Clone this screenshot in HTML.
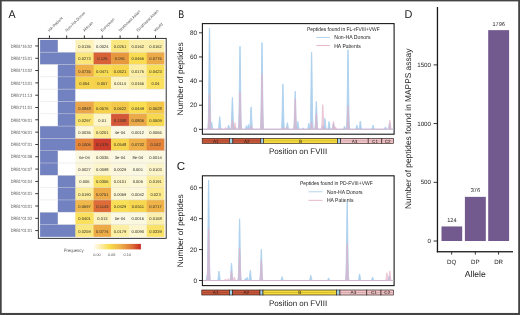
<!DOCTYPE html>
<html><head><meta charset="utf-8"><style>
html,body{margin:0;padding:0;background:#fff;}
body{width:520px;height:315px;overflow:hidden;}
svg{display:block;font-family:"Liberation Sans",sans-serif;will-change:transform;text-rendering:geometricPrecision;}
</style></head><body>
<svg width="520" height="315" viewBox="0 0 520 315">
<rect width="520" height="315" fill="#fff"/>
<rect x="0" y="0" width="520" height="1.4" fill="#444"/>
<rect x="0" y="0" width="1.7" height="315" fill="#444"/>
<rect x="518.2" y="0" width="1.8" height="315" fill="#444"/>
<rect x="0" y="312.95" width="520" height="2.05" fill="#444"/>
<text x="8.50" y="17.60" font-size="11.2" fill="#1a1a1a" text-anchor="start" textLength="7.1" lengthAdjust="spacingAndGlyphs" >A</text>
<text x="178.30" y="17.90" font-size="11.2" fill="#1a1a1a" text-anchor="start" textLength="5.9" lengthAdjust="spacingAndGlyphs" >B</text>
<text x="176.80" y="169.90" font-size="11.6" fill="#1a1a1a" text-anchor="start" >C</text>
<text x="404.50" y="18.10" font-size="11.4" fill="#1a1a1a" text-anchor="start" textLength="7.9" lengthAdjust="spacingAndGlyphs" >D</text>
<rect x="38.35" y="38.4" width="127.85" height="199.95" fill="#fff" stroke="#262626" stroke-width="0.95"/>
<rect x="40.10" y="39.90" width="18.10" height="12.61" fill="#7282c0"/>
<rect x="57.80" y="39.90" width="18.00" height="12.61" fill="#ffffff"/>
<rect x="75.40" y="39.90" width="18.60" height="12.61" fill="#fdf2b9"/>
<rect x="93.60" y="39.90" width="17.90" height="12.61" fill="#fbf8dd"/>
<rect x="111.10" y="39.90" width="18.20" height="12.61" fill="#fbe780"/>
<rect x="128.90" y="39.90" width="18.20" height="12.61" fill="#fcefac"/>
<rect x="146.70" y="39.90" width="17.70" height="12.61" fill="#fcefac"/>
<text transform="translate(84.50,47.95) scale(0.25)" font-size="16.4" fill="#2e2e26" text-anchor="middle">0.0136</text>
<text transform="translate(102.35,47.95) scale(0.25)" font-size="16.4" fill="#2e2e26" text-anchor="middle">0.0024</text>
<text transform="translate(120.00,47.95) scale(0.25)" font-size="16.4" fill="#2e2e26" text-anchor="middle">0.0261</text>
<text transform="translate(137.80,47.95) scale(0.25)" font-size="16.4" fill="#2e2e26" text-anchor="middle">0.0162</text>
<text transform="translate(155.55,47.95) scale(0.25)" font-size="16.4" fill="#2e2e26" text-anchor="middle">0.0162</text>
<rect x="40.10" y="52.21" width="18.10" height="12.61" fill="#7282c0"/>
<rect x="57.80" y="52.21" width="18.00" height="12.61" fill="#7282c0"/>
<rect x="75.40" y="52.21" width="18.60" height="12.61" fill="#fbe67b"/>
<rect x="93.60" y="52.21" width="17.90" height="12.61" fill="#d86238"/>
<rect x="111.10" y="52.21" width="18.20" height="12.61" fill="#e7983f"/>
<rect x="128.90" y="52.21" width="18.20" height="12.61" fill="#f9dc51"/>
<rect x="146.70" y="52.21" width="17.70" height="12.61" fill="#edaa48"/>
<text transform="translate(84.50,60.27) scale(0.25)" font-size="16.4" fill="#2e2e26" text-anchor="middle">0.0273</text>
<text transform="translate(102.35,60.27) scale(0.25)" font-size="16.4" fill="#2e2e26" text-anchor="middle">0.126</text>
<text transform="translate(120.00,60.27) scale(0.25)" font-size="16.4" fill="#2e2e26" text-anchor="middle">0.091</text>
<text transform="translate(137.80,60.27) scale(0.25)" font-size="16.4" fill="#2e2e26" text-anchor="middle">0.0466</text>
<text transform="translate(155.55,60.27) scale(0.25)" font-size="16.4" fill="#2e2e26" text-anchor="middle">0.0776</text>
<rect x="40.10" y="64.52" width="18.10" height="12.61" fill="#ffffff"/>
<rect x="57.80" y="64.52" width="18.00" height="12.61" fill="#7282c0"/>
<rect x="75.40" y="64.52" width="18.60" height="12.61" fill="#efaf49"/>
<rect x="93.60" y="64.52" width="17.90" height="12.61" fill="#f8dc51"/>
<rect x="111.10" y="64.52" width="18.20" height="12.61" fill="#f7d64e"/>
<rect x="128.90" y="64.52" width="18.20" height="12.61" fill="#fceea4"/>
<rect x="146.70" y="64.52" width="17.70" height="12.61" fill="#f9df57"/>
<text transform="translate(84.50,72.58) scale(0.25)" font-size="16.4" fill="#2e2e26" text-anchor="middle">0.0735</text>
<text transform="translate(102.35,72.58) scale(0.25)" font-size="16.4" fill="#2e2e26" text-anchor="middle">0.0471</text>
<text transform="translate(120.00,72.58) scale(0.25)" font-size="16.4" fill="#2e2e26" text-anchor="middle">0.0521</text>
<text transform="translate(137.80,72.58) scale(0.25)" font-size="16.4" fill="#2e2e26" text-anchor="middle">0.0176</text>
<text transform="translate(155.55,72.58) scale(0.25)" font-size="16.4" fill="#2e2e26" text-anchor="middle">0.0423</text>
<rect x="40.10" y="76.83" width="18.10" height="12.61" fill="#ffffff"/>
<rect x="57.80" y="76.83" width="18.00" height="12.61" fill="#7282c0"/>
<rect x="75.40" y="76.83" width="18.60" height="12.61" fill="#f7d44d"/>
<rect x="93.60" y="76.83" width="17.90" height="12.61" fill="#f6d14c"/>
<rect x="111.10" y="76.83" width="18.20" height="12.61" fill="#fdf4c5"/>
<rect x="128.90" y="76.83" width="18.20" height="12.61" fill="#fcefaa"/>
<rect x="146.70" y="76.83" width="17.70" height="12.61" fill="#fae05c"/>
<text transform="translate(84.50,84.89) scale(0.25)" font-size="16.4" fill="#2e2e26" text-anchor="middle">0.054</text>
<text transform="translate(102.35,84.89) scale(0.25)" font-size="16.4" fill="#2e2e26" text-anchor="middle">0.057</text>
<text transform="translate(120.00,84.89) scale(0.25)" font-size="16.4" fill="#2e2e26" text-anchor="middle">0.0114</text>
<text transform="translate(137.80,84.89) scale(0.25)" font-size="16.4" fill="#2e2e26" text-anchor="middle">0.0166</text>
<text transform="translate(155.55,84.89) scale(0.25)" font-size="16.4" fill="#2e2e26" text-anchor="middle">0.04</text>
<rect x="40.10" y="89.14" width="18.10" height="12.61" fill="#ffffff"/>
<rect x="57.80" y="89.14" width="18.00" height="12.61" fill="#7282c0"/>
<rect x="75.40" y="89.14" width="18.60" height="12.61" fill="#ffffff"/>
<rect x="93.60" y="89.14" width="17.90" height="12.61" fill="#ffffff"/>
<rect x="111.10" y="89.14" width="18.20" height="12.61" fill="#ffffff"/>
<rect x="128.90" y="89.14" width="18.20" height="12.61" fill="#ffffff"/>
<rect x="146.70" y="89.14" width="17.70" height="12.61" fill="#ffffff"/>
<rect x="40.10" y="101.45" width="18.10" height="12.61" fill="#ffffff"/>
<rect x="57.80" y="101.45" width="18.00" height="12.61" fill="#7282c0"/>
<rect x="75.40" y="101.45" width="18.60" height="12.61" fill="#eaa648"/>
<rect x="93.60" y="101.45" width="17.90" height="12.61" fill="#f6d14b"/>
<rect x="111.10" y="101.45" width="18.20" height="12.61" fill="#f4c94a"/>
<rect x="128.90" y="101.45" width="18.20" height="12.61" fill="#f9de52"/>
<rect x="146.70" y="101.45" width="17.70" height="12.61" fill="#f4c74a"/>
<text transform="translate(84.50,109.51) scale(0.25)" font-size="16.4" fill="#2e2e26" text-anchor="middle">0.0848</text>
<text transform="translate(102.35,109.51) scale(0.25)" font-size="16.4" fill="#2e2e26" text-anchor="middle">0.0576</text>
<text transform="translate(120.00,109.51) scale(0.25)" font-size="16.4" fill="#2e2e26" text-anchor="middle">0.0622</text>
<text transform="translate(137.80,109.51) scale(0.25)" font-size="16.4" fill="#2e2e26" text-anchor="middle">0.0449</text>
<text transform="translate(155.55,109.51) scale(0.25)" font-size="16.4" fill="#2e2e26" text-anchor="middle">0.0628</text>
<rect x="40.10" y="113.76" width="18.10" height="12.61" fill="#ffffff"/>
<rect x="57.80" y="113.76" width="18.00" height="12.61" fill="#7282c0"/>
<rect x="75.40" y="113.76" width="18.60" height="12.61" fill="#fbe471"/>
<rect x="93.60" y="113.76" width="17.90" height="12.61" fill="#fdf5cc"/>
<rect x="111.10" y="113.76" width="18.20" height="12.61" fill="#d45838"/>
<rect x="128.90" y="113.76" width="18.20" height="12.61" fill="#eca948"/>
<rect x="146.70" y="113.76" width="17.70" height="12.61" fill="#f7d84f"/>
<text transform="translate(84.50,121.81) scale(0.25)" font-size="16.4" fill="#2e2e26" text-anchor="middle">0.0297</text>
<text transform="translate(102.35,121.81) scale(0.25)" font-size="16.4" fill="#2e2e26" text-anchor="middle">0.01</text>
<text transform="translate(120.00,121.81) scale(0.25)" font-size="16.4" fill="#2e2e26" text-anchor="middle">0.1308</text>
<text transform="translate(137.80,121.81) scale(0.25)" font-size="16.4" fill="#2e2e26" text-anchor="middle">0.0806</text>
<text transform="translate(155.55,121.81) scale(0.25)" font-size="16.4" fill="#2e2e26" text-anchor="middle">0.0509</text>
<rect x="40.10" y="126.07" width="18.10" height="12.61" fill="#7282c0"/>
<rect x="57.80" y="126.07" width="18.00" height="12.61" fill="#7282c0"/>
<rect x="75.40" y="126.07" width="18.60" height="12.61" fill="#fcf7da"/>
<rect x="93.60" y="126.07" width="17.90" height="12.61" fill="#fcec98"/>
<rect x="111.10" y="126.07" width="18.20" height="12.61" fill="#fbf8e3"/>
<rect x="128.90" y="126.07" width="18.20" height="12.61" fill="#fbf8e1"/>
<rect x="146.70" y="126.07" width="17.70" height="12.61" fill="#fcf6d3"/>
<text transform="translate(84.50,134.12) scale(0.25)" font-size="16.4" fill="#2e2e26" text-anchor="middle">0.0036</text>
<text transform="translate(102.35,134.12) scale(0.25)" font-size="16.4" fill="#2e2e26" text-anchor="middle">0.0201</text>
<text transform="translate(120.00,134.12) scale(0.25)" font-size="16.4" fill="#2e2e26" text-anchor="middle">4e-04</text>
<text transform="translate(137.80,134.12) scale(0.25)" font-size="16.4" fill="#2e2e26" text-anchor="middle">0.0012</text>
<text transform="translate(155.55,134.12) scale(0.25)" font-size="16.4" fill="#2e2e26" text-anchor="middle">0.0066</text>
<rect x="40.10" y="138.38" width="18.10" height="12.61" fill="#7282c0"/>
<rect x="57.80" y="138.38" width="18.00" height="12.61" fill="#7282c0"/>
<rect x="75.40" y="138.38" width="18.60" height="12.61" fill="#e4853a"/>
<rect x="93.60" y="138.38" width="17.90" height="12.61" fill="#cc3e2b"/>
<rect x="111.10" y="138.38" width="18.20" height="12.61" fill="#f6d44d"/>
<rect x="128.90" y="138.38" width="18.20" height="12.61" fill="#efb049"/>
<rect x="146.70" y="138.38" width="17.70" height="12.61" fill="#e3833a"/>
<text transform="translate(84.50,146.44) scale(0.25)" font-size="16.4" fill="#2e2e26" text-anchor="middle">0.1006</text>
<text transform="translate(102.35,146.44) scale(0.25)" font-size="16.4" fill="#2e2e26" text-anchor="middle">0.1376</text>
<text transform="translate(120.00,146.44) scale(0.25)" font-size="16.4" fill="#2e2e26" text-anchor="middle">0.0548</text>
<text transform="translate(137.80,146.44) scale(0.25)" font-size="16.4" fill="#2e2e26" text-anchor="middle">0.0732</text>
<text transform="translate(155.55,146.44) scale(0.25)" font-size="16.4" fill="#2e2e26" text-anchor="middle">0.102</text>
<rect x="40.10" y="150.69" width="18.10" height="12.61" fill="#7282c0"/>
<rect x="57.80" y="150.69" width="18.00" height="12.61" fill="#ffffff"/>
<rect x="75.40" y="150.69" width="18.60" height="12.61" fill="#fbf8e2"/>
<rect x="93.60" y="150.69" width="17.90" height="12.61" fill="#fcf7da"/>
<rect x="111.10" y="150.69" width="18.20" height="12.61" fill="#fbf8e3"/>
<rect x="128.90" y="150.69" width="18.20" height="12.61" fill="#fbf8e2"/>
<rect x="146.70" y="150.69" width="17.70" height="12.61" fill="#fbf8e0"/>
<text transform="translate(84.50,158.75) scale(0.25)" font-size="16.4" fill="#2e2e26" text-anchor="middle">6e-04</text>
<text transform="translate(102.35,158.75) scale(0.25)" font-size="16.4" fill="#2e2e26" text-anchor="middle">0.0036</text>
<text transform="translate(120.00,158.75) scale(0.25)" font-size="16.4" fill="#2e2e26" text-anchor="middle">3e-04</text>
<text transform="translate(137.80,158.75) scale(0.25)" font-size="16.4" fill="#2e2e26" text-anchor="middle">8e-04</text>
<text transform="translate(155.55,158.75) scale(0.25)" font-size="16.4" fill="#2e2e26" text-anchor="middle">0.0014</text>
<rect x="40.10" y="163.00" width="18.10" height="12.61" fill="#7282c0"/>
<rect x="57.80" y="163.00" width="18.00" height="12.61" fill="#ffffff"/>
<rect x="75.40" y="163.00" width="18.60" height="12.61" fill="#fcf7dc"/>
<rect x="93.60" y="163.00" width="17.90" height="12.61" fill="#fdf5cc"/>
<rect x="111.10" y="163.00" width="18.20" height="12.61" fill="#fcf7dc"/>
<rect x="128.90" y="163.00" width="18.20" height="12.61" fill="#fbf8e1"/>
<rect x="146.70" y="163.00" width="17.70" height="12.61" fill="#fdf5ca"/>
<text transform="translate(84.50,171.06) scale(0.25)" font-size="16.4" fill="#2e2e26" text-anchor="middle">0.0027</text>
<text transform="translate(102.35,171.06) scale(0.25)" font-size="16.4" fill="#2e2e26" text-anchor="middle">0.0098</text>
<text transform="translate(120.00,171.06) scale(0.25)" font-size="16.4" fill="#2e2e26" text-anchor="middle">0.0029</text>
<text transform="translate(137.80,171.06) scale(0.25)" font-size="16.4" fill="#2e2e26" text-anchor="middle">0.001</text>
<text transform="translate(155.55,171.06) scale(0.25)" font-size="16.4" fill="#2e2e26" text-anchor="middle">0.0103</text>
<rect x="40.10" y="175.31" width="18.10" height="12.61" fill="#ffffff"/>
<rect x="57.80" y="175.31" width="18.00" height="12.61" fill="#7282c0"/>
<rect x="75.40" y="175.31" width="18.60" height="12.61" fill="#fcf7d4"/>
<rect x="93.60" y="175.31" width="17.90" height="12.61" fill="#fae265"/>
<rect x="111.10" y="175.31" width="18.20" height="12.61" fill="#fdf5cb"/>
<rect x="128.90" y="175.31" width="18.20" height="12.61" fill="#fcf7d4"/>
<rect x="146.70" y="175.31" width="17.70" height="12.61" fill="#fced9d"/>
<text transform="translate(84.50,183.37) scale(0.25)" font-size="16.4" fill="#2e2e26" text-anchor="middle">0.006</text>
<text transform="translate(102.35,183.37) scale(0.25)" font-size="16.4" fill="#2e2e26" text-anchor="middle">0.0356</text>
<text transform="translate(120.00,183.37) scale(0.25)" font-size="16.4" fill="#2e2e26" text-anchor="middle">0.0101</text>
<text transform="translate(137.80,183.37) scale(0.25)" font-size="16.4" fill="#2e2e26" text-anchor="middle">0.006</text>
<text transform="translate(155.55,183.37) scale(0.25)" font-size="16.4" fill="#2e2e26" text-anchor="middle">0.0191</text>
<rect x="40.10" y="187.62" width="18.10" height="12.61" fill="#ffffff"/>
<rect x="57.80" y="187.62" width="18.00" height="12.61" fill="#7282c0"/>
<rect x="75.40" y="187.62" width="18.60" height="12.61" fill="#fced9d"/>
<rect x="93.60" y="187.62" width="17.90" height="12.61" fill="#eeac48"/>
<rect x="111.10" y="187.62" width="18.20" height="12.61" fill="#fcf6d2"/>
<rect x="128.90" y="187.62" width="18.20" height="12.61" fill="#fcf7d8"/>
<rect x="146.70" y="187.62" width="17.70" height="12.61" fill="#fcea8c"/>
<text transform="translate(84.50,195.68) scale(0.25)" font-size="16.4" fill="#2e2e26" text-anchor="middle">0.0190</text>
<text transform="translate(102.35,195.68) scale(0.25)" font-size="16.4" fill="#2e2e26" text-anchor="middle">0.0751</text>
<text transform="translate(120.00,195.68) scale(0.25)" font-size="16.4" fill="#2e2e26" text-anchor="middle">0.0069</text>
<text transform="translate(137.80,195.68) scale(0.25)" font-size="16.4" fill="#2e2e26" text-anchor="middle">0.0042</text>
<text transform="translate(155.55,195.68) scale(0.25)" font-size="16.4" fill="#2e2e26" text-anchor="middle">0.023</text>
<rect x="40.10" y="199.93" width="18.10" height="12.61" fill="#ffffff"/>
<rect x="57.80" y="199.93" width="18.00" height="12.61" fill="#7282c0"/>
<rect x="75.40" y="199.93" width="18.60" height="12.61" fill="#f0b74a"/>
<rect x="93.60" y="199.93" width="17.90" height="12.61" fill="#dd6d38"/>
<rect x="111.10" y="199.93" width="18.20" height="12.61" fill="#f9df56"/>
<rect x="128.90" y="199.93" width="18.20" height="12.61" fill="#f7d74f"/>
<rect x="146.70" y="199.93" width="17.70" height="12.61" fill="#efb349"/>
<text transform="translate(84.50,207.99) scale(0.25)" font-size="16.4" fill="#2e2e26" text-anchor="middle">0.0697</text>
<text transform="translate(102.35,207.99) scale(0.25)" font-size="16.4" fill="#2e2e26" text-anchor="middle">0.1143</text>
<text transform="translate(120.00,207.99) scale(0.25)" font-size="16.4" fill="#2e2e26" text-anchor="middle">0.0429</text>
<text transform="translate(137.80,207.99) scale(0.25)" font-size="16.4" fill="#2e2e26" text-anchor="middle">0.0511</text>
<text transform="translate(155.55,207.99) scale(0.25)" font-size="16.4" fill="#2e2e26" text-anchor="middle">0.0717</text>
<rect x="40.10" y="212.24" width="18.10" height="12.61" fill="#7282c0"/>
<rect x="57.80" y="212.24" width="18.00" height="12.61" fill="#ffffff"/>
<rect x="75.40" y="212.24" width="18.60" height="12.61" fill="#fae05c"/>
<rect x="93.60" y="212.24" width="17.90" height="12.61" fill="#fdf2bc"/>
<rect x="111.10" y="212.24" width="18.20" height="12.61" fill="#fbf8e3"/>
<rect x="128.90" y="212.24" width="18.20" height="12.61" fill="#fbf8e0"/>
<rect x="146.70" y="212.24" width="17.70" height="12.61" fill="#fcf0ae"/>
<text transform="translate(84.50,220.30) scale(0.25)" font-size="16.4" fill="#2e2e26" text-anchor="middle">0.0401</text>
<text transform="translate(102.35,220.30) scale(0.25)" font-size="16.4" fill="#2e2e26" text-anchor="middle">0.013</text>
<text transform="translate(120.00,220.30) scale(0.25)" font-size="16.4" fill="#2e2e26" text-anchor="middle">5e-04</text>
<text transform="translate(137.80,220.30) scale(0.25)" font-size="16.4" fill="#2e2e26" text-anchor="middle">0.0016</text>
<text transform="translate(155.55,220.30) scale(0.25)" font-size="16.4" fill="#2e2e26" text-anchor="middle">0.0158</text>
<rect x="40.10" y="224.55" width="18.10" height="12.31" fill="#7282c0"/>
<rect x="57.80" y="224.55" width="18.00" height="12.31" fill="#7282c0"/>
<rect x="75.40" y="224.55" width="18.60" height="12.31" fill="#fbe780"/>
<rect x="93.60" y="224.55" width="17.90" height="12.31" fill="#edab48"/>
<rect x="111.10" y="224.55" width="18.20" height="12.31" fill="#fceea3"/>
<rect x="128.90" y="224.55" width="18.20" height="12.31" fill="#fdf5ce"/>
<rect x="146.70" y="224.55" width="17.70" height="12.31" fill="#fae268"/>
<text transform="translate(84.50,232.61) scale(0.25)" font-size="16.4" fill="#2e2e26" text-anchor="middle">0.0259</text>
<text transform="translate(102.35,232.61) scale(0.25)" font-size="16.4" fill="#2e2e26" text-anchor="middle">0.0774</text>
<text transform="translate(120.00,232.61) scale(0.25)" font-size="16.4" fill="#2e2e26" text-anchor="middle">0.0179</text>
<text transform="translate(137.80,232.61) scale(0.25)" font-size="16.4" fill="#2e2e26" text-anchor="middle">0.0090</text>
<text transform="translate(155.55,232.61) scale(0.25)" font-size="16.4" fill="#2e2e26" text-anchor="middle">0.0339</text>
<rect x="40.10" y="51.91" width="124.30" height="0.6" fill="#dcdce2" opacity="0.75"/>
<rect x="40.10" y="64.22" width="124.30" height="0.6" fill="#dcdce2" opacity="0.75"/>
<rect x="40.10" y="76.53" width="124.30" height="0.6" fill="#dcdce2" opacity="0.75"/>
<rect x="40.10" y="88.84" width="124.30" height="0.6" fill="#dcdce2" opacity="0.75"/>
<rect x="40.10" y="101.15" width="124.30" height="0.6" fill="#dcdce2" opacity="0.75"/>
<rect x="40.10" y="113.46" width="124.30" height="0.6" fill="#dcdce2" opacity="0.75"/>
<rect x="40.10" y="125.77" width="124.30" height="0.6" fill="#dcdce2" opacity="0.75"/>
<rect x="40.10" y="138.08" width="124.30" height="0.6" fill="#dcdce2" opacity="0.75"/>
<rect x="40.10" y="150.39" width="124.30" height="0.6" fill="#dcdce2" opacity="0.75"/>
<rect x="40.10" y="162.70" width="124.30" height="0.6" fill="#dcdce2" opacity="0.75"/>
<rect x="40.10" y="175.01" width="124.30" height="0.6" fill="#dcdce2" opacity="0.75"/>
<rect x="40.10" y="187.32" width="124.30" height="0.6" fill="#dcdce2" opacity="0.75"/>
<rect x="40.10" y="199.63" width="124.30" height="0.6" fill="#dcdce2" opacity="0.75"/>
<rect x="40.10" y="211.94" width="124.30" height="0.6" fill="#dcdce2" opacity="0.75"/>
<rect x="40.10" y="224.25" width="124.30" height="0.6" fill="#dcdce2" opacity="0.75"/>
<text x="32.10" y="47.66" font-size="4.6" fill="#606060" text-anchor="end" textLength="21.4" lengthAdjust="spacingAndGlyphs" >DRB1*16:02</text>
<rect x="35.3" y="45.50" width="2.7" height="0.9" fill="#222"/>
<text x="32.10" y="59.97" font-size="4.6" fill="#606060" text-anchor="end" textLength="21.4" lengthAdjust="spacingAndGlyphs" >DRB1*15:01</text>
<rect x="35.3" y="57.81" width="2.7" height="0.9" fill="#222"/>
<text x="32.10" y="72.28" font-size="4.6" fill="#606060" text-anchor="end" textLength="21.4" lengthAdjust="spacingAndGlyphs" >DRB1*13:02</text>
<rect x="35.3" y="70.12" width="2.7" height="0.9" fill="#222"/>
<text x="32.10" y="84.59" font-size="4.6" fill="#606060" text-anchor="end" textLength="21.4" lengthAdjust="spacingAndGlyphs" >DRB1*13:01</text>
<rect x="35.3" y="82.44" width="2.7" height="0.9" fill="#222"/>
<text x="32.10" y="96.90" font-size="4.6" fill="#606060" text-anchor="end" textLength="21.4" lengthAdjust="spacingAndGlyphs" >DRB1*11:13</text>
<rect x="35.3" y="94.75" width="2.7" height="0.9" fill="#222"/>
<text x="32.10" y="109.21" font-size="4.6" fill="#606060" text-anchor="end" textLength="21.4" lengthAdjust="spacingAndGlyphs" >DRB1*11:01</text>
<rect x="35.3" y="107.06" width="2.7" height="0.9" fill="#222"/>
<text x="32.10" y="121.52" font-size="4.6" fill="#606060" text-anchor="end" textLength="21.4" lengthAdjust="spacingAndGlyphs" >DRB1*09:01</text>
<rect x="35.3" y="119.36" width="2.7" height="0.9" fill="#222"/>
<text x="32.10" y="133.82" font-size="4.6" fill="#606060" text-anchor="end" textLength="21.4" lengthAdjust="spacingAndGlyphs" >DRB1*08:01</text>
<rect x="35.3" y="131.68" width="2.7" height="0.9" fill="#222"/>
<text x="32.10" y="146.13" font-size="4.6" fill="#606060" text-anchor="end" textLength="21.4" lengthAdjust="spacingAndGlyphs" >DRB1*07:01</text>
<rect x="35.3" y="143.99" width="2.7" height="0.9" fill="#222"/>
<text x="32.10" y="158.44" font-size="4.6" fill="#606060" text-anchor="end" textLength="21.4" lengthAdjust="spacingAndGlyphs" >DRB1*04:08</text>
<rect x="35.3" y="156.30" width="2.7" height="0.9" fill="#222"/>
<text x="32.10" y="170.75" font-size="4.6" fill="#606060" text-anchor="end" textLength="21.4" lengthAdjust="spacingAndGlyphs" >DRB1*04:07</text>
<rect x="35.3" y="168.61" width="2.7" height="0.9" fill="#222"/>
<text x="32.10" y="183.06" font-size="4.6" fill="#606060" text-anchor="end" textLength="21.4" lengthAdjust="spacingAndGlyphs" >DRB1*04:04</text>
<rect x="35.3" y="180.92" width="2.7" height="0.9" fill="#222"/>
<text x="32.10" y="195.38" font-size="4.6" fill="#606060" text-anchor="end" textLength="21.4" lengthAdjust="spacingAndGlyphs" >DRB1*04:01</text>
<rect x="35.3" y="193.23" width="2.7" height="0.9" fill="#222"/>
<text x="32.10" y="207.69" font-size="4.6" fill="#606060" text-anchor="end" textLength="21.4" lengthAdjust="spacingAndGlyphs" >DRB1*03:01</text>
<rect x="35.3" y="205.54" width="2.7" height="0.9" fill="#222"/>
<text x="32.10" y="220.00" font-size="4.6" fill="#606060" text-anchor="end" textLength="21.4" lengthAdjust="spacingAndGlyphs" >DRB1*01:02</text>
<rect x="35.3" y="217.85" width="2.7" height="0.9" fill="#222"/>
<text x="32.10" y="232.31" font-size="4.6" fill="#606060" text-anchor="end" textLength="21.4" lengthAdjust="spacingAndGlyphs" >DRB1*01:01</text>
<rect x="35.3" y="230.16" width="2.7" height="0.9" fill="#222"/>
<rect x="48.95" y="35.4" width="0.9" height="2.8" fill="#222"/>
<text transform="translate(49.50,32.1) rotate(-45)" font-size="4.1" fill="#555">HA Patient</text>
<rect x="66.25" y="35.4" width="0.9" height="2.8" fill="#222"/>
<text transform="translate(66.80,32.1) rotate(-45)" font-size="4.1" fill="#555">Non-HA Donor</text>
<rect x="83.85" y="35.4" width="0.9" height="2.8" fill="#222"/>
<text transform="translate(84.40,32.1) rotate(-45)" font-size="4.1" fill="#555">African</text>
<rect x="101.75" y="35.4" width="0.9" height="2.8" fill="#222"/>
<text transform="translate(102.30,32.1) rotate(-45)" font-size="4.1" fill="#555">European</text>
<rect x="119.65" y="35.4" width="0.9" height="2.8" fill="#222"/>
<text transform="translate(120.20,32.1) rotate(-45)" font-size="4.1" fill="#555">Northeast Asian</text>
<rect x="137.35" y="35.4" width="0.9" height="2.8" fill="#222"/>
<text transform="translate(137.90,32.1) rotate(-45)" font-size="4.1" fill="#555">Southeast Asian</text>
<rect x="155.05" y="35.4" width="0.9" height="2.8" fill="#222"/>
<text transform="translate(155.60,32.1) rotate(-45)" font-size="4.1" fill="#555">World</text>
<defs><linearGradient id="cb" x1="0" x2="1" y1="0" y2="0"><stop offset="0" stop-color="#fffcec"/><stop offset="0.12" stop-color="#fcf0b8"/><stop offset="0.33" stop-color="#f8dc4a"/><stop offset="0.55" stop-color="#efb44a"/><stop offset="0.78" stop-color="#e07a3a"/><stop offset="1" stop-color="#c82a22"/></linearGradient></defs>
<rect x="94.2" y="243.9" width="46.7" height="5.5" fill="url(#cb)"/>
<text x="64.00" y="252.30" font-size="4.6" fill="#555" text-anchor="start" textLength="19.5" lengthAdjust="spacingAndGlyphs" >Frequency</text>
<text x="97.00" y="256.20" font-size="3.9" fill="#555" text-anchor="middle" >0.00</text>
<text x="111.60" y="256.20" font-size="3.9" fill="#555" text-anchor="middle" >0.05</text>
<text x="127.30" y="256.20" font-size="3.9" fill="#555" text-anchor="middle" >0.10</text>
<rect x="202.4" y="23.6" width="191.70000000000002" height="110.6" fill="none" stroke="#1a1a1a" stroke-width="1.1"/>
<rect x="199.00" y="128.85" width="3.4" height="0.9" fill="#222"/>
<text x="197.00" y="131.50" font-size="6.4" fill="#222" text-anchor="end" >0</text>
<rect x="199.00" y="104.73" width="3.4" height="0.9" fill="#222"/>
<text x="197.00" y="107.38" font-size="6.4" fill="#222" text-anchor="end" >20</text>
<rect x="199.00" y="80.61" width="3.4" height="0.9" fill="#222"/>
<text x="197.00" y="83.26" font-size="6.4" fill="#222" text-anchor="end" >40</text>
<rect x="199.00" y="56.49" width="3.4" height="0.9" fill="#222"/>
<text x="197.00" y="59.14" font-size="6.4" fill="#222" text-anchor="end" >60</text>
<rect x="199.00" y="32.37" width="3.4" height="0.9" fill="#222"/>
<text x="197.00" y="35.02" font-size="6.4" fill="#222" text-anchor="end" >80</text>
<text transform="translate(183.4,78.90) rotate(-90)" font-size="8.2" fill="#222" text-anchor="middle" textLength="73" lengthAdjust="spacingAndGlyphs">Number of peptides</text>
<path d="M203.20,129.30 L203.30,129.30 L203.40,129.30 L203.50,129.30 L203.60,129.30 L203.70,129.30 L203.80,129.30 L203.90,129.30 L204.00,129.30 L204.10,129.30 L204.20,129.30 L204.30,129.30 L204.40,129.30 L204.50,129.30 L204.60,129.30 L204.70,129.30 L204.80,129.30 L204.90,129.30 L205.00,129.30 L205.10,129.30 L205.20,129.30 L205.30,129.30 L205.40,129.30 L205.50,129.30 L205.60,129.30 L205.70,129.30 L205.80,129.30 L205.90,129.30 L206.00,129.30 L206.10,129.30 L206.20,129.30 L206.30,129.30 L206.40,129.30 L206.50,129.30 L206.60,129.30 L206.70,129.30 L206.80,129.30 L206.90,129.30 L207.00,129.30 L207.10,129.29 L207.20,129.28 L207.30,129.27 L207.40,129.23 L207.50,129.16 L207.60,129.04 L207.70,128.82 L207.80,128.45 L207.90,127.83 L208.00,126.84 L208.10,125.33 L208.20,123.10 L208.30,119.93 L208.40,115.59 L208.50,109.90 L208.60,102.74 L208.70,94.13 L208.80,84.23 L208.90,73.43 L209.00,62.29 L209.10,51.54 L209.20,42.00 L209.30,34.48 L209.40,29.66 L209.50,28.00 L209.60,29.66 L209.70,34.48 L209.80,42.00 L209.90,51.54 L210.00,62.29 L210.10,73.43 L210.20,84.23 L210.30,94.13 L210.40,102.74 L210.50,109.90 L210.60,115.59 L210.70,119.93 L210.80,123.10 L210.90,125.33 L211.00,125.31 L211.10,124.51 L211.20,123.75 L211.30,123.06 L211.40,122.53 L211.50,122.18 L211.60,122.06 L211.70,122.18 L211.80,122.53 L211.90,123.06 L212.00,123.75 L212.10,124.51 L212.20,125.31 L212.30,126.08 L212.40,126.79 L212.50,127.40 L212.60,127.91 L212.70,128.32 L212.80,128.63 L212.90,128.86 L213.00,129.02 L213.10,129.12 L213.20,129.19 L213.30,129.24 L213.40,129.27 L213.50,129.28 L213.60,129.29 L213.70,129.30 L213.80,129.30 L213.90,129.30 L214.00,129.30 L214.10,129.30 L214.20,129.30 L214.30,129.30 L214.40,129.30 L214.50,129.30 L214.60,129.30 L214.70,129.30 L214.80,129.30 L214.90,129.30 L215.00,129.30 L215.10,129.30 L215.20,129.30 L215.30,129.30 L215.40,129.30 L215.50,129.30 L215.60,129.30 L215.70,129.30 L215.80,129.30 L215.90,129.30 L216.00,129.30 L216.10,129.30 L216.20,129.30 L216.30,129.30 L216.40,129.30 L216.50,129.30 L216.60,129.30 L216.70,129.30 L216.80,129.30 L216.90,129.30 L217.00,129.30 L217.10,129.30 L217.20,129.30 L217.30,129.30 L217.40,129.30 L217.50,129.30 L217.60,129.29 L217.70,129.28 L217.80,129.27 L217.90,129.24 L218.00,129.19 L218.10,129.12 L218.20,128.99 L218.30,128.80 L218.40,128.52 L218.50,128.13 L218.60,127.59 L218.70,126.88 L218.80,125.98 L218.90,124.90 L219.00,123.67 L219.10,122.32 L219.20,120.92 L219.30,119.58 L219.40,118.39 L219.50,117.45 L219.60,116.84 L219.70,116.64 L219.80,116.84 L219.90,117.45 L220.00,118.39 L220.10,119.58 L220.20,120.92 L220.30,122.32 L220.40,123.67 L220.50,124.90 L220.60,125.98 L220.70,126.88 L220.80,127.59 L220.90,128.13 L221.00,128.52 L221.10,128.80 L221.20,128.99 L221.30,129.12 L221.40,129.19 L221.50,129.24 L221.60,129.27 L221.70,129.28 L221.80,129.29 L221.90,129.30 L222.00,129.30 L222.10,129.30 L222.20,129.30 L222.30,129.30 L222.40,129.30 L222.50,129.30 L222.60,129.30 L222.70,129.30 L222.80,129.30 L222.90,129.30 L223.00,129.30 L223.10,129.30 L223.20,129.30 L223.30,129.30 L223.40,129.30 L223.50,129.30 L223.60,129.30 L223.70,129.30 L223.80,129.30 L223.90,129.30 L224.00,129.30 L224.10,129.30 L224.20,129.30 L224.30,129.30 L224.40,129.30 L224.50,129.30 L224.60,129.30 L224.70,129.30 L224.80,129.30 L224.90,129.30 L225.00,129.30 L225.10,129.30 L225.20,129.30 L225.30,129.30 L225.40,129.30 L225.50,129.30 L225.60,129.30 L225.70,129.30 L225.80,129.30 L225.90,129.30 L226.00,129.30 L226.10,129.30 L226.20,129.30 L226.30,129.30 L226.40,129.30 L226.50,129.30 L226.60,129.29 L226.70,129.29 L226.80,129.28 L226.90,129.26 L227.00,129.24 L227.10,129.20 L227.20,129.13 L227.30,129.04 L227.40,128.91 L227.50,128.73 L227.60,128.49 L227.70,128.19 L227.80,127.83 L227.90,127.42 L228.00,126.97 L228.10,126.51 L228.20,126.06 L228.30,125.66 L228.40,125.35 L228.50,125.15 L228.60,125.08 L228.70,125.15 L228.80,125.35 L228.90,125.66 L229.00,126.06 L229.10,126.51 L229.20,126.97 L229.30,127.42 L229.40,127.83 L229.50,128.19 L229.60,128.49 L229.70,128.73 L229.80,128.91 L229.90,129.04 L230.00,129.13 L230.10,129.20 L230.20,129.24 L230.30,129.26 L230.40,129.26 L230.50,129.22 L230.60,129.15 L230.70,129.03 L230.80,128.84 L230.90,128.52 L231.00,128.05 L231.10,127.34 L231.20,126.34 L231.30,124.97 L231.40,123.18 L231.50,120.92 L231.60,118.20 L231.70,115.08 L231.80,111.67 L231.90,108.16 L232.00,104.77 L232.10,101.76 L232.20,99.39 L232.30,97.86 L232.40,97.34 L232.50,97.86 L232.60,99.39 L232.70,101.76 L232.80,104.77 L232.90,108.16 L233.00,111.67 L233.10,115.08 L233.20,118.20 L233.30,120.92 L233.40,123.18 L233.50,124.97 L233.60,126.34 L233.70,127.34 L233.80,128.05 L233.90,128.52 L234.00,128.84 L234.10,128.67 L234.20,128.46 L234.30,128.23 L234.40,127.97 L234.50,127.70 L234.60,127.45 L234.70,127.22 L234.80,127.04 L234.90,126.93 L235.00,126.89 L235.10,126.93 L235.20,127.04 L235.30,127.22 L235.40,127.45 L235.50,127.70 L235.60,127.97 L235.70,128.23 L235.80,128.46 L235.90,128.67 L236.00,128.84 L236.10,128.97 L236.20,129.08 L236.30,129.15 L236.40,129.21 L236.50,129.24 L236.60,129.26 L236.70,129.28 L236.80,129.29 L236.90,129.29 L237.00,129.30 L237.10,129.30 L237.20,129.30 L237.30,129.30 L237.40,129.30 L237.50,129.30 L237.60,129.29 L237.70,129.29 L237.80,129.27 L237.90,129.24 L238.00,129.19 L238.10,129.09 L238.20,128.91 L238.30,128.60 L238.40,128.09 L238.50,127.28 L238.60,126.04 L238.70,124.21 L238.80,121.60 L238.90,118.04 L239.00,113.36 L239.10,107.49 L239.20,100.41 L239.30,92.28 L239.40,83.40 L239.50,74.25 L239.60,65.42 L239.70,57.59 L239.80,51.41 L239.90,47.45 L240.00,46.09 L240.10,47.45 L240.20,51.41 L240.30,57.59 L240.40,65.42 L240.50,74.25 L240.60,83.40 L240.70,92.28 L240.80,100.41 L240.90,107.49 L241.00,113.36 L241.10,118.04 L241.20,121.60 L241.30,124.21 L241.40,126.04 L241.50,127.28 L241.60,128.09 L241.70,128.60 L241.80,128.91 L241.90,129.09 L242.00,129.19 L242.10,129.24 L242.20,129.27 L242.30,129.29 L242.40,129.29 L242.50,129.30 L242.60,129.30 L242.70,129.30 L242.80,129.30 L242.90,129.30 L243.00,129.30 L243.10,129.30 L243.20,129.30 L243.30,129.30 L243.40,129.30 L243.50,129.30 L243.60,129.30 L243.70,129.30 L243.80,129.30 L243.90,129.30 L244.00,129.30 L244.10,129.30 L244.20,129.30 L244.30,129.30 L244.40,129.30 L244.50,129.29 L244.60,129.28 L244.70,129.27 L244.80,129.25 L244.90,129.21 L245.00,129.16 L245.10,129.08 L245.20,128.97 L245.30,128.81 L245.40,128.61 L245.50,128.35 L245.60,128.04 L245.70,127.69 L245.80,127.30 L245.90,126.91 L246.00,126.52 L246.10,126.18 L246.20,125.91 L246.30,125.74 L246.40,125.68 L246.50,125.74 L246.60,125.91 L246.70,126.18 L246.80,126.52 L246.90,126.91 L247.00,127.30 L247.10,127.69 L247.20,128.04 L247.30,128.35 L247.40,128.61 L247.50,128.38 L247.60,128.04 L247.70,127.63 L247.80,127.15 L247.90,126.64 L248.00,126.11 L248.10,125.60 L248.20,125.14 L248.30,124.78 L248.40,124.56 L248.50,124.48 L248.60,124.56 L248.70,124.78 L248.80,125.14 L248.90,125.60 L249.00,126.11 L249.10,126.64 L249.20,127.15 L249.30,127.63 L249.40,128.04 L249.50,128.38 L249.60,128.65 L249.70,128.42 L249.80,127.93 L249.90,127.22 L250.00,126.26 L250.10,125.00 L250.20,123.42 L250.30,121.51 L250.40,119.32 L250.50,116.93 L250.60,114.46 L250.70,112.08 L250.80,109.97 L250.90,108.30 L251.00,107.24 L251.10,106.87 L251.20,107.24 L251.30,108.30 L251.40,109.97 L251.50,112.08 L251.60,114.46 L251.70,116.93 L251.80,119.32 L251.90,121.51 L252.00,123.42 L252.10,125.00 L252.20,126.26 L252.30,127.22 L252.40,127.93 L252.50,128.42 L252.60,128.76 L252.70,128.97 L252.80,129.11 L252.90,129.19 L253.00,129.24 L253.10,129.27 L253.20,129.28 L253.30,129.29 L253.40,129.30 L253.50,129.30 L253.60,129.30 L253.70,129.30 L253.80,129.30 L253.90,129.30 L254.00,129.30 L254.10,129.30 L254.20,129.30 L254.30,129.30 L254.40,129.30 L254.50,129.30 L254.60,129.30 L254.70,129.30 L254.80,129.30 L254.90,129.30 L255.00,129.30 L255.10,129.30 L255.20,129.30 L255.30,129.30 L255.40,129.30 L255.50,129.30 L255.60,129.30 L255.70,129.30 L255.80,129.30 L255.90,129.30 L256.00,129.30 L256.10,129.30 L256.20,129.30 L256.30,129.30 L256.40,129.30 L256.50,129.30 L256.60,129.30 L256.70,129.30 L256.80,129.30 L256.90,129.30 L257.00,129.30 L257.10,129.30 L257.20,129.30 L257.30,129.30 L257.40,129.30 L257.50,129.30 L257.60,129.30 L257.70,129.30 L257.80,129.30 L257.90,129.30 L258.00,129.30 L258.10,129.30 L258.20,129.30 L258.30,129.30 L258.40,129.30 L258.50,129.30 L258.60,129.30 L258.70,129.30 L258.80,129.30 L258.90,129.30 L259.00,129.30 L259.10,129.30 L259.20,129.30 L259.30,129.30 L259.40,129.30 L259.50,129.30 L259.60,129.29 L259.70,129.29 L259.80,129.27 L259.90,129.24 L260.00,129.18 L260.10,129.08 L260.20,128.89 L260.30,128.57 L260.40,128.04 L260.50,127.19 L260.60,125.90 L260.70,123.98 L260.80,121.26 L260.90,117.55 L261.00,112.67 L261.10,106.54 L261.20,99.15 L261.30,90.67 L261.40,81.41 L261.50,71.86 L261.60,62.65 L261.70,54.47 L261.80,48.02 L261.90,43.89 L262.00,42.47 L262.10,43.89 L262.20,48.02 L262.30,54.47 L262.40,62.65 L262.50,71.86 L262.60,81.41 L262.70,90.67 L262.80,99.15 L262.90,106.54 L263.00,112.67 L263.10,117.55 L263.20,121.26 L263.30,123.98 L263.40,125.90 L263.50,127.19 L263.60,128.04 L263.70,128.57 L263.80,128.89 L263.90,129.08 L264.00,129.18 L264.10,129.24 L264.20,129.27 L264.30,129.29 L264.40,129.29 L264.50,129.30 L264.60,129.30 L264.70,129.30 L264.80,129.30 L264.90,129.30 L265.00,129.30 L265.10,129.30 L265.20,129.30 L265.30,129.30 L265.40,129.30 L265.50,129.30 L265.60,129.30 L265.70,129.30 L265.80,129.30 L265.90,129.30 L266.00,129.30 L266.10,129.30 L266.20,129.30 L266.30,129.30 L266.40,129.30 L266.50,129.30 L266.60,129.30 L266.70,129.30 L266.80,129.30 L266.90,129.30 L267.00,129.30 L267.10,129.30 L267.20,129.30 L267.30,129.30 L267.40,129.30 L267.50,129.30 L267.60,129.30 L267.70,129.30 L267.80,129.30 L267.90,129.30 L268.00,129.30 L268.10,129.30 L268.20,129.30 L268.30,129.30 L268.40,129.30 L268.50,129.30 L268.60,129.30 L268.70,129.30 L268.80,129.30 L268.90,129.30 L269.00,129.30 L269.10,129.30 L269.20,129.30 L269.30,129.30 L269.40,129.30 L269.50,129.30 L269.60,129.30 L269.70,129.30 L269.80,129.30 L269.90,129.30 L270.00,129.30 L270.10,129.30 L270.20,129.30 L270.30,129.30 L270.40,129.30 L270.50,129.30 L270.60,129.30 L270.70,129.30 L270.80,129.30 L270.90,129.30 L271.00,129.30 L271.10,129.30 L271.20,129.30 L271.30,129.30 L271.40,129.30 L271.50,129.30 L271.60,129.30 L271.70,129.30 L271.80,129.30 L271.90,129.30 L272.00,129.30 L272.10,129.30 L272.20,129.30 L272.30,129.30 L272.40,129.30 L272.50,129.30 L272.60,129.30 L272.70,129.30 L272.80,129.30 L272.90,129.30 L273.00,129.30 L273.10,129.30 L273.20,129.30 L273.30,129.30 L273.40,129.30 L273.50,129.30 L273.60,129.30 L273.70,129.30 L273.80,129.30 L273.90,129.30 L274.00,129.30 L274.10,129.30 L274.20,129.30 L274.30,129.30 L274.40,129.30 L274.50,129.30 L274.60,129.30 L274.70,129.30 L274.80,129.30 L274.90,129.30 L275.00,129.30 L275.10,129.30 L275.20,129.30 L275.30,129.30 L275.40,129.30 L275.50,129.30 L275.60,129.30 L275.70,129.30 L275.80,129.30 L275.90,129.30 L276.00,129.30 L276.10,129.30 L276.20,129.30 L276.30,129.30 L276.40,129.30 L276.50,129.30 L276.60,129.30 L276.70,129.30 L276.80,129.30 L276.90,129.30 L277.00,129.30 L277.10,129.30 L277.20,129.30 L277.30,129.30 L277.40,129.30 L277.50,129.30 L277.60,129.30 L277.70,129.30 L277.80,129.30 L277.90,129.30 L278.00,129.30 L278.10,129.30 L278.20,129.30 L278.30,129.30 L278.40,129.30 L278.50,129.30 L278.60,129.30 L278.70,129.30 L278.80,129.30 L278.90,129.30 L279.00,129.30 L279.10,129.30 L279.20,129.30 L279.30,129.30 L279.40,129.30 L279.50,129.30 L279.60,129.30 L279.70,129.30 L279.80,129.30 L279.90,129.30 L280.00,129.30 L280.10,129.30 L280.20,129.30 L280.30,129.30 L280.40,129.30 L280.50,129.30 L280.60,129.29 L280.70,129.28 L280.80,129.27 L280.90,129.24 L281.00,129.18 L281.10,129.09 L281.20,128.92 L281.30,128.64 L281.40,128.20 L281.50,127.53 L281.60,126.53 L281.70,125.12 L281.80,123.18 L281.90,120.64 L282.00,117.44 L282.10,113.60 L282.20,109.18 L282.30,104.36 L282.40,99.38 L282.50,94.58 L282.60,90.33 L282.70,86.97 L282.80,84.82 L282.90,84.08 L283.00,84.82 L283.10,86.97 L283.20,90.33 L283.30,94.58 L283.40,99.38 L283.50,104.36 L283.60,109.18 L283.70,113.60 L283.80,117.44 L283.90,120.64 L284.00,123.18 L284.10,125.12 L284.20,126.53 L284.30,127.53 L284.40,128.20 L284.50,128.64 L284.60,128.92 L284.70,129.09 L284.80,129.18 L284.90,129.24 L285.00,129.27 L285.10,129.28 L285.20,129.29 L285.30,129.30 L285.40,129.29 L285.50,129.28 L285.60,129.27 L285.70,129.24 L285.80,129.20 L285.90,129.14 L286.00,129.04 L286.10,128.89 L286.20,128.69 L286.30,128.40 L286.40,128.03 L286.50,127.56 L286.60,127.00 L286.70,126.35 L286.80,125.64 L286.90,124.91 L287.00,124.21 L287.10,123.58 L287.20,123.09 L287.30,122.78 L287.40,122.67 L287.50,122.78 L287.60,123.09 L287.70,123.58 L287.80,124.21 L287.90,124.91 L288.00,125.64 L288.10,126.35 L288.20,127.00 L288.30,127.56 L288.40,128.03 L288.50,128.40 L288.60,128.69 L288.70,128.89 L288.80,129.04 L288.90,129.14 L289.00,129.20 L289.10,129.24 L289.20,129.27 L289.30,129.28 L289.40,129.29 L289.50,129.30 L289.60,129.30 L289.70,129.30 L289.80,129.30 L289.90,129.30 L290.00,129.30 L290.10,129.30 L290.20,129.30 L290.30,129.30 L290.40,129.30 L290.50,129.30 L290.60,129.30 L290.70,129.30 L290.80,129.30 L290.90,129.30 L291.00,129.30 L291.10,129.30 L291.20,129.30 L291.30,129.30 L291.40,129.30 L291.50,129.30 L291.60,129.30 L291.70,129.30 L291.80,129.30 L291.90,129.30 L292.00,129.30 L292.10,129.30 L292.20,129.30 L292.30,129.30 L292.40,129.30 L292.50,129.30 L292.60,129.30 L292.70,129.30 L292.80,129.30 L292.90,129.29 L293.00,129.29 L293.10,129.27 L293.20,129.25 L293.30,129.20 L293.40,129.12 L293.50,128.98 L293.60,128.75 L293.70,128.38 L293.80,127.81 L293.90,126.97 L294.00,125.78 L294.10,124.16 L294.20,122.03 L294.30,119.34 L294.40,116.11 L294.50,112.40 L294.60,108.35 L294.70,104.17 L294.80,100.14 L294.90,96.56 L295.00,93.74 L295.10,91.93 L295.20,91.31 L295.30,91.93 L295.40,93.74 L295.50,96.56 L295.60,100.14 L295.70,104.17 L295.80,108.35 L295.90,112.40 L296.00,116.11 L296.10,119.34 L296.20,122.03 L296.30,124.16 L296.40,125.78 L296.50,126.97 L296.60,127.81 L296.70,128.24 L296.80,127.80 L296.90,127.25 L297.00,126.58 L297.10,125.81 L297.20,124.98 L297.30,124.11 L297.40,123.28 L297.50,122.54 L297.60,121.96 L297.70,121.59 L297.80,121.46 L297.90,121.59 L298.00,121.96 L298.10,122.54 L298.20,123.28 L298.30,124.11 L298.40,124.98 L298.50,125.81 L298.60,126.58 L298.70,127.25 L298.80,127.80 L298.90,128.24 L299.00,128.57 L299.10,128.82 L299.20,128.99 L299.30,129.11 L299.40,129.19 L299.50,129.23 L299.60,129.26 L299.70,129.28 L299.80,129.29 L299.90,129.29 L300.00,129.30 L300.10,129.30 L300.20,129.30 L300.30,129.30 L300.40,129.30 L300.50,129.30 L300.60,129.30 L300.70,129.30 L300.80,129.30 L300.90,129.30 L301.00,129.30 L301.10,129.30 L301.20,129.29 L301.30,129.29 L301.40,129.28 L301.50,129.26 L301.60,129.24 L301.70,129.21 L301.80,129.17 L301.90,129.10 L302.00,129.02 L302.10,128.92 L302.20,128.80 L302.30,128.66 L302.40,128.50 L302.50,128.34 L302.60,128.19 L302.70,128.05 L302.80,127.95 L302.90,127.88 L303.00,127.85 L303.10,127.88 L303.20,127.95 L303.30,128.05 L303.40,128.19 L303.50,128.34 L303.60,128.50 L303.70,128.66 L303.80,128.80 L303.90,128.92 L304.00,129.02 L304.10,129.10 L304.20,129.17 L304.30,129.21 L304.40,129.24 L304.50,129.26 L304.60,129.28 L304.70,129.29 L304.80,129.29 L304.90,129.30 L305.00,129.30 L305.10,129.30 L305.20,129.30 L305.30,129.30 L305.40,129.30 L305.50,129.30 L305.60,129.30 L305.70,129.30 L305.80,129.30 L305.90,129.30 L306.00,129.30 L306.10,129.30 L306.20,129.30 L306.30,129.30 L306.40,129.30 L306.50,129.30 L306.60,129.30 L306.70,129.30 L306.80,129.29 L306.90,129.28 L307.00,129.27 L307.10,129.25 L307.20,129.21 L307.30,129.15 L307.40,129.06 L307.50,128.93 L307.60,128.74 L307.70,128.48 L307.80,128.15 L307.90,127.72 L308.00,127.21 L308.10,126.62 L308.20,125.97 L308.30,125.31 L308.40,124.67 L308.50,124.10 L308.60,123.66 L308.70,123.37 L308.80,123.27 L308.90,123.37 L309.00,123.66 L309.10,124.10 L309.20,124.67 L309.30,125.31 L309.40,125.97 L309.50,126.62 L309.60,127.21 L309.70,127.72 L309.80,128.15 L309.90,128.48 L310.00,128.18 L310.10,127.43 L310.20,126.28 L310.30,124.58 L310.40,122.16 L310.50,118.85 L310.60,114.52 L310.70,109.07 L310.80,102.50 L310.90,94.96 L311.00,86.73 L311.10,78.24 L311.20,70.05 L311.30,62.78 L311.40,57.05 L311.50,53.38 L311.60,52.12 L311.70,53.38 L311.80,57.05 L311.90,62.78 L312.00,70.05 L312.10,78.24 L312.20,86.73 L312.30,94.96 L312.40,102.50 L312.50,109.07 L312.60,114.52 L312.70,118.85 L312.80,122.16 L312.90,124.58 L313.00,126.28 L313.10,127.43 L313.20,128.18 L313.30,128.65 L313.40,128.94 L313.50,129.10 L313.60,129.20 L313.70,129.25 L313.80,129.27 L313.90,129.29 L314.00,129.29 L314.10,129.29 L314.20,129.28 L314.30,129.26 L314.40,129.23 L314.50,129.17 L314.60,129.07 L314.70,128.90 L314.80,128.63 L314.90,128.21 L315.00,127.60 L315.10,126.73 L315.20,125.55 L315.30,123.99 L315.40,122.03 L315.50,119.67 L315.60,116.96 L315.70,114.00 L315.80,110.95 L315.90,108.01 L316.00,105.40 L316.10,103.34 L316.20,102.02 L316.30,101.56 L316.40,102.02 L316.50,103.34 L316.60,105.40 L316.70,108.01 L316.80,110.95 L316.90,114.00 L317.00,116.96 L317.10,119.67 L317.20,122.03 L317.30,123.99 L317.40,125.55 L317.50,126.73 L317.60,127.60 L317.70,128.21 L317.80,128.63 L317.90,128.90 L318.00,129.07 L318.10,129.17 L318.20,129.23 L318.30,129.26 L318.40,129.28 L318.50,129.29 L318.60,129.30 L318.70,129.30 L318.80,129.30 L318.90,129.30 L319.00,129.30 L319.10,129.30 L319.20,129.30 L319.30,129.30 L319.40,129.30 L319.50,129.30 L319.60,129.30 L319.70,129.30 L319.80,129.30 L319.90,129.30 L320.00,129.30 L320.10,129.30 L320.20,129.30 L320.30,129.30 L320.40,129.30 L320.50,129.30 L320.60,129.30 L320.70,129.30 L320.80,129.30 L320.90,129.29 L321.00,129.28 L321.10,129.27 L321.20,129.25 L321.30,129.21 L321.40,129.16 L321.50,129.08 L321.60,128.97 L321.70,128.81 L321.80,128.61 L321.90,128.35 L322.00,128.04 L322.10,127.69 L322.20,127.30 L322.30,126.91 L322.40,126.52 L322.50,126.18 L322.60,125.91 L322.70,125.74 L322.80,125.68 L322.90,125.74 L323.00,125.91 L323.10,126.18 L323.20,126.52 L323.30,126.91 L323.40,127.30 L323.50,127.69 L323.60,128.04 L323.70,128.30 L323.80,127.83 L323.90,127.22 L324.00,126.45 L324.10,125.53 L324.20,124.47 L324.30,123.31 L324.40,122.12 L324.50,120.97 L324.60,119.95 L324.70,119.14 L324.80,118.62 L324.90,118.45 L325.00,118.62 L325.10,119.14 L325.20,119.95 L325.30,120.97 L325.40,122.12 L325.50,123.31 L325.60,124.47 L325.70,125.53 L325.80,126.45 L325.90,127.22 L326.00,127.83 L326.10,128.30 L326.20,128.64 L326.30,128.87 L326.40,129.04 L326.50,129.14 L326.60,129.21 L326.70,129.25 L326.80,129.27 L326.90,129.29 L327.00,129.29 L327.10,129.29 L327.20,129.28 L327.30,129.26 L327.40,129.23 L327.50,129.19 L327.60,129.11 L327.70,128.99 L327.80,128.82 L327.90,128.57 L328.00,128.24 L328.10,127.80 L328.20,127.25 L328.30,126.58 L328.40,125.81 L328.50,124.98 L328.60,124.11 L328.70,123.28 L328.80,122.54 L328.90,121.96 L329.00,121.59 L329.10,121.46 L329.20,121.59 L329.30,121.96 L329.40,122.54 L329.50,123.28 L329.60,124.11 L329.70,124.98 L329.80,125.81 L329.90,126.58 L330.00,127.25 L330.10,127.80 L330.20,128.24 L330.30,128.57 L330.40,128.82 L330.50,128.99 L330.60,129.11 L330.70,129.19 L330.80,129.23 L330.90,129.26 L331.00,129.28 L331.10,129.29 L331.20,129.29 L331.30,129.30 L331.40,129.30 L331.50,129.29 L331.60,129.28 L331.70,129.27 L331.80,129.25 L331.90,129.21 L332.00,129.15 L332.10,129.06 L332.20,128.93 L332.30,128.74 L332.40,128.48 L332.50,128.15 L332.60,127.72 L332.70,127.21 L332.80,126.62 L332.90,125.97 L333.00,125.31 L333.10,124.67 L333.20,124.10 L333.30,123.66 L333.40,123.37 L333.50,123.27 L333.60,123.37 L333.70,123.66 L333.80,124.10 L333.90,124.67 L334.00,125.31 L334.10,125.97 L334.20,126.62 L334.30,127.21 L334.40,127.72 L334.50,128.15 L334.60,128.48 L334.70,128.74 L334.80,128.93 L334.90,129.06 L335.00,129.15 L335.10,129.21 L335.20,129.25 L335.30,129.27 L335.40,129.28 L335.50,129.29 L335.60,129.30 L335.70,129.30 L335.80,129.30 L335.90,129.30 L336.00,129.30 L336.10,129.30 L336.20,129.30 L336.30,129.30 L336.40,129.30 L336.50,129.30 L336.60,129.30 L336.70,129.30 L336.80,129.30 L336.90,129.30 L337.00,129.30 L337.10,129.30 L337.20,129.30 L337.30,129.30 L337.40,129.30 L337.50,129.30 L337.60,129.30 L337.70,129.30 L337.80,129.30 L337.90,129.30 L338.00,129.30 L338.10,129.30 L338.20,129.30 L338.30,129.30 L338.40,129.30 L338.50,129.30 L338.60,129.30 L338.70,129.30 L338.80,129.30 L338.90,129.30 L339.00,129.30 L339.10,129.30 L339.20,129.30 L339.30,129.30 L339.40,129.30 L339.50,129.30 L339.60,129.30 L339.70,129.30 L339.80,129.30 L339.90,129.30 L340.00,129.30 L340.10,129.30 L340.20,129.30 L340.30,129.30 L340.40,129.30 L340.50,129.30 L340.60,129.30 L340.70,129.30 L340.80,129.30 L340.90,129.30 L341.00,129.30 L341.10,129.30 L341.20,129.30 L341.30,129.30 L341.40,129.30 L341.50,129.30 L341.60,129.30 L341.70,129.30 L341.80,129.30 L341.90,129.30 L342.00,129.30 L342.10,129.30 L342.20,129.30 L342.30,129.30 L342.40,129.30 L342.50,129.30 L342.60,129.29 L342.70,129.29 L342.80,129.27 L342.90,129.26 L343.00,129.23 L343.10,129.18 L343.20,129.12 L343.30,129.02 L343.40,128.89 L343.50,128.72 L343.60,128.51 L343.70,128.25 L343.80,127.96 L343.90,127.64 L344.00,127.31 L344.10,126.99 L344.20,126.70 L344.30,126.48 L344.40,126.33 L344.50,126.29 L344.60,126.33 L344.70,126.48 L344.80,126.70 L344.90,126.99 L345.00,127.31 L345.10,127.64 L345.20,127.96 L345.30,128.25 L345.40,128.51 L345.50,128.72 L345.60,128.89 L345.70,129.02 L345.80,129.12 L345.90,129.18 L346.00,129.19 L346.10,129.10 L346.20,128.92 L346.30,128.63 L346.40,128.14 L346.50,127.37 L346.60,126.18 L346.70,124.43 L346.80,121.93 L346.90,118.53 L347.00,114.06 L347.10,108.43 L347.20,101.66 L347.30,93.89 L347.40,85.40 L347.50,76.65 L347.60,68.20 L347.70,60.71 L347.80,54.80 L347.90,51.01 L348.00,49.70 L348.10,51.01 L348.20,54.80 L348.30,60.71 L348.40,68.20 L348.50,76.65 L348.60,85.40 L348.70,93.89 L348.80,101.66 L348.90,108.43 L349.00,114.06 L349.10,118.53 L349.20,121.93 L349.30,124.43 L349.40,126.18 L349.50,127.37 L349.60,128.14 L349.70,128.63 L349.80,128.92 L349.90,129.10 L350.00,129.19 L350.10,129.25 L350.20,129.27 L350.30,129.29 L350.40,129.29 L350.50,129.30 L350.60,129.30 L350.70,129.30 L350.80,129.30 L350.90,129.30 L351.00,129.30 L351.10,129.30 L351.20,129.30 L351.30,129.30 L351.40,129.30 L351.50,129.30 L351.60,129.30 L351.70,129.30 L351.80,129.30 L351.90,129.30 L352.00,129.30 L352.10,129.30 L352.20,129.30 L352.30,129.30 L352.40,129.30 L352.50,129.30 L352.60,129.30 L352.70,129.30 L352.80,129.30 L352.90,129.30 L353.00,129.30 L353.10,129.30 L353.20,129.30 L353.30,129.30 L353.40,129.30 L353.50,129.30 L353.60,129.30 L353.70,129.30 L353.80,129.30 L353.90,129.30 L354.00,129.30 L354.10,129.30 L354.20,129.30 L354.30,129.30 L354.40,129.30 L354.50,129.30 L354.60,129.30 L354.70,129.30 L354.80,129.30 L354.90,129.29 L355.00,129.29 L355.10,129.28 L355.20,129.26 L355.30,129.24 L355.40,129.19 L355.50,129.13 L355.60,129.03 L355.70,128.90 L355.80,128.71 L355.90,128.47 L356.00,128.16 L356.10,127.79 L356.20,127.37 L356.30,126.91 L356.40,126.43 L356.50,125.97 L356.60,125.56 L356.70,125.24 L356.80,125.03 L356.90,124.96 L357.00,125.03 L357.10,125.24 L357.20,125.56 L357.30,125.97 L357.40,126.43 L357.50,126.91 L357.60,127.37 L357.70,127.79 L357.80,128.16 L357.90,128.47 L358.00,128.71 L358.10,128.90 L358.20,129.03 L358.30,129.13 L358.40,129.19 L358.50,129.24 L358.60,129.23 L358.70,129.18 L358.80,129.10 L358.90,128.98 L359.00,128.80 L359.10,128.54 L359.20,128.19 L359.30,127.73 L359.40,127.15 L359.50,126.45 L359.60,125.65 L359.70,124.78 L359.80,123.88 L359.90,123.00 L360.00,122.23 L360.10,121.62 L360.20,121.23 L360.30,121.10 L360.40,121.23 L360.50,121.62 L360.60,122.23 L360.70,123.00 L360.80,123.88 L360.90,124.78 L361.00,125.65 L361.10,126.45 L361.20,127.15 L361.30,127.73 L361.40,128.19 L361.50,128.54 L361.60,128.80 L361.70,128.98 L361.80,129.10 L361.90,129.18 L362.00,129.23 L362.10,129.26 L362.20,129.28 L362.30,129.29 L362.40,129.29 L362.50,129.30 L362.60,129.30 L362.70,129.30 L362.80,129.30 L362.90,129.30 L363.00,129.30 L363.10,129.30 L363.20,129.30 L363.30,129.30 L363.40,129.30 L363.50,129.30 L363.60,129.30 L363.70,129.30 L363.80,129.30 L363.90,129.30 L364.00,129.30 L364.10,129.30 L364.20,129.30 L364.30,129.30 L364.40,129.30 L364.50,129.30 L364.60,129.30 L364.70,129.30 L364.80,129.30 L364.90,129.30 L365.00,129.30 L365.10,129.30 L365.20,129.30 L365.30,129.30 L365.40,129.30 L365.50,129.30 L365.60,129.30 L365.70,129.30 L365.80,129.30 L365.90,129.30 L366.00,129.30 L366.10,129.30 L366.20,129.30 L366.30,129.30 L366.40,129.30 L366.50,129.30 L366.60,129.30 L366.70,129.30 L366.80,129.30 L366.90,129.30 L367.00,129.30 L367.10,129.30 L367.20,129.30 L367.30,129.30 L367.40,129.30 L367.50,129.30 L367.60,129.30 L367.70,129.30 L367.80,129.30 L367.90,129.30 L368.00,129.30 L368.10,129.30 L368.20,129.30 L368.30,129.30 L368.40,129.30 L368.50,129.30 L368.60,129.30 L368.70,129.30 L368.80,129.30 L368.90,129.30 L369.00,129.30 L369.10,129.30 L369.20,129.30 L369.30,129.30 L369.40,129.30 L369.50,129.30 L369.60,129.30 L369.70,129.30 L369.80,129.30 L369.90,129.30 L370.00,129.30 L370.10,129.30 L370.20,129.30 L370.30,129.30 L370.40,129.30 L370.50,129.30 L370.60,129.30 L370.70,129.30 L370.80,129.30 L370.90,129.30 L371.00,129.29 L371.10,129.29 L371.20,129.28 L371.30,129.26 L371.40,129.24 L371.50,129.20 L371.60,129.13 L371.70,129.04 L371.80,128.91 L371.90,128.73 L372.00,128.49 L372.10,128.19 L372.20,127.83 L372.30,127.42 L372.40,126.97 L372.50,126.51 L372.60,126.06 L372.70,125.66 L372.80,125.35 L372.90,125.15 L373.00,125.08 L373.10,125.15 L373.20,125.35 L373.30,125.66 L373.40,126.06 L373.50,126.51 L373.60,126.97 L373.70,127.42 L373.80,127.83 L373.90,128.19 L374.00,128.49 L374.10,128.73 L374.20,128.91 L374.30,129.04 L374.40,129.13 L374.50,129.20 L374.60,129.24 L374.70,129.26 L374.80,129.28 L374.90,129.29 L375.00,129.29 L375.10,129.30 L375.20,129.30 L375.30,129.30 L375.40,129.30 L375.50,129.30 L375.60,129.30 L375.70,129.30 L375.80,129.30 L375.90,129.30 L376.00,129.30 L376.10,129.30 L376.20,129.30 L376.30,129.30 L376.40,129.30 L376.50,129.30 L376.60,129.30 L376.70,129.30 L376.80,129.30 L376.90,129.30 L377.00,129.30 L377.10,129.30 L377.20,129.30 L377.30,129.30 L377.40,129.30 L377.50,129.30 L377.60,129.30 L377.70,129.30 L377.80,129.30 L377.90,129.30 L378.00,129.30 L378.10,129.30 L378.20,129.30 L378.30,129.30 L378.40,129.30 L378.50,129.30 L378.60,129.30 L378.70,129.30 L378.80,129.30 L378.90,129.30 L379.00,129.30 L379.10,129.30 L379.20,129.30 L379.30,129.30 L379.40,129.30 L379.50,129.30 L379.60,129.30 L379.70,129.30 L379.80,129.30 L379.90,129.30 L380.00,129.30 L380.10,129.30 L380.20,129.30 L380.30,129.30 L380.40,129.30 L380.50,129.30 L380.60,129.30 L380.70,129.30 L380.80,129.30 L380.90,129.30 L381.00,129.30 L381.10,129.30 L381.20,129.30 L381.30,129.30 L381.40,129.30 L381.50,129.30 L381.60,129.30 L381.70,129.30 L381.80,129.30 L381.90,129.30 L382.00,129.30 L382.10,129.30 L382.20,129.30 L382.30,129.30 L382.40,129.30 L382.50,129.30 L382.60,129.30 L382.70,129.30 L382.80,129.30 L382.90,129.30 L383.00,129.30 L383.10,129.30 L383.20,129.30 L383.30,129.30 L383.40,129.30 L383.50,129.30 L383.60,129.29 L383.70,129.29 L383.80,129.28 L383.90,129.26 L384.00,129.24 L384.10,129.21 L384.20,129.15 L384.30,129.08 L384.40,128.97 L384.50,128.84 L384.60,128.67 L384.70,128.46 L384.80,128.23 L384.90,127.97 L385.00,127.70 L385.10,127.45 L385.20,127.22 L385.30,127.04 L385.40,126.93 L385.50,126.89 L385.60,126.93 L385.70,127.04 L385.80,127.22 L385.90,127.45 L386.00,127.70 L386.10,127.97 L386.20,128.23 L386.30,128.46 L386.40,128.67 L386.50,128.84 L386.60,128.97 L386.70,129.08 L386.80,129.15 L386.90,129.21 L387.00,129.24 L387.10,129.26 L387.20,129.28 L387.30,129.29 L387.40,129.29 L387.50,129.30 L387.60,129.29 L387.70,129.28 L387.80,129.27 L387.90,129.25 L388.00,129.21 L388.10,129.15 L388.20,129.06 L388.30,128.93 L388.40,128.74 L388.50,128.48 L388.60,128.15 L388.70,127.72 L388.80,127.21 L388.90,126.62 L389.00,125.97 L389.10,125.31 L389.20,124.67 L389.30,124.10 L389.40,123.66 L389.50,123.37 L389.60,123.27 L389.70,123.37 L389.80,123.66 L389.90,124.10 L390.00,124.67 L390.10,125.31 L390.20,125.97 L390.30,126.62 L390.40,127.21 L390.50,127.72 L390.60,128.15 L390.70,128.48 L390.80,128.74 L390.90,128.93 L391.00,129.06 L391.10,129.15 L391.20,129.21 L391.30,129.25 L391.40,129.27 L391.50,129.28 L391.60,129.29 L391.70,129.30 L391.80,129.30 L391.90,129.30 L392.00,129.30 L392.10,129.30 L392.20,129.30 L392.30,129.30 L392.40,129.30 L392.50,129.30 L392.60,129.30 L392.70,129.30 L392.80,129.30 L392.90,129.30 L393.00,129.30 L393.10,129.30 L393.20,129.30 L393.30,129.30 L393.30,129.30 L203.20,129.30 Z" fill="#acd0ee" stroke="#acd0ee" stroke-width="0.9" stroke-linejoin="round"/>
<path d="M203.20,129.30 L203.30,129.30 L203.40,129.30 L203.50,129.30 L203.60,129.30 L203.70,129.30 L203.80,129.30 L203.90,129.30 L204.00,129.30 L204.10,129.30 L204.20,129.30 L204.30,129.30 L204.40,129.30 L204.50,129.30 L204.60,129.30 L204.70,129.30 L204.80,129.30 L204.90,129.30 L205.00,129.30 L205.10,129.30 L205.20,129.30 L205.30,129.30 L205.40,129.30 L205.50,129.30 L205.60,129.30 L205.70,129.30 L205.80,129.30 L205.90,129.30 L206.00,129.30 L206.10,129.30 L206.20,129.30 L206.30,129.30 L206.40,129.30 L206.50,129.30 L206.60,129.30 L206.70,129.30 L206.80,129.30 L206.90,129.30 L207.00,129.30 L207.10,129.30 L207.20,129.29 L207.30,129.29 L207.40,129.28 L207.50,129.25 L207.60,129.21 L207.70,129.13 L207.80,129.00 L207.90,128.78 L208.00,128.44 L208.10,127.91 L208.20,127.12 L208.30,126.01 L208.40,124.49 L208.50,122.49 L208.60,119.97 L208.70,116.95 L208.80,113.47 L208.90,109.68 L209.00,105.77 L209.10,101.99 L209.20,98.64 L209.30,96.00 L209.40,94.31 L209.50,93.72 L209.60,94.31 L209.70,96.00 L209.80,98.64 L209.90,101.99 L210.00,105.77 L210.10,109.68 L210.20,113.47 L210.30,116.95 L210.40,119.97 L210.50,122.49 L210.60,124.49 L210.70,126.01 L210.80,127.12 L210.90,127.91 L211.00,128.44 L211.10,128.78 L211.20,129.00 L211.30,129.13 L211.40,129.21 L211.50,129.25 L211.60,129.28 L211.70,129.29 L211.80,129.29 L211.90,129.30 L212.00,129.30 L212.10,129.30 L212.20,129.30 L212.30,129.30 L212.40,129.30 L212.50,129.30 L212.60,129.30 L212.70,129.30 L212.80,129.30 L212.90,129.30 L213.00,129.30 L213.10,129.30 L213.20,129.30 L213.30,129.30 L213.40,129.30 L213.50,129.30 L213.60,129.30 L213.70,129.30 L213.80,129.30 L213.90,129.30 L214.00,129.30 L214.10,129.30 L214.20,129.30 L214.30,129.30 L214.40,129.30 L214.50,129.30 L214.60,129.30 L214.70,129.30 L214.80,129.30 L214.90,129.30 L215.00,129.30 L215.10,129.30 L215.20,129.30 L215.30,129.30 L215.40,129.30 L215.50,129.30 L215.60,129.30 L215.70,129.30 L215.80,129.30 L215.90,129.30 L216.00,129.30 L216.10,129.30 L216.20,129.30 L216.30,129.30 L216.40,129.30 L216.50,129.30 L216.60,129.30 L216.70,129.30 L216.80,129.30 L216.90,129.30 L217.00,129.30 L217.10,129.30 L217.20,129.30 L217.30,129.30 L217.40,129.30 L217.50,129.30 L217.60,129.30 L217.70,129.30 L217.80,129.30 L217.90,129.29 L218.00,129.29 L218.10,129.28 L218.20,129.27 L218.30,129.25 L218.40,129.23 L218.50,129.19 L218.60,129.14 L218.70,129.07 L218.80,128.98 L218.90,128.88 L219.00,128.76 L219.10,128.63 L219.20,128.50 L219.30,128.37 L219.40,128.26 L219.50,128.17 L219.60,128.11 L219.70,128.09 L219.80,128.11 L219.90,128.17 L220.00,128.26 L220.10,128.37 L220.20,128.50 L220.30,128.63 L220.40,128.76 L220.50,128.88 L220.60,128.98 L220.70,129.07 L220.80,129.14 L220.90,129.19 L221.00,129.23 L221.10,129.25 L221.20,129.27 L221.30,129.28 L221.40,129.29 L221.50,129.29 L221.60,129.30 L221.70,129.30 L221.80,129.30 L221.90,129.30 L222.00,129.30 L222.10,129.30 L222.20,129.30 L222.30,129.30 L222.40,129.30 L222.50,129.30 L222.60,129.30 L222.70,129.30 L222.80,129.30 L222.90,129.30 L223.00,129.30 L223.10,129.30 L223.20,129.30 L223.30,129.30 L223.40,129.30 L223.50,129.30 L223.60,129.30 L223.70,129.30 L223.80,129.30 L223.90,129.30 L224.00,129.29 L224.10,129.28 L224.20,129.27 L224.30,129.26 L224.40,129.23 L224.50,129.19 L224.60,129.13 L224.70,129.06 L224.80,128.95 L224.90,128.83 L225.00,128.67 L225.10,128.50 L225.20,128.30 L225.30,128.10 L225.40,127.91 L225.50,127.74 L225.60,127.61 L225.70,127.52 L225.80,127.49 L225.90,127.52 L226.00,127.61 L226.10,127.74 L226.20,127.91 L226.30,128.10 L226.40,128.30 L226.50,128.50 L226.60,128.67 L226.70,128.83 L226.80,128.95 L226.90,129.06 L227.00,129.13 L227.10,129.19 L227.20,129.23 L227.30,129.26 L227.40,129.27 L227.50,129.28 L227.60,129.29 L227.70,129.30 L227.80,129.30 L227.90,129.30 L228.00,129.30 L228.10,129.30 L228.20,129.30 L228.30,129.30 L228.40,129.30 L228.50,129.30 L228.60,129.30 L228.70,129.30 L228.80,129.30 L228.90,129.30 L229.00,129.30 L229.10,129.30 L229.20,129.30 L229.30,129.30 L229.40,129.30 L229.50,129.30 L229.60,129.30 L229.70,129.30 L229.80,129.30 L229.90,129.30 L230.00,129.30 L230.10,129.30 L230.20,129.30 L230.30,129.29 L230.40,129.29 L230.50,129.28 L230.60,129.25 L230.70,129.22 L230.80,129.16 L230.90,129.07 L231.00,128.92 L231.10,128.71 L231.20,128.41 L231.30,127.99 L231.40,127.45 L231.50,126.77 L231.60,125.95 L231.70,125.01 L231.80,123.98 L231.90,122.92 L232.00,121.89 L232.10,120.99 L232.20,120.27 L232.30,119.81 L232.40,119.65 L232.50,119.81 L232.60,120.27 L232.70,120.99 L232.80,121.89 L232.90,122.92 L233.00,123.98 L233.10,125.01 L233.20,125.95 L233.30,126.77 L233.40,127.45 L233.50,127.99 L233.60,128.41 L233.70,128.71 L233.80,128.69 L233.90,128.40 L234.00,128.03 L234.10,127.56 L234.20,127.00 L234.30,126.35 L234.40,125.64 L234.50,124.91 L234.60,124.21 L234.70,123.58 L234.80,123.09 L234.90,122.78 L235.00,122.67 L235.10,122.78 L235.20,123.09 L235.30,123.58 L235.40,124.21 L235.50,124.91 L235.60,125.64 L235.70,126.35 L235.80,127.00 L235.90,127.56 L236.00,128.03 L236.10,128.40 L236.20,128.69 L236.30,128.89 L236.40,129.04 L236.50,129.14 L236.60,129.20 L236.70,129.24 L236.80,129.27 L236.90,129.28 L237.00,129.29 L237.10,129.30 L237.20,129.30 L237.30,129.30 L237.40,129.30 L237.50,129.30 L237.60,129.30 L237.70,129.29 L237.80,129.29 L237.90,129.27 L238.00,129.25 L238.10,129.20 L238.20,129.12 L238.30,128.99 L238.40,128.76 L238.50,128.39 L238.60,127.84 L238.70,127.01 L238.80,125.84 L238.90,124.24 L239.00,122.14 L239.10,119.50 L239.20,116.32 L239.30,112.67 L239.40,108.68 L239.50,104.57 L239.60,100.60 L239.70,97.08 L239.80,94.31 L239.90,92.53 L240.00,91.91 L240.10,92.53 L240.20,94.31 L240.30,97.08 L240.40,100.60 L240.50,104.57 L240.60,108.68 L240.70,112.67 L240.80,116.32 L240.90,119.50 L241.00,122.14 L241.10,124.24 L241.20,125.84 L241.30,127.01 L241.40,127.84 L241.50,128.39 L241.60,128.76 L241.70,128.99 L241.80,129.12 L241.90,129.20 L242.00,129.25 L242.10,129.27 L242.20,129.29 L242.30,129.29 L242.40,129.30 L242.50,129.30 L242.60,129.30 L242.70,129.30 L242.80,129.30 L242.90,129.30 L243.00,129.30 L243.10,129.30 L243.20,129.30 L243.30,129.30 L243.40,129.30 L243.50,129.30 L243.60,129.30 L243.70,129.30 L243.80,129.30 L243.90,129.30 L244.00,129.30 L244.10,129.30 L244.20,129.30 L244.30,129.30 L244.40,129.30 L244.50,129.30 L244.60,129.30 L244.70,129.30 L244.80,129.30 L244.90,129.30 L245.00,129.30 L245.10,129.30 L245.20,129.30 L245.30,129.30 L245.40,129.30 L245.50,129.30 L245.60,129.30 L245.70,129.30 L245.80,129.30 L245.90,129.30 L246.00,129.30 L246.10,129.30 L246.20,129.30 L246.30,129.30 L246.40,129.30 L246.50,129.30 L246.60,129.30 L246.70,129.30 L246.80,129.30 L246.90,129.30 L247.00,129.30 L247.10,129.30 L247.20,129.30 L247.30,129.30 L247.40,129.30 L247.50,129.30 L247.60,129.30 L247.70,129.30 L247.80,129.30 L247.90,129.30 L248.00,129.30 L248.10,129.30 L248.20,129.30 L248.30,129.30 L248.40,129.30 L248.50,129.30 L248.60,129.30 L248.70,129.30 L248.80,129.30 L248.90,129.30 L249.00,129.30 L249.10,129.30 L249.20,129.29 L249.30,129.28 L249.40,129.27 L249.50,129.25 L249.60,129.21 L249.70,129.16 L249.80,129.08 L249.90,128.97 L250.00,128.81 L250.10,128.61 L250.20,128.35 L250.30,128.04 L250.40,127.69 L250.50,127.30 L250.60,126.91 L250.70,126.52 L250.80,126.18 L250.90,125.91 L251.00,125.74 L251.10,125.68 L251.20,125.74 L251.30,125.91 L251.40,126.18 L251.50,126.52 L251.60,126.91 L251.70,127.30 L251.80,127.69 L251.90,128.04 L252.00,128.35 L252.10,128.61 L252.20,128.81 L252.30,128.97 L252.40,129.08 L252.50,129.16 L252.60,129.21 L252.70,129.25 L252.80,129.27 L252.90,129.28 L253.00,129.29 L253.10,129.30 L253.20,129.30 L253.30,129.30 L253.40,129.30 L253.50,129.30 L253.60,129.30 L253.70,129.30 L253.80,129.30 L253.90,129.30 L254.00,129.30 L254.10,129.30 L254.20,129.30 L254.30,129.30 L254.40,129.30 L254.50,129.30 L254.60,129.30 L254.70,129.30 L254.80,129.30 L254.90,129.30 L255.00,129.30 L255.10,129.30 L255.20,129.30 L255.30,129.30 L255.40,129.30 L255.50,129.30 L255.60,129.30 L255.70,129.30 L255.80,129.30 L255.90,129.30 L256.00,129.30 L256.10,129.30 L256.20,129.30 L256.30,129.30 L256.40,129.30 L256.50,129.30 L256.60,129.30 L256.70,129.30 L256.80,129.30 L256.90,129.30 L257.00,129.30 L257.10,129.30 L257.20,129.30 L257.30,129.30 L257.40,129.30 L257.50,129.30 L257.60,129.30 L257.70,129.30 L257.80,129.30 L257.90,129.30 L258.00,129.30 L258.10,129.30 L258.20,129.30 L258.30,129.30 L258.40,129.30 L258.50,129.30 L258.60,129.30 L258.70,129.30 L258.80,129.30 L258.90,129.30 L259.00,129.30 L259.10,129.30 L259.20,129.30 L259.30,129.30 L259.40,129.30 L259.50,129.30 L259.60,129.30 L259.70,129.29 L259.80,129.28 L259.90,129.26 L260.00,129.23 L260.10,129.16 L260.20,129.04 L260.30,128.83 L260.40,128.49 L260.50,127.95 L260.60,127.13 L260.70,125.90 L260.80,124.17 L260.90,121.79 L261.00,118.68 L261.10,114.76 L261.20,110.04 L261.30,104.62 L261.40,98.70 L261.50,92.60 L261.60,86.72 L261.70,81.49 L261.80,77.37 L261.90,74.73 L262.00,73.82 L262.10,74.73 L262.20,77.37 L262.30,81.49 L262.40,86.72 L262.50,92.60 L262.60,98.70 L262.70,104.62 L262.80,110.04 L262.90,114.76 L263.00,118.68 L263.10,121.79 L263.20,124.17 L263.30,125.90 L263.40,127.13 L263.50,127.95 L263.60,128.49 L263.70,128.83 L263.80,129.04 L263.90,129.16 L264.00,129.23 L264.10,129.26 L264.20,129.28 L264.30,129.29 L264.40,129.30 L264.50,129.30 L264.60,129.30 L264.70,129.30 L264.80,129.30 L264.90,129.30 L265.00,129.30 L265.10,129.30 L265.20,129.30 L265.30,129.30 L265.40,129.30 L265.50,129.30 L265.60,129.30 L265.70,129.30 L265.80,129.30 L265.90,129.30 L266.00,129.30 L266.10,129.30 L266.20,129.30 L266.30,129.30 L266.40,129.30 L266.50,129.30 L266.60,129.30 L266.70,129.30 L266.80,129.30 L266.90,129.30 L267.00,129.30 L267.10,129.30 L267.20,129.30 L267.30,129.30 L267.40,129.30 L267.50,129.30 L267.60,129.30 L267.70,129.30 L267.80,129.30 L267.90,129.30 L268.00,129.30 L268.10,129.30 L268.20,129.30 L268.30,129.30 L268.40,129.30 L268.50,129.30 L268.60,129.30 L268.70,129.30 L268.80,129.30 L268.90,129.30 L269.00,129.30 L269.10,129.30 L269.20,129.30 L269.30,129.30 L269.40,129.30 L269.50,129.30 L269.60,129.30 L269.70,129.30 L269.80,129.30 L269.90,129.30 L270.00,129.30 L270.10,129.30 L270.20,129.30 L270.30,129.30 L270.40,129.30 L270.50,129.30 L270.60,129.30 L270.70,129.30 L270.80,129.30 L270.90,129.30 L271.00,129.30 L271.10,129.30 L271.20,129.30 L271.30,129.30 L271.40,129.30 L271.50,129.30 L271.60,129.30 L271.70,129.30 L271.80,129.30 L271.90,129.30 L272.00,129.30 L272.10,129.30 L272.20,129.30 L272.30,129.30 L272.40,129.30 L272.50,129.30 L272.60,129.30 L272.70,129.30 L272.80,129.30 L272.90,129.30 L273.00,129.30 L273.10,129.30 L273.20,129.30 L273.30,129.30 L273.40,129.30 L273.50,129.30 L273.60,129.30 L273.70,129.30 L273.80,129.30 L273.90,129.30 L274.00,129.30 L274.10,129.30 L274.20,129.30 L274.30,129.30 L274.40,129.30 L274.50,129.30 L274.60,129.30 L274.70,129.30 L274.80,129.30 L274.90,129.30 L275.00,129.30 L275.10,129.30 L275.20,129.30 L275.30,129.30 L275.40,129.30 L275.50,129.30 L275.60,129.30 L275.70,129.30 L275.80,129.30 L275.90,129.30 L276.00,129.30 L276.10,129.30 L276.20,129.30 L276.30,129.30 L276.40,129.30 L276.50,129.30 L276.60,129.30 L276.70,129.30 L276.80,129.30 L276.90,129.30 L277.00,129.30 L277.10,129.30 L277.20,129.30 L277.30,129.30 L277.40,129.30 L277.50,129.30 L277.60,129.30 L277.70,129.30 L277.80,129.30 L277.90,129.30 L278.00,129.30 L278.10,129.30 L278.20,129.30 L278.30,129.30 L278.40,129.30 L278.50,129.30 L278.60,129.30 L278.70,129.30 L278.80,129.30 L278.90,129.30 L279.00,129.30 L279.10,129.30 L279.20,129.30 L279.30,129.30 L279.40,129.30 L279.50,129.30 L279.60,129.30 L279.70,129.30 L279.80,129.30 L279.90,129.30 L280.00,129.30 L280.10,129.30 L280.20,129.30 L280.30,129.30 L280.40,129.30 L280.50,129.30 L280.60,129.30 L280.70,129.30 L280.80,129.30 L280.90,129.30 L281.00,129.30 L281.10,129.29 L281.20,129.28 L281.30,129.27 L281.40,129.26 L281.50,129.23 L281.60,129.19 L281.70,129.13 L281.80,129.06 L281.90,128.95 L282.00,128.83 L282.10,128.67 L282.20,128.50 L282.30,128.30 L282.40,128.10 L282.50,127.91 L282.60,127.74 L282.70,127.61 L282.80,127.52 L282.90,127.49 L283.00,127.52 L283.10,127.61 L283.20,127.74 L283.30,127.91 L283.40,128.10 L283.50,128.30 L283.60,128.50 L283.70,128.67 L283.80,128.83 L283.90,128.95 L284.00,129.06 L284.10,129.13 L284.20,129.19 L284.30,129.23 L284.40,129.26 L284.50,129.27 L284.60,129.28 L284.70,129.29 L284.80,129.28 L284.90,129.26 L285.00,129.24 L285.10,129.21 L285.20,129.15 L285.30,129.08 L285.40,128.97 L285.50,128.84 L285.60,128.67 L285.70,128.46 L285.80,128.23 L285.90,127.97 L286.00,127.70 L286.10,127.45 L286.20,127.22 L286.30,127.04 L286.40,126.93 L286.50,126.89 L286.60,126.93 L286.70,127.04 L286.80,127.22 L286.90,127.45 L287.00,127.70 L287.10,127.97 L287.20,128.23 L287.30,128.46 L287.40,128.67 L287.50,128.84 L287.60,128.97 L287.70,129.08 L287.80,129.15 L287.90,129.21 L288.00,129.24 L288.10,129.26 L288.20,129.28 L288.30,129.29 L288.40,129.29 L288.50,129.30 L288.60,129.30 L288.70,129.30 L288.80,129.30 L288.90,129.30 L289.00,129.30 L289.10,129.30 L289.20,129.30 L289.30,129.30 L289.40,129.30 L289.50,129.30 L289.60,129.30 L289.70,129.30 L289.80,129.30 L289.90,129.30 L290.00,129.30 L290.10,129.30 L290.20,129.30 L290.30,129.30 L290.40,129.30 L290.50,129.30 L290.60,129.30 L290.70,129.30 L290.80,129.30 L290.90,129.30 L291.00,129.30 L291.10,129.30 L291.20,129.30 L291.30,129.30 L291.40,129.30 L291.50,129.30 L291.60,129.30 L291.70,129.30 L291.80,129.30 L291.90,129.30 L292.00,129.30 L292.10,129.30 L292.20,129.30 L292.30,129.30 L292.40,129.30 L292.50,129.30 L292.60,129.30 L292.70,129.30 L292.80,129.30 L292.90,129.30 L293.00,129.29 L293.10,129.28 L293.20,129.26 L293.30,129.22 L293.40,129.16 L293.50,129.05 L293.60,128.86 L293.70,128.57 L293.80,128.12 L293.90,127.45 L294.00,126.51 L294.10,125.22 L294.20,123.53 L294.30,121.40 L294.40,118.83 L294.50,115.89 L294.60,112.67 L294.70,109.36 L294.80,106.16 L294.90,103.32 L295.00,101.08 L295.10,99.64 L295.20,99.15 L295.30,99.64 L295.40,101.08 L295.50,103.32 L295.60,106.16 L295.70,109.36 L295.80,112.67 L295.90,115.89 L296.00,118.83 L296.10,121.40 L296.20,123.53 L296.30,125.22 L296.40,126.51 L296.50,127.45 L296.60,128.12 L296.70,128.57 L296.80,128.86 L296.90,129.05 L297.00,129.16 L297.10,129.22 L297.20,129.26 L297.30,129.28 L297.40,129.29 L297.50,129.30 L297.60,129.30 L297.70,129.30 L297.80,129.30 L297.90,129.30 L298.00,129.30 L298.10,129.30 L298.20,129.30 L298.30,129.30 L298.40,129.30 L298.50,129.30 L298.60,129.30 L298.70,129.30 L298.80,129.30 L298.90,129.30 L299.00,129.30 L299.10,129.30 L299.20,129.30 L299.30,129.30 L299.40,129.30 L299.50,129.30 L299.60,129.30 L299.70,129.30 L299.80,129.30 L299.90,129.30 L300.00,129.30 L300.10,129.30 L300.20,129.30 L300.30,129.30 L300.40,129.30 L300.50,129.30 L300.60,129.30 L300.70,129.30 L300.80,129.30 L300.90,129.30 L301.00,129.30 L301.10,129.30 L301.20,129.30 L301.30,129.30 L301.40,129.30 L301.50,129.30 L301.60,129.30 L301.70,129.30 L301.80,129.30 L301.90,129.30 L302.00,129.30 L302.10,129.30 L302.20,129.30 L302.30,129.30 L302.40,129.30 L302.50,129.30 L302.60,129.30 L302.70,129.30 L302.80,129.30 L302.90,129.30 L303.00,129.30 L303.10,129.30 L303.20,129.30 L303.30,129.30 L303.40,129.30 L303.50,129.30 L303.60,129.30 L303.70,129.30 L303.80,129.30 L303.90,129.30 L304.00,129.30 L304.10,129.30 L304.20,129.30 L304.30,129.30 L304.40,129.30 L304.50,129.30 L304.60,129.30 L304.70,129.30 L304.80,129.30 L304.90,129.30 L305.00,129.30 L305.10,129.30 L305.20,129.30 L305.30,129.30 L305.40,129.30 L305.50,129.30 L305.60,129.30 L305.70,129.30 L305.80,129.30 L305.90,129.30 L306.00,129.30 L306.10,129.30 L306.20,129.30 L306.30,129.30 L306.40,129.30 L306.50,129.30 L306.60,129.30 L306.70,129.30 L306.80,129.30 L306.90,129.30 L307.00,129.30 L307.10,129.30 L307.20,129.30 L307.30,129.30 L307.40,129.30 L307.50,129.30 L307.60,129.30 L307.70,129.30 L307.80,129.30 L307.90,129.30 L308.00,129.30 L308.10,129.30 L308.20,129.30 L308.30,129.30 L308.40,129.30 L308.50,129.30 L308.60,129.30 L308.70,129.30 L308.80,129.30 L308.90,129.30 L309.00,129.30 L309.10,129.30 L309.20,129.30 L309.30,129.30 L309.40,129.30 L309.50,129.30 L309.60,129.29 L309.70,129.28 L309.80,129.27 L309.90,129.24 L310.00,129.19 L310.10,129.12 L310.20,129.02 L310.30,128.86 L310.40,128.63 L310.50,128.32 L310.60,127.91 L310.70,127.40 L310.80,126.79 L310.90,126.08 L311.00,125.31 L311.10,124.51 L311.20,123.75 L311.30,123.06 L311.40,122.53 L311.50,122.18 L311.60,122.06 L311.70,122.18 L311.80,122.53 L311.90,123.06 L312.00,123.75 L312.10,124.51 L312.20,125.31 L312.30,126.08 L312.40,126.79 L312.50,127.40 L312.60,127.91 L312.70,128.32 L312.80,128.63 L312.90,128.86 L313.00,129.02 L313.10,129.12 L313.20,129.19 L313.30,129.24 L313.40,129.27 L313.50,129.28 L313.60,129.29 L313.70,129.30 L313.80,129.30 L313.90,129.30 L314.00,129.30 L314.10,129.29 L314.20,129.29 L314.30,129.28 L314.40,129.26 L314.50,129.23 L314.60,129.17 L314.70,129.07 L314.80,128.92 L314.90,128.69 L315.00,128.34 L315.10,127.85 L315.20,127.18 L315.30,126.30 L315.40,125.19 L315.50,123.86 L315.60,122.32 L315.70,120.65 L315.80,118.93 L315.90,117.27 L316.00,115.79 L316.10,114.63 L316.20,113.88 L316.30,113.62 L316.40,113.88 L316.50,114.63 L316.60,115.79 L316.70,117.27 L316.80,118.93 L316.90,120.65 L317.00,122.32 L317.10,123.86 L317.20,125.19 L317.30,126.30 L317.40,127.18 L317.50,127.85 L317.60,128.34 L317.70,128.69 L317.80,128.92 L317.90,129.07 L318.00,129.17 L318.10,129.23 L318.20,129.26 L318.30,129.28 L318.40,129.29 L318.50,129.29 L318.60,129.30 L318.70,129.30 L318.80,129.30 L318.90,129.30 L319.00,129.30 L319.10,129.30 L319.20,129.30 L319.30,129.30 L319.40,129.30 L319.50,129.30 L319.60,129.30 L319.70,129.30 L319.80,129.30 L319.90,129.30 L320.00,129.30 L320.10,129.30 L320.20,129.30 L320.30,129.30 L320.40,129.30 L320.50,129.30 L320.60,129.29 L320.70,129.28 L320.80,129.27 L320.90,129.24 L321.00,129.18 L321.10,129.09 L321.20,128.94 L321.30,128.70 L321.40,128.33 L321.50,127.79 L321.60,127.01 L321.70,125.95 L321.80,124.57 L321.90,122.82 L322.00,120.72 L322.10,118.30 L322.20,115.66 L322.30,112.95 L322.40,110.32 L322.50,107.99 L322.60,106.16 L322.70,104.98 L322.80,104.58 L322.90,104.98 L323.00,106.16 L323.10,107.99 L323.20,110.32 L323.30,112.95 L323.40,115.66 L323.50,118.30 L323.60,120.72 L323.70,122.82 L323.80,124.57 L323.90,125.95 L324.00,127.01 L324.10,127.79 L324.20,128.33 L324.30,128.70 L324.40,128.94 L324.50,129.09 L324.60,129.18 L324.70,129.24 L324.80,129.27 L324.90,129.28 L325.00,129.29 L325.10,129.30 L325.20,129.30 L325.30,129.30 L325.40,129.30 L325.50,129.30 L325.60,129.30 L325.70,129.30 L325.80,129.30 L325.90,129.30 L326.00,129.30 L326.10,129.30 L326.20,129.30 L326.30,129.30 L326.40,129.30 L326.50,129.30 L326.60,129.30 L326.70,129.30 L326.80,129.30 L326.90,129.30 L327.00,129.30 L327.10,129.30 L327.20,129.30 L327.30,129.30 L327.40,129.30 L327.50,129.30 L327.60,129.30 L327.70,129.30 L327.80,129.30 L327.90,129.30 L328.00,129.30 L328.10,129.30 L328.20,129.30 L328.30,129.30 L328.40,129.30 L328.50,129.30 L328.60,129.30 L328.70,129.30 L328.80,129.30 L328.90,129.30 L329.00,129.30 L329.10,129.30 L329.20,129.30 L329.30,129.30 L329.40,129.30 L329.50,129.30 L329.60,129.30 L329.70,129.30 L329.80,129.30 L329.90,129.30 L330.00,129.30 L330.10,129.30 L330.20,129.30 L330.30,129.30 L330.40,129.30 L330.50,129.30 L330.60,129.30 L330.70,129.30 L330.80,129.30 L330.90,129.30 L331.00,129.30 L331.10,129.30 L331.20,129.30 L331.30,129.30 L331.40,129.29 L331.50,129.29 L331.60,129.28 L331.70,129.26 L331.80,129.23 L331.90,129.19 L332.00,129.11 L332.10,128.99 L332.20,128.82 L332.30,128.57 L332.40,128.24 L332.50,127.80 L332.60,127.25 L332.70,126.58 L332.80,125.81 L332.90,124.98 L333.00,124.11 L333.10,123.28 L333.20,122.54 L333.30,121.96 L333.40,121.59 L333.50,121.46 L333.60,121.59 L333.70,121.96 L333.80,122.54 L333.90,123.28 L334.00,124.11 L334.10,124.98 L334.20,125.81 L334.30,126.58 L334.40,127.25 L334.50,127.80 L334.60,128.23 L334.70,127.97 L334.80,127.70 L334.90,127.45 L335.00,127.22 L335.10,127.04 L335.20,126.93 L335.30,126.89 L335.40,126.93 L335.50,127.04 L335.60,127.22 L335.70,127.45 L335.80,127.70 L335.90,127.97 L336.00,128.23 L336.10,128.46 L336.20,128.67 L336.30,128.84 L336.40,128.97 L336.50,129.08 L336.60,129.15 L336.70,129.21 L336.80,129.24 L336.90,129.26 L337.00,129.28 L337.10,129.29 L337.20,129.29 L337.30,129.30 L337.40,129.30 L337.50,129.30 L337.60,129.30 L337.70,129.30 L337.80,129.30 L337.90,129.30 L338.00,129.30 L338.10,129.30 L338.20,129.30 L338.30,129.30 L338.40,129.30 L338.50,129.30 L338.60,129.30 L338.70,129.30 L338.80,129.30 L338.90,129.30 L339.00,129.30 L339.10,129.30 L339.20,129.30 L339.30,129.30 L339.40,129.30 L339.50,129.30 L339.60,129.30 L339.70,129.30 L339.80,129.30 L339.90,129.30 L340.00,129.30 L340.10,129.30 L340.20,129.30 L340.30,129.30 L340.40,129.30 L340.50,129.30 L340.60,129.30 L340.70,129.30 L340.80,129.30 L340.90,129.30 L341.00,129.30 L341.10,129.30 L341.20,129.30 L341.30,129.30 L341.40,129.30 L341.50,129.30 L341.60,129.30 L341.70,129.30 L341.80,129.30 L341.90,129.30 L342.00,129.30 L342.10,129.30 L342.20,129.30 L342.30,129.30 L342.40,129.30 L342.50,129.30 L342.60,129.30 L342.70,129.30 L342.80,129.30 L342.90,129.30 L343.00,129.30 L343.10,129.30 L343.20,129.30 L343.30,129.30 L343.40,129.30 L343.50,129.30 L343.60,129.30 L343.70,129.30 L343.80,129.30 L343.90,129.30 L344.00,129.30 L344.10,129.30 L344.20,129.30 L344.30,129.30 L344.40,129.30 L344.50,129.30 L344.60,129.30 L344.70,129.30 L344.80,129.30 L344.90,129.30 L345.00,129.30 L345.10,129.30 L345.20,129.30 L345.30,129.30 L345.40,129.30 L345.50,129.30 L345.60,129.30 L345.70,129.30 L345.80,129.29 L345.90,129.28 L346.00,129.27 L346.10,129.24 L346.20,129.19 L346.30,129.10 L346.40,128.95 L346.50,128.72 L346.60,128.37 L346.70,127.85 L346.80,127.10 L346.90,126.08 L347.00,124.75 L347.10,123.07 L347.20,121.05 L347.30,118.73 L347.40,116.20 L347.50,113.58 L347.60,111.06 L347.70,108.83 L347.80,107.06 L347.90,105.93 L348.00,105.54 L348.10,105.93 L348.20,107.06 L348.30,108.83 L348.40,111.06 L348.50,113.58 L348.60,116.20 L348.70,118.73 L348.80,121.05 L348.90,123.07 L349.00,124.75 L349.10,126.08 L349.20,127.10 L349.30,127.85 L349.40,128.37 L349.50,128.72 L349.60,128.95 L349.70,129.10 L349.80,129.19 L349.90,129.24 L350.00,129.27 L350.10,129.28 L350.20,129.29 L350.30,129.30 L350.40,129.30 L350.50,129.30 L350.60,129.30 L350.70,129.30 L350.80,129.30 L350.90,129.30 L351.00,129.30 L351.10,129.30 L351.20,129.30 L351.30,129.30 L351.40,129.30 L351.50,129.30 L351.60,129.30 L351.70,129.30 L351.80,129.30 L351.90,129.30 L352.00,129.30 L352.10,129.30 L352.20,129.30 L352.30,129.30 L352.40,129.30 L352.50,129.30 L352.60,129.30 L352.70,129.30 L352.80,129.30 L352.90,129.30 L353.00,129.30 L353.10,129.30 L353.20,129.30 L353.30,129.30 L353.40,129.30 L353.50,129.30 L353.60,129.30 L353.70,129.30 L353.80,129.30 L353.90,129.30 L354.00,129.30 L354.10,129.30 L354.20,129.30 L354.30,129.30 L354.40,129.30 L354.50,129.30 L354.60,129.30 L354.70,129.30 L354.80,129.30 L354.90,129.30 L355.00,129.30 L355.10,129.30 L355.20,129.30 L355.30,129.30 L355.40,129.30 L355.50,129.30 L355.60,129.30 L355.70,129.30 L355.80,129.30 L355.90,129.30 L356.00,129.30 L356.10,129.30 L356.20,129.30 L356.30,129.30 L356.40,129.30 L356.50,129.30 L356.60,129.30 L356.70,129.30 L356.80,129.30 L356.90,129.30 L357.00,129.30 L357.10,129.30 L357.20,129.30 L357.30,129.30 L357.40,129.30 L357.50,129.30 L357.60,129.30 L357.70,129.30 L357.80,129.30 L357.90,129.30 L358.00,129.30 L358.10,129.30 L358.20,129.30 L358.30,129.30 L358.40,129.30 L358.50,129.30 L358.60,129.30 L358.70,129.30 L358.80,129.30 L358.90,129.30 L359.00,129.30 L359.10,129.30 L359.20,129.30 L359.30,129.30 L359.40,129.30 L359.50,129.30 L359.60,129.30 L359.70,129.30 L359.80,129.30 L359.90,129.30 L360.00,129.30 L360.10,129.30 L360.20,129.30 L360.30,129.30 L360.40,129.30 L360.50,129.30 L360.60,129.30 L360.70,129.30 L360.80,129.30 L360.90,129.30 L361.00,129.30 L361.10,129.30 L361.20,129.30 L361.30,129.30 L361.40,129.30 L361.50,129.30 L361.60,129.30 L361.70,129.30 L361.80,129.30 L361.90,129.30 L362.00,129.30 L362.10,129.30 L362.20,129.30 L362.30,129.30 L362.40,129.30 L362.50,129.30 L362.60,129.30 L362.70,129.30 L362.80,129.30 L362.90,129.30 L363.00,129.30 L363.10,129.30 L363.20,129.30 L363.30,129.30 L363.40,129.30 L363.50,129.30 L363.60,129.30 L363.70,129.30 L363.80,129.30 L363.90,129.30 L364.00,129.30 L364.10,129.30 L364.20,129.30 L364.30,129.30 L364.40,129.30 L364.50,129.30 L364.60,129.30 L364.70,129.30 L364.80,129.30 L364.90,129.30 L365.00,129.30 L365.10,129.30 L365.20,129.30 L365.30,129.30 L365.40,129.30 L365.50,129.30 L365.60,129.30 L365.70,129.30 L365.80,129.30 L365.90,129.30 L366.00,129.30 L366.10,129.30 L366.20,129.30 L366.30,129.30 L366.40,129.30 L366.50,129.30 L366.60,129.30 L366.70,129.30 L366.80,129.30 L366.90,129.30 L367.00,129.30 L367.10,129.30 L367.20,129.30 L367.30,129.30 L367.40,129.30 L367.50,129.30 L367.60,129.30 L367.70,129.30 L367.80,129.30 L367.90,129.30 L368.00,129.30 L368.10,129.30 L368.20,129.30 L368.30,129.30 L368.40,129.30 L368.50,129.30 L368.60,129.30 L368.70,129.30 L368.80,129.30 L368.90,129.30 L369.00,129.30 L369.10,129.30 L369.20,129.30 L369.30,129.30 L369.40,129.30 L369.50,129.30 L369.60,129.30 L369.70,129.30 L369.80,129.30 L369.90,129.30 L370.00,129.30 L370.10,129.30 L370.20,129.30 L370.30,129.30 L370.40,129.30 L370.50,129.30 L370.60,129.30 L370.70,129.30 L370.80,129.30 L370.90,129.30 L371.00,129.30 L371.10,129.30 L371.20,129.30 L371.30,129.30 L371.40,129.30 L371.50,129.30 L371.60,129.30 L371.70,129.30 L371.80,129.30 L371.90,129.30 L372.00,129.30 L372.10,129.30 L372.20,129.30 L372.30,129.30 L372.40,129.30 L372.50,129.30 L372.60,129.30 L372.70,129.30 L372.80,129.30 L372.90,129.30 L373.00,129.30 L373.10,129.30 L373.20,129.30 L373.30,129.30 L373.40,129.30 L373.50,129.30 L373.60,129.30 L373.70,129.30 L373.80,129.30 L373.90,129.30 L374.00,129.30 L374.10,129.30 L374.20,129.30 L374.30,129.30 L374.40,129.30 L374.50,129.30 L374.60,129.30 L374.70,129.30 L374.80,129.30 L374.90,129.30 L375.00,129.30 L375.10,129.30 L375.20,129.30 L375.30,129.30 L375.40,129.30 L375.50,129.30 L375.60,129.30 L375.70,129.30 L375.80,129.30 L375.90,129.30 L376.00,129.30 L376.10,129.30 L376.20,129.30 L376.30,129.30 L376.40,129.30 L376.50,129.30 L376.60,129.30 L376.70,129.30 L376.80,129.30 L376.90,129.30 L377.00,129.30 L377.10,129.30 L377.20,129.30 L377.30,129.30 L377.40,129.30 L377.50,129.30 L377.60,129.30 L377.70,129.30 L377.80,129.30 L377.90,129.30 L378.00,129.30 L378.10,129.30 L378.20,129.30 L378.30,129.30 L378.40,129.30 L378.50,129.30 L378.60,129.30 L378.70,129.30 L378.80,129.30 L378.90,129.30 L379.00,129.30 L379.10,129.30 L379.20,129.30 L379.30,129.30 L379.40,129.30 L379.50,129.30 L379.60,129.30 L379.70,129.30 L379.80,129.30 L379.90,129.30 L380.00,129.30 L380.10,129.30 L380.20,129.30 L380.30,129.30 L380.40,129.30 L380.50,129.30 L380.60,129.30 L380.70,129.30 L380.80,129.30 L380.90,129.30 L381.00,129.30 L381.10,129.30 L381.20,129.30 L381.30,129.30 L381.40,129.30 L381.50,129.30 L381.60,129.30 L381.70,129.30 L381.80,129.30 L381.90,129.30 L382.00,129.30 L382.10,129.30 L382.20,129.30 L382.30,129.30 L382.40,129.30 L382.50,129.30 L382.60,129.30 L382.70,129.30 L382.80,129.30 L382.90,129.30 L383.00,129.30 L383.10,129.30 L383.20,129.30 L383.30,129.30 L383.40,129.30 L383.50,129.30 L383.60,129.30 L383.70,129.30 L383.80,129.30 L383.90,129.30 L384.00,129.30 L384.10,129.30 L384.20,129.30 L384.30,129.30 L384.40,129.30 L384.50,129.30 L384.60,129.30 L384.70,129.30 L384.80,129.30 L384.90,129.30 L385.00,129.30 L385.10,129.30 L385.20,129.30 L385.30,129.30 L385.40,129.30 L385.50,129.30 L385.60,129.30 L385.70,129.30 L385.80,129.30 L385.90,129.30 L386.00,129.30 L386.10,129.30 L386.20,129.30 L386.30,129.30 L386.40,129.30 L386.50,129.30 L386.60,129.30 L386.70,129.30 L386.80,129.30 L386.90,129.30 L387.00,129.30 L387.10,129.30 L387.20,129.30 L387.30,129.30 L387.40,129.30 L387.50,129.30 L387.60,129.30 L387.70,129.30 L387.80,129.29 L387.90,129.29 L388.00,129.28 L388.10,129.26 L388.20,129.22 L388.30,129.17 L388.40,129.08 L388.50,128.94 L388.60,128.74 L388.70,128.45 L388.80,128.06 L388.90,127.54 L389.00,126.90 L389.10,126.12 L389.20,125.22 L389.30,124.24 L389.40,123.24 L389.50,122.26 L389.60,121.40 L389.70,120.72 L389.80,120.28 L389.90,120.13 L390.00,120.28 L390.10,120.72 L390.20,121.40 L390.30,122.26 L390.40,123.24 L390.50,124.24 L390.60,125.22 L390.70,126.12 L390.80,126.90 L390.90,127.54 L391.00,128.06 L391.10,128.45 L391.20,128.74 L391.30,128.94 L391.40,129.08 L391.50,129.17 L391.60,129.22 L391.70,129.26 L391.80,129.28 L391.90,129.29 L392.00,129.29 L392.10,129.30 L392.20,129.30 L392.30,129.30 L392.40,129.30 L392.50,129.30 L392.60,129.30 L392.70,129.30 L392.80,129.30 L392.90,129.30 L393.00,129.30 L393.10,129.30 L393.20,129.30 L393.30,129.30 L393.30,129.30 L203.20,129.30 Z" fill="#e2b0c6" fill-opacity="0.55" stroke="#e2b0c6" stroke-opacity="0.75" stroke-width="0.8" stroke-linejoin="round"/>
<text x="307.00" y="31.40" font-size="5.5" fill="#222" text-anchor="start" textLength="72.8" lengthAdjust="spacingAndGlyphs" >Peptides found in FL-rFVIII+VWF</text>
<rect x="316.3" y="37.05" width="13.5" height="0.9" fill="#acd0ee"/>
<rect x="316.3" y="45.15" width="13.5" height="0.9" fill="#e2b0c6"/>
<text x="334.20" y="39.20" font-size="5.7" fill="#222" text-anchor="start" textLength="36.4" lengthAdjust="spacingAndGlyphs" >Non-HA Donors</text>
<text x="334.20" y="47.70" font-size="5.7" fill="#222" text-anchor="start" textLength="26.6" lengthAdjust="spacingAndGlyphs" >HA Patients</text>
<rect x="202.20" y="138.40" width="27.30" height="5.00" fill="#c9573a" stroke="#2a1e1a" stroke-width="0.65"/>
<rect x="203.20" y="140.60" width="25.30" height="0.6" fill="#000" opacity="0.22"/>
<text x="215.85" y="142.50" font-size="4.6" fill="#2a1a18" text-anchor="middle" >A1</text>
<rect x="229.50" y="138.40" width="3.40" height="5.00" fill="#a8d4ea" stroke="#2a1e1a" stroke-width="0.65"/>
<rect x="232.90" y="138.40" width="27.90" height="5.00" fill="#c9573a" stroke="#2a1e1a" stroke-width="0.65"/>
<rect x="233.90" y="140.60" width="25.90" height="0.6" fill="#000" opacity="0.22"/>
<text x="246.85" y="142.50" font-size="4.6" fill="#2a1a18" text-anchor="middle" >A2</text>
<rect x="260.80" y="138.40" width="2.60" height="5.00" fill="#a8d4ea" stroke="#2a1e1a" stroke-width="0.65"/>
<rect x="263.40" y="138.40" width="74.10" height="5.00" fill="#f5dc3c" stroke="#2a1e1a" stroke-width="0.65"/>
<rect x="264.40" y="140.60" width="72.10" height="0.6" fill="#000" opacity="0.22"/>
<text x="300.45" y="142.50" font-size="4.6" fill="#2a1a18" text-anchor="middle" >B</text>
<rect x="337.50" y="138.40" width="3.20" height="5.00" fill="#a8d4ea" stroke="#2a1e1a" stroke-width="0.65"/>
<rect x="340.70" y="138.40" width="27.50" height="5.00" fill="#f2c4c8" stroke="#2a1e1a" stroke-width="0.65"/>
<rect x="341.70" y="140.60" width="25.50" height="0.6" fill="#000" opacity="0.22"/>
<text x="354.45" y="142.50" font-size="4.6" fill="#2a1a18" text-anchor="middle" >A3</text>
<rect x="368.20" y="138.40" width="13.60" height="5.00" fill="#f2c4c8" stroke="#2a1e1a" stroke-width="0.65"/>
<rect x="369.20" y="140.60" width="11.60" height="0.6" fill="#000" opacity="0.22"/>
<text x="375.00" y="142.50" font-size="4.6" fill="#2a1a18" text-anchor="middle" >C1</text>
<rect x="381.80" y="138.40" width="11.80" height="5.00" fill="#f2c4c8" stroke="#2a1e1a" stroke-width="0.65"/>
<rect x="382.80" y="140.60" width="9.80" height="0.6" fill="#000" opacity="0.22"/>
<text x="387.70" y="142.50" font-size="4.6" fill="#2a1a18" text-anchor="middle" >C2</text>
<text x="298.00" y="153.90" font-size="8.0" fill="#222" text-anchor="middle" textLength="58.2" lengthAdjust="spacingAndGlyphs" >Position on FVIII</text>
<rect x="202.4" y="175.8" width="191.70000000000002" height="109.80000000000001" fill="none" stroke="#1a1a1a" stroke-width="1.1"/>
<rect x="199.00" y="280.05" width="3.4" height="0.9" fill="#222"/>
<text x="197.00" y="282.70" font-size="6.4" fill="#222" text-anchor="end" >0</text>
<rect x="199.00" y="249.15" width="3.4" height="0.9" fill="#222"/>
<text x="197.00" y="251.80" font-size="6.4" fill="#222" text-anchor="end" >20</text>
<rect x="199.00" y="218.25" width="3.4" height="0.9" fill="#222"/>
<text x="197.00" y="220.90" font-size="6.4" fill="#222" text-anchor="end" >40</text>
<rect x="199.00" y="187.35" width="3.4" height="0.9" fill="#222"/>
<text x="197.00" y="190.00" font-size="6.4" fill="#222" text-anchor="end" >60</text>
<text transform="translate(183.4,230.70) rotate(-90)" font-size="8.2" fill="#222" text-anchor="middle" textLength="73" lengthAdjust="spacingAndGlyphs">Number of peptides</text>
<path d="M203.20,280.50 L203.30,280.50 L203.40,280.50 L203.50,280.50 L203.60,280.50 L203.70,280.50 L203.80,280.50 L203.90,280.50 L204.00,280.50 L204.10,280.50 L204.20,280.50 L204.30,280.50 L204.40,280.50 L204.50,280.50 L204.60,280.50 L204.70,280.50 L204.80,280.50 L204.90,280.50 L205.00,280.50 L205.10,280.50 L205.20,280.49 L205.30,280.49 L205.40,280.47 L205.50,280.45 L205.60,280.42 L205.70,280.36 L205.80,280.28 L205.90,280.15 L206.00,279.97 L206.10,279.73 L206.20,279.41 L206.30,279.00 L206.40,278.52 L206.50,277.96 L206.60,277.35 L206.70,276.72 L206.80,276.11 L206.90,275.57 L207.00,275.15 L207.10,274.88 L207.20,274.78 L207.30,274.35 L207.40,271.21 L207.50,266.91 L207.60,261.27 L207.70,254.17 L207.80,245.63 L207.90,235.82 L208.00,225.11 L208.10,214.07 L208.20,203.41 L208.30,193.96 L208.40,186.50 L208.50,181.72 L208.60,180.07 L208.70,181.72 L208.80,186.50 L208.90,193.96 L209.00,203.41 L209.10,214.07 L209.20,225.11 L209.30,235.82 L209.40,245.63 L209.50,254.17 L209.60,261.27 L209.70,266.91 L209.80,271.21 L209.90,274.35 L210.00,276.57 L210.10,278.06 L210.20,279.04 L210.30,279.65 L210.40,280.03 L210.50,280.24 L210.60,280.36 L210.70,280.43 L210.80,280.47 L210.90,280.48 L211.00,280.49 L211.10,280.50 L211.20,280.50 L211.30,280.50 L211.40,280.50 L211.50,280.50 L211.60,280.50 L211.70,280.50 L211.80,280.50 L211.90,280.50 L212.00,280.50 L212.10,280.50 L212.20,280.50 L212.30,280.50 L212.40,280.50 L212.50,280.50 L212.60,280.50 L212.70,280.50 L212.80,280.50 L212.90,280.50 L213.00,280.50 L213.10,280.50 L213.20,280.50 L213.30,280.50 L213.40,280.50 L213.50,280.50 L213.60,280.50 L213.70,280.50 L213.80,280.50 L213.90,280.50 L214.00,280.50 L214.10,280.50 L214.20,280.50 L214.30,280.50 L214.40,280.50 L214.50,280.50 L214.60,280.50 L214.70,280.50 L214.80,280.50 L214.90,280.50 L215.00,280.50 L215.10,280.50 L215.20,280.50 L215.30,280.50 L215.40,280.50 L215.50,280.50 L215.60,280.50 L215.70,280.50 L215.80,280.50 L215.90,280.50 L216.00,280.50 L216.10,280.50 L216.20,280.50 L216.30,280.50 L216.40,280.50 L216.50,280.50 L216.60,280.50 L216.70,280.50 L216.80,280.50 L216.90,280.49 L217.00,280.49 L217.10,280.48 L217.20,280.46 L217.30,280.42 L217.40,280.36 L217.50,280.27 L217.60,280.13 L217.70,279.92 L217.80,279.63 L217.90,279.22 L218.00,278.70 L218.10,278.03 L218.20,277.23 L218.30,276.31 L218.40,275.30 L218.50,274.27 L218.60,273.27 L218.70,272.38 L218.80,271.68 L218.90,271.23 L219.00,271.08 L219.10,271.23 L219.20,271.68 L219.30,272.38 L219.40,273.27 L219.50,274.27 L219.60,275.30 L219.70,276.31 L219.80,277.23 L219.90,278.03 L220.00,278.70 L220.10,279.22 L220.20,279.63 L220.30,279.92 L220.40,280.13 L220.50,280.27 L220.60,280.36 L220.70,280.42 L220.80,280.46 L220.90,280.48 L221.00,280.49 L221.10,280.49 L221.20,280.50 L221.30,280.50 L221.40,280.50 L221.50,280.50 L221.60,280.50 L221.70,280.50 L221.80,280.50 L221.90,280.50 L222.00,280.50 L222.10,280.50 L222.20,280.50 L222.30,280.50 L222.40,280.50 L222.50,280.50 L222.60,280.50 L222.70,280.50 L222.80,280.50 L222.90,280.50 L223.00,280.50 L223.10,280.50 L223.20,280.50 L223.30,280.50 L223.40,280.50 L223.50,280.50 L223.60,280.50 L223.70,280.50 L223.80,280.50 L223.90,280.50 L224.00,280.50 L224.10,280.50 L224.20,280.50 L224.30,280.50 L224.40,280.50 L224.50,280.50 L224.60,280.50 L224.70,280.50 L224.80,280.50 L224.90,280.50 L225.00,280.50 L225.10,280.50 L225.20,280.50 L225.30,280.50 L225.40,280.50 L225.50,280.50 L225.60,280.50 L225.70,280.50 L225.80,280.50 L225.90,280.50 L226.00,280.50 L226.10,280.50 L226.20,280.50 L226.30,280.50 L226.40,280.50 L226.50,280.50 L226.60,280.50 L226.70,280.50 L226.80,280.50 L226.90,280.50 L227.00,280.50 L227.10,280.50 L227.20,280.50 L227.30,280.50 L227.40,280.50 L227.50,280.50 L227.60,280.50 L227.70,280.50 L227.80,280.50 L227.90,280.50 L228.00,280.50 L228.10,280.50 L228.20,280.50 L228.30,280.50 L228.40,280.50 L228.50,280.50 L228.60,280.50 L228.70,280.50 L228.80,280.50 L228.90,280.50 L229.00,280.50 L229.10,280.50 L229.20,280.50 L229.30,280.49 L229.40,280.49 L229.50,280.48 L229.60,280.46 L229.70,280.42 L229.80,280.35 L229.90,280.25 L230.00,280.08 L230.10,279.82 L230.20,279.43 L230.30,278.88 L230.40,278.14 L230.50,277.16 L230.60,275.92 L230.70,274.44 L230.80,272.73 L230.90,270.87 L231.00,268.95 L231.10,267.10 L231.20,265.45 L231.30,264.16 L231.40,263.33 L231.50,263.04 L231.60,263.33 L231.70,264.16 L231.80,265.45 L231.90,267.10 L232.00,268.95 L232.10,270.87 L232.20,272.73 L232.30,274.44 L232.40,275.92 L232.50,277.16 L232.60,278.14 L232.70,278.88 L232.80,279.43 L232.90,279.82 L233.00,280.08 L233.10,280.25 L233.20,280.35 L233.30,280.42 L233.40,280.46 L233.50,280.48 L233.60,280.49 L233.70,280.49 L233.80,280.50 L233.90,280.50 L234.00,280.50 L234.10,280.50 L234.20,280.50 L234.30,280.50 L234.40,280.50 L234.50,280.50 L234.60,280.50 L234.70,280.50 L234.80,280.50 L234.90,280.50 L235.00,280.50 L235.10,280.50 L235.20,280.50 L235.30,280.50 L235.40,280.50 L235.50,280.50 L235.60,280.50 L235.70,280.50 L235.80,280.50 L235.90,280.50 L236.00,280.50 L236.10,280.50 L236.20,280.50 L236.30,280.50 L236.40,280.50 L236.50,280.50 L236.60,280.50 L236.70,280.50 L236.80,280.50 L236.90,280.50 L237.00,280.50 L237.10,280.50 L237.20,280.50 L237.30,280.49 L237.40,280.48 L237.50,280.46 L237.60,280.42 L237.70,280.34 L237.80,280.21 L237.90,279.98 L238.00,279.60 L238.10,279.00 L238.20,278.08 L238.30,276.72 L238.40,274.78 L238.50,272.14 L238.60,268.67 L238.70,264.30 L238.80,259.04 L238.90,253.01 L239.00,246.41 L239.10,239.62 L239.20,233.06 L239.30,227.24 L239.40,222.65 L239.50,219.71 L239.60,218.70 L239.70,219.71 L239.80,222.65 L239.90,227.24 L240.00,233.06 L240.10,239.62 L240.20,246.41 L240.30,253.01 L240.40,259.04 L240.50,264.30 L240.60,268.67 L240.70,272.14 L240.80,274.78 L240.90,276.72 L241.00,278.08 L241.10,279.00 L241.20,279.60 L241.30,279.98 L241.40,280.21 L241.50,280.34 L241.60,280.42 L241.70,280.46 L241.80,280.48 L241.90,280.49 L242.00,280.50 L242.10,280.50 L242.20,280.50 L242.30,280.50 L242.40,280.50 L242.50,280.50 L242.60,280.50 L242.70,280.50 L242.80,280.50 L242.90,280.50 L243.00,280.50 L243.10,280.50 L243.20,280.50 L243.30,280.50 L243.40,280.50 L243.50,280.50 L243.60,280.49 L243.70,280.49 L243.80,280.48 L243.90,280.47 L244.00,280.45 L244.10,280.42 L244.20,280.38 L244.30,280.31 L244.40,280.23 L244.50,280.12 L244.60,279.97 L244.70,279.80 L244.80,279.61 L244.90,279.39 L245.00,279.17 L245.10,278.96 L245.20,278.77 L245.30,278.62 L245.40,278.52 L245.50,278.49 L245.60,278.52 L245.70,278.62 L245.80,278.77 L245.90,278.96 L246.00,279.17 L246.10,279.39 L246.20,279.61 L246.30,279.69 L246.40,279.43 L246.50,279.13 L246.60,278.80 L246.70,278.46 L246.80,278.13 L246.90,277.84 L247.00,277.61 L247.10,277.46 L247.20,277.41 L247.30,277.46 L247.40,277.61 L247.50,277.84 L247.60,278.13 L247.70,278.46 L247.80,278.80 L247.90,279.13 L248.00,279.43 L248.10,279.69 L248.20,279.91 L248.30,280.08 L248.40,280.21 L248.50,280.31 L248.60,280.38 L248.70,280.35 L248.80,280.25 L248.90,280.10 L249.00,279.88 L249.10,279.56 L249.20,279.12 L249.30,278.55 L249.40,277.83 L249.50,276.96 L249.60,275.96 L249.70,274.88 L249.80,273.75 L249.90,272.67 L250.00,271.71 L250.10,270.96 L250.20,270.47 L250.30,270.30 L250.40,270.47 L250.50,270.96 L250.60,271.71 L250.70,272.67 L250.80,273.75 L250.90,274.88 L251.00,275.96 L251.10,276.96 L251.20,277.83 L251.30,278.55 L251.40,279.12 L251.50,279.56 L251.60,279.88 L251.70,280.10 L251.80,280.25 L251.90,280.35 L252.00,280.41 L252.10,280.45 L252.20,280.47 L252.30,280.49 L252.40,280.49 L252.50,280.50 L252.60,280.50 L252.70,280.50 L252.80,280.50 L252.90,280.50 L253.00,280.50 L253.10,280.50 L253.20,280.50 L253.30,280.50 L253.40,280.50 L253.50,280.50 L253.60,280.50 L253.70,280.50 L253.80,280.50 L253.90,280.50 L254.00,280.50 L254.10,280.50 L254.20,280.50 L254.30,280.50 L254.40,280.50 L254.50,280.50 L254.60,280.50 L254.70,280.50 L254.80,280.50 L254.90,280.50 L255.00,280.50 L255.10,280.50 L255.20,280.50 L255.30,280.50 L255.40,280.50 L255.50,280.50 L255.60,280.50 L255.70,280.50 L255.80,280.50 L255.90,280.50 L256.00,280.50 L256.10,280.50 L256.20,280.50 L256.30,280.50 L256.40,280.50 L256.50,280.50 L256.60,280.50 L256.70,280.50 L256.80,280.50 L256.90,280.50 L257.00,280.50 L257.10,280.50 L257.20,280.50 L257.30,280.50 L257.40,280.50 L257.50,280.50 L257.60,280.50 L257.70,280.50 L257.80,280.50 L257.90,280.50 L258.00,280.50 L258.10,280.50 L258.20,280.50 L258.30,280.50 L258.40,280.50 L258.50,280.50 L258.60,280.50 L258.70,280.50 L258.80,280.50 L258.90,280.50 L259.00,280.49 L259.10,280.49 L259.20,280.48 L259.30,280.46 L259.40,280.42 L259.50,280.35 L259.60,280.24 L259.70,280.04 L259.80,279.74 L259.90,279.27 L260.00,278.58 L260.10,277.60 L260.20,276.26 L260.30,274.49 L260.40,272.28 L260.50,269.61 L260.60,266.55 L260.70,263.20 L260.80,259.75 L260.90,256.42 L261.00,253.47 L261.10,251.14 L261.20,249.65 L261.30,249.14 L261.40,249.65 L261.50,251.14 L261.60,253.47 L261.70,256.42 L261.80,259.75 L261.90,263.20 L262.00,266.55 L262.10,269.61 L262.20,272.28 L262.30,274.49 L262.40,276.26 L262.50,277.60 L262.60,278.58 L262.70,279.27 L262.80,279.74 L262.90,280.04 L263.00,280.24 L263.10,280.35 L263.20,280.42 L263.30,280.46 L263.40,280.48 L263.50,280.49 L263.60,280.49 L263.70,280.50 L263.80,280.50 L263.90,280.50 L264.00,280.50 L264.10,280.50 L264.20,280.50 L264.30,280.50 L264.40,280.50 L264.50,280.50 L264.60,280.50 L264.70,280.50 L264.80,280.50 L264.90,280.50 L265.00,280.50 L265.10,280.50 L265.20,280.50 L265.30,280.50 L265.40,280.50 L265.50,280.50 L265.60,280.50 L265.70,280.50 L265.80,280.50 L265.90,280.50 L266.00,280.50 L266.10,280.50 L266.20,280.50 L266.30,280.50 L266.40,280.50 L266.50,280.50 L266.60,280.50 L266.70,280.50 L266.80,280.50 L266.90,280.50 L267.00,280.50 L267.10,280.50 L267.20,280.50 L267.30,280.50 L267.40,280.50 L267.50,280.50 L267.60,280.50 L267.70,280.50 L267.80,280.50 L267.90,280.50 L268.00,280.50 L268.10,280.50 L268.20,280.50 L268.30,280.50 L268.40,280.50 L268.50,280.50 L268.60,280.50 L268.70,280.50 L268.80,280.50 L268.90,280.50 L269.00,280.50 L269.10,280.50 L269.20,280.50 L269.30,280.50 L269.40,280.50 L269.50,280.50 L269.60,280.50 L269.70,280.50 L269.80,280.50 L269.90,280.50 L270.00,280.50 L270.10,280.50 L270.20,280.50 L270.30,280.50 L270.40,280.50 L270.50,280.50 L270.60,280.50 L270.70,280.50 L270.80,280.50 L270.90,280.50 L271.00,280.50 L271.10,280.50 L271.20,280.50 L271.30,280.50 L271.40,280.50 L271.50,280.50 L271.60,280.50 L271.70,280.50 L271.80,280.50 L271.90,280.50 L272.00,280.50 L272.10,280.50 L272.20,280.50 L272.30,280.50 L272.40,280.50 L272.50,280.50 L272.60,280.50 L272.70,280.50 L272.80,280.50 L272.90,280.50 L273.00,280.50 L273.10,280.50 L273.20,280.50 L273.30,280.50 L273.40,280.50 L273.50,280.50 L273.60,280.50 L273.70,280.50 L273.80,280.50 L273.90,280.50 L274.00,280.50 L274.10,280.50 L274.20,280.50 L274.30,280.50 L274.40,280.50 L274.50,280.50 L274.60,280.50 L274.70,280.50 L274.80,280.50 L274.90,280.50 L275.00,280.50 L275.10,280.50 L275.20,280.50 L275.30,280.50 L275.40,280.50 L275.50,280.50 L275.60,280.50 L275.70,280.50 L275.80,280.50 L275.90,280.50 L276.00,280.50 L276.10,280.50 L276.20,280.50 L276.30,280.50 L276.40,280.50 L276.50,280.50 L276.60,280.50 L276.70,280.50 L276.80,280.50 L276.90,280.50 L277.00,280.50 L277.10,280.50 L277.20,280.50 L277.30,280.50 L277.40,280.50 L277.50,280.50 L277.60,280.50 L277.70,280.50 L277.80,280.50 L277.90,280.50 L278.00,280.50 L278.10,280.50 L278.20,280.50 L278.30,280.50 L278.40,280.50 L278.50,280.50 L278.60,280.50 L278.70,280.50 L278.80,280.50 L278.90,280.50 L279.00,280.50 L279.10,280.50 L279.20,280.50 L279.30,280.50 L279.40,280.50 L279.50,280.50 L279.60,280.50 L279.70,280.50 L279.80,280.50 L279.90,280.50 L280.00,280.50 L280.10,280.49 L280.20,280.49 L280.30,280.48 L280.40,280.47 L280.50,280.44 L280.60,280.41 L280.70,280.35 L280.80,280.26 L280.90,280.14 L281.00,279.98 L281.10,279.76 L281.20,279.49 L281.30,279.16 L281.40,278.78 L281.50,278.37 L281.60,277.94 L281.70,277.54 L281.80,277.17 L281.90,276.88 L282.00,276.70 L282.10,276.64 L282.20,276.70 L282.30,276.88 L282.40,277.17 L282.50,277.54 L282.60,277.94 L282.70,278.37 L282.80,278.78 L282.90,279.16 L283.00,279.49 L283.10,279.76 L283.20,279.98 L283.30,280.14 L283.40,280.26 L283.50,280.35 L283.60,280.41 L283.70,280.44 L283.80,280.47 L283.90,280.48 L284.00,280.49 L284.10,280.49 L284.20,280.50 L284.30,280.50 L284.40,280.50 L284.50,280.50 L284.60,280.50 L284.70,280.50 L284.80,280.50 L284.90,280.50 L285.00,280.50 L285.10,280.50 L285.20,280.50 L285.30,280.50 L285.40,280.50 L285.50,280.50 L285.60,280.50 L285.70,280.50 L285.80,280.50 L285.90,280.50 L286.00,280.50 L286.10,280.50 L286.20,280.50 L286.30,280.50 L286.40,280.50 L286.50,280.50 L286.60,280.50 L286.70,280.50 L286.80,280.50 L286.90,280.50 L287.00,280.50 L287.10,280.50 L287.20,280.50 L287.30,280.50 L287.40,280.50 L287.50,280.50 L287.60,280.50 L287.70,280.50 L287.80,280.50 L287.90,280.50 L288.00,280.50 L288.10,280.50 L288.20,280.50 L288.30,280.50 L288.40,280.50 L288.50,280.50 L288.60,280.50 L288.70,280.50 L288.80,280.50 L288.90,280.50 L289.00,280.50 L289.10,280.50 L289.20,280.50 L289.30,280.50 L289.40,280.50 L289.50,280.50 L289.60,280.50 L289.70,280.50 L289.80,280.50 L289.90,280.50 L290.00,280.50 L290.10,280.50 L290.20,280.50 L290.30,280.50 L290.40,280.50 L290.50,280.50 L290.60,280.50 L290.70,280.50 L290.80,280.50 L290.90,280.50 L291.00,280.50 L291.10,280.50 L291.20,280.50 L291.30,280.50 L291.40,280.50 L291.50,280.50 L291.60,280.50 L291.70,280.50 L291.80,280.50 L291.90,280.50 L292.00,280.50 L292.10,280.50 L292.20,280.50 L292.30,280.50 L292.40,280.50 L292.50,280.50 L292.60,280.50 L292.70,280.50 L292.80,280.50 L292.90,280.50 L293.00,280.50 L293.10,280.50 L293.20,280.50 L293.30,280.50 L293.40,280.50 L293.50,280.50 L293.60,280.50 L293.70,280.50 L293.80,280.50 L293.90,280.50 L294.00,280.50 L294.10,280.50 L294.20,280.50 L294.30,280.50 L294.40,280.50 L294.50,280.50 L294.60,280.50 L294.70,280.50 L294.80,280.50 L294.90,280.50 L295.00,280.50 L295.10,280.50 L295.20,280.50 L295.30,280.50 L295.40,280.50 L295.50,280.50 L295.60,280.50 L295.70,280.50 L295.80,280.50 L295.90,280.50 L296.00,280.50 L296.10,280.50 L296.20,280.50 L296.30,280.50 L296.40,280.50 L296.50,280.50 L296.60,280.50 L296.70,280.50 L296.80,280.50 L296.90,280.50 L297.00,280.50 L297.10,280.50 L297.20,280.50 L297.30,280.50 L297.40,280.50 L297.50,280.50 L297.60,280.50 L297.70,280.50 L297.80,280.50 L297.90,280.50 L298.00,280.50 L298.10,280.50 L298.20,280.50 L298.30,280.50 L298.40,280.50 L298.50,280.50 L298.60,280.50 L298.70,280.50 L298.80,280.50 L298.90,280.50 L299.00,280.50 L299.10,280.50 L299.20,280.50 L299.30,280.50 L299.40,280.50 L299.50,280.50 L299.60,280.50 L299.70,280.50 L299.80,280.50 L299.90,280.50 L300.00,280.50 L300.10,280.50 L300.20,280.50 L300.30,280.50 L300.40,280.50 L300.50,280.50 L300.60,280.50 L300.70,280.50 L300.80,280.50 L300.90,280.50 L301.00,280.50 L301.10,280.50 L301.20,280.50 L301.30,280.50 L301.40,280.50 L301.50,280.50 L301.60,280.50 L301.70,280.50 L301.80,280.50 L301.90,280.50 L302.00,280.50 L302.10,280.50 L302.20,280.50 L302.30,280.50 L302.40,280.50 L302.50,280.50 L302.60,280.50 L302.70,280.50 L302.80,280.50 L302.90,280.50 L303.00,280.50 L303.10,280.50 L303.20,280.50 L303.30,280.50 L303.40,280.50 L303.50,280.50 L303.60,280.50 L303.70,280.50 L303.80,280.50 L303.90,280.50 L304.00,280.50 L304.10,280.50 L304.20,280.50 L304.30,280.50 L304.40,280.50 L304.50,280.50 L304.60,280.50 L304.70,280.50 L304.80,280.50 L304.90,280.50 L305.00,280.50 L305.10,280.50 L305.20,280.50 L305.30,280.50 L305.40,280.50 L305.50,280.50 L305.60,280.50 L305.70,280.50 L305.80,280.50 L305.90,280.50 L306.00,280.50 L306.10,280.50 L306.20,280.50 L306.30,280.50 L306.40,280.50 L306.50,280.50 L306.60,280.50 L306.70,280.50 L306.80,280.50 L306.90,280.50 L307.00,280.50 L307.10,280.50 L307.20,280.50 L307.30,280.50 L307.40,280.50 L307.50,280.50 L307.60,280.50 L307.70,280.50 L307.80,280.50 L307.90,280.50 L308.00,280.50 L308.10,280.50 L308.20,280.50 L308.30,280.50 L308.40,280.50 L308.50,280.50 L308.60,280.50 L308.70,280.50 L308.80,280.49 L308.90,280.49 L309.00,280.48 L309.10,280.46 L309.20,280.42 L309.30,280.37 L309.40,280.29 L309.50,280.18 L309.60,280.01 L309.70,279.79 L309.80,279.49 L309.90,279.12 L310.00,278.68 L310.10,278.16 L310.20,277.60 L310.30,277.03 L310.40,276.47 L310.50,275.97 L310.60,275.58 L310.70,275.33 L310.80,275.25 L310.90,275.33 L311.00,275.58 L311.10,275.97 L311.20,276.47 L311.30,277.03 L311.40,277.60 L311.50,278.16 L311.60,278.68 L311.70,279.12 L311.80,279.49 L311.90,279.79 L312.00,280.01 L312.10,280.18 L312.20,280.29 L312.30,280.37 L312.40,280.42 L312.50,280.46 L312.60,280.48 L312.70,280.49 L312.80,280.49 L312.90,280.50 L313.00,280.50 L313.10,280.50 L313.20,280.50 L313.30,280.50 L313.40,280.50 L313.50,280.50 L313.60,280.50 L313.70,280.50 L313.80,280.50 L313.90,280.50 L314.00,280.50 L314.10,280.50 L314.20,280.50 L314.30,280.50 L314.40,280.50 L314.50,280.50 L314.60,280.50 L314.70,280.50 L314.80,280.50 L314.90,280.50 L315.00,280.50 L315.10,280.50 L315.20,280.50 L315.30,280.50 L315.40,280.50 L315.50,280.50 L315.60,280.50 L315.70,280.50 L315.80,280.50 L315.90,280.50 L316.00,280.50 L316.10,280.50 L316.20,280.50 L316.30,280.50 L316.40,280.50 L316.50,280.50 L316.60,280.50 L316.70,280.50 L316.80,280.50 L316.90,280.50 L317.00,280.50 L317.10,280.50 L317.20,280.50 L317.30,280.50 L317.40,280.50 L317.50,280.50 L317.60,280.50 L317.70,280.50 L317.80,280.50 L317.90,280.50 L318.00,280.50 L318.10,280.50 L318.20,280.50 L318.30,280.50 L318.40,280.50 L318.50,280.50 L318.60,280.50 L318.70,280.50 L318.80,280.50 L318.90,280.50 L319.00,280.50 L319.10,280.50 L319.20,280.50 L319.30,280.50 L319.40,280.50 L319.50,280.50 L319.60,280.50 L319.70,280.50 L319.80,280.50 L319.90,280.50 L320.00,280.50 L320.10,280.50 L320.20,280.50 L320.30,280.50 L320.40,280.50 L320.50,280.50 L320.60,280.50 L320.70,280.50 L320.80,280.50 L320.90,280.50 L321.00,280.50 L321.10,280.50 L321.20,280.50 L321.30,280.50 L321.40,280.50 L321.50,280.50 L321.60,280.50 L321.70,280.50 L321.80,280.50 L321.90,280.50 L322.00,280.50 L322.10,280.50 L322.20,280.50 L322.30,280.50 L322.40,280.50 L322.50,280.50 L322.60,280.50 L322.70,280.50 L322.80,280.50 L322.90,280.50 L323.00,280.50 L323.10,280.50 L323.20,280.50 L323.30,280.50 L323.40,280.50 L323.50,280.50 L323.60,280.50 L323.70,280.50 L323.80,280.50 L323.90,280.50 L324.00,280.50 L324.10,280.50 L324.20,280.50 L324.30,280.50 L324.40,280.50 L324.50,280.50 L324.60,280.50 L324.70,280.50 L324.80,280.50 L324.90,280.50 L325.00,280.50 L325.10,280.50 L325.20,280.50 L325.30,280.50 L325.40,280.50 L325.50,280.50 L325.60,280.50 L325.70,280.50 L325.80,280.50 L325.90,280.50 L326.00,280.50 L326.10,280.50 L326.20,280.50 L326.30,280.50 L326.40,280.50 L326.50,280.50 L326.60,280.50 L326.70,280.49 L326.80,280.49 L326.90,280.48 L327.00,280.46 L327.10,280.44 L327.20,280.40 L327.30,280.35 L327.40,280.27 L327.50,280.17 L327.60,280.03 L327.70,279.85 L327.80,279.64 L327.90,279.40 L328.00,279.14 L328.10,278.86 L328.20,278.60 L328.30,278.37 L328.40,278.19 L328.50,278.07 L328.60,278.03 L328.70,278.07 L328.80,278.19 L328.90,278.37 L329.00,278.60 L329.10,278.86 L329.20,279.14 L329.30,279.40 L329.40,279.64 L329.50,279.85 L329.60,280.03 L329.70,280.17 L329.80,280.27 L329.90,280.35 L330.00,280.40 L330.10,280.44 L330.20,280.46 L330.30,280.48 L330.40,280.49 L330.50,280.49 L330.60,280.50 L330.70,280.50 L330.80,280.50 L330.90,280.50 L331.00,280.50 L331.10,280.50 L331.20,280.50 L331.30,280.50 L331.40,280.50 L331.50,280.50 L331.60,280.50 L331.70,280.50 L331.80,280.50 L331.90,280.50 L332.00,280.50 L332.10,280.50 L332.20,280.50 L332.30,280.50 L332.40,280.50 L332.50,280.50 L332.60,280.50 L332.70,280.50 L332.80,280.50 L332.90,280.50 L333.00,280.50 L333.10,280.50 L333.20,280.50 L333.30,280.50 L333.40,280.50 L333.50,280.50 L333.60,280.50 L333.70,280.50 L333.80,280.50 L333.90,280.50 L334.00,280.50 L334.10,280.50 L334.20,280.50 L334.30,280.50 L334.40,280.50 L334.50,280.50 L334.60,280.50 L334.70,280.50 L334.80,280.50 L334.90,280.50 L335.00,280.50 L335.10,280.50 L335.20,280.50 L335.30,280.50 L335.40,280.50 L335.50,280.50 L335.60,280.50 L335.70,280.50 L335.80,280.50 L335.90,280.50 L336.00,280.50 L336.10,280.50 L336.20,280.50 L336.30,280.50 L336.40,280.50 L336.50,280.50 L336.60,280.50 L336.70,280.50 L336.80,280.50 L336.90,280.50 L337.00,280.50 L337.10,280.50 L337.20,280.50 L337.30,280.50 L337.40,280.50 L337.50,280.50 L337.60,280.50 L337.70,280.50 L337.80,280.50 L337.90,280.50 L338.00,280.50 L338.10,280.50 L338.20,280.50 L338.30,280.50 L338.40,280.50 L338.50,280.50 L338.60,280.50 L338.70,280.50 L338.80,280.50 L338.90,280.50 L339.00,280.50 L339.10,280.50 L339.20,280.50 L339.30,280.50 L339.40,280.50 L339.50,280.50 L339.60,280.50 L339.70,280.50 L339.80,280.50 L339.90,280.50 L340.00,280.50 L340.10,280.50 L340.20,280.50 L340.30,280.50 L340.40,280.50 L340.50,280.50 L340.60,280.50 L340.70,280.50 L340.80,280.50 L340.90,280.50 L341.00,280.50 L341.10,280.50 L341.20,280.50 L341.30,280.50 L341.40,280.50 L341.50,280.50 L341.60,280.50 L341.70,280.50 L341.80,280.50 L341.90,280.50 L342.00,280.50 L342.10,280.50 L342.20,280.50 L342.30,280.50 L342.40,280.50 L342.50,280.50 L342.60,280.50 L342.70,280.50 L342.80,280.50 L342.90,280.50 L343.00,280.50 L343.10,280.50 L343.20,280.50 L343.30,280.50 L343.40,280.50 L343.50,280.50 L343.60,280.50 L343.70,280.50 L343.80,280.50 L343.90,280.50 L344.00,280.50 L344.10,280.50 L344.20,280.50 L344.30,280.50 L344.40,280.50 L344.50,280.50 L344.60,280.50 L344.70,280.50 L344.80,280.49 L344.90,280.49 L345.00,280.47 L345.10,280.45 L345.20,280.39 L345.30,280.30 L345.40,280.13 L345.50,279.84 L345.60,279.35 L345.70,278.59 L345.80,277.41 L345.90,275.68 L346.00,273.21 L346.10,269.84 L346.20,265.41 L346.30,259.84 L346.40,253.14 L346.50,245.44 L346.60,237.04 L346.70,228.38 L346.80,220.02 L346.90,212.60 L347.00,206.75 L347.10,203.00 L347.20,201.70 L347.30,203.00 L347.40,206.75 L347.50,212.60 L347.60,220.02 L347.70,228.38 L347.80,237.04 L347.90,245.44 L348.00,253.14 L348.10,259.84 L348.20,265.41 L348.30,269.84 L348.40,273.21 L348.50,275.68 L348.60,277.41 L348.70,278.59 L348.80,279.35 L348.90,279.84 L349.00,280.13 L349.10,280.30 L349.20,280.39 L349.30,280.45 L349.40,280.47 L349.50,280.49 L349.60,280.49 L349.70,280.50 L349.80,280.50 L349.90,280.50 L350.00,280.50 L350.10,280.50 L350.20,280.50 L350.30,280.50 L350.40,280.50 L350.50,280.50 L350.60,280.50 L350.70,280.50 L350.80,280.50 L350.90,280.50 L351.00,280.50 L351.10,280.50 L351.20,280.50 L351.30,280.50 L351.40,280.50 L351.50,280.50 L351.60,280.50 L351.70,280.50 L351.80,280.50 L351.90,280.50 L352.00,280.50 L352.10,280.50 L352.20,280.50 L352.30,280.50 L352.40,280.50 L352.50,280.50 L352.60,280.50 L352.70,280.50 L352.80,280.50 L352.90,280.50 L353.00,280.50 L353.10,280.50 L353.20,280.50 L353.30,280.50 L353.40,280.50 L353.50,280.50 L353.60,280.50 L353.70,280.50 L353.80,280.50 L353.90,280.50 L354.00,280.50 L354.10,280.50 L354.20,280.50 L354.30,280.50 L354.40,280.50 L354.50,280.50 L354.60,280.50 L354.70,280.50 L354.80,280.50 L354.90,280.50 L355.00,280.50 L355.10,280.50 L355.20,280.50 L355.30,280.50 L355.40,280.50 L355.50,280.50 L355.60,280.50 L355.70,280.50 L355.80,280.50 L355.90,280.50 L356.00,280.50 L356.10,280.50 L356.20,280.50 L356.30,280.50 L356.40,280.50 L356.50,280.50 L356.60,280.50 L356.70,280.50 L356.80,280.50 L356.90,280.50 L357.00,280.50 L357.10,280.50 L357.20,280.50 L357.30,280.50 L357.40,280.50 L357.50,280.50 L357.60,280.49 L357.70,280.48 L357.80,280.47 L357.90,280.44 L358.00,280.40 L358.10,280.34 L358.20,280.24 L358.30,280.09 L358.40,279.89 L358.50,279.60 L358.60,279.23 L358.70,278.76 L358.80,278.19 L358.90,277.54 L359.00,276.84 L359.10,276.11 L359.20,275.40 L359.30,274.77 L359.40,274.28 L359.50,273.97 L359.60,273.86 L359.70,273.97 L359.80,274.28 L359.90,274.77 L360.00,275.40 L360.10,276.11 L360.20,276.84 L360.30,277.54 L360.40,278.19 L360.50,278.76 L360.60,279.23 L360.70,279.60 L360.80,279.89 L360.90,280.09 L361.00,280.24 L361.10,280.34 L361.20,280.40 L361.30,280.44 L361.40,280.47 L361.50,280.48 L361.60,280.49 L361.70,280.50 L361.80,280.50 L361.90,280.50 L362.00,280.50 L362.10,280.50 L362.20,280.50 L362.30,280.50 L362.40,280.50 L362.50,280.50 L362.60,280.50 L362.70,280.50 L362.80,280.50 L362.90,280.50 L363.00,280.50 L363.10,280.50 L363.20,280.50 L363.30,280.50 L363.40,280.50 L363.50,280.50 L363.60,280.50 L363.70,280.50 L363.80,280.50 L363.90,280.50 L364.00,280.50 L364.10,280.50 L364.20,280.50 L364.30,280.50 L364.40,280.50 L364.50,280.50 L364.60,280.50 L364.70,280.50 L364.80,280.50 L364.90,280.50 L365.00,280.50 L365.10,280.50 L365.20,280.50 L365.30,280.50 L365.40,280.50 L365.50,280.50 L365.60,280.50 L365.70,280.50 L365.80,280.50 L365.90,280.50 L366.00,280.50 L366.10,280.50 L366.20,280.50 L366.30,280.50 L366.40,280.50 L366.50,280.50 L366.60,280.50 L366.70,280.50 L366.80,280.50 L366.90,280.50 L367.00,280.50 L367.10,280.50 L367.20,280.50 L367.30,280.50 L367.40,280.50 L367.50,280.50 L367.60,280.50 L367.70,280.50 L367.80,280.50 L367.90,280.50 L368.00,280.50 L368.10,280.50 L368.20,280.50 L368.30,280.50 L368.40,280.50 L368.50,280.50 L368.60,280.50 L368.70,280.50 L368.80,280.50 L368.90,280.50 L369.00,280.50 L369.10,280.50 L369.20,280.50 L369.30,280.50 L369.40,280.50 L369.50,280.50 L369.60,280.50 L369.70,280.50 L369.80,280.50 L369.90,280.50 L370.00,280.50 L370.10,280.50 L370.20,280.50 L370.30,280.50 L370.40,280.50 L370.50,280.50 L370.60,280.50 L370.70,280.49 L370.80,280.48 L370.90,280.47 L371.00,280.45 L371.10,280.42 L371.20,280.37 L371.30,280.29 L371.40,280.19 L371.50,280.04 L371.60,279.85 L371.70,279.61 L371.80,279.32 L371.90,278.99 L372.00,278.63 L372.10,278.25 L372.20,277.89 L372.30,277.57 L372.40,277.32 L372.50,277.16 L372.60,277.10 L372.70,277.16 L372.80,277.32 L372.90,277.57 L373.00,277.89 L373.10,278.25 L373.20,278.63 L373.30,278.99 L373.40,279.32 L373.50,279.61 L373.60,279.85 L373.70,280.04 L373.80,280.19 L373.90,280.29 L374.00,280.37 L374.10,280.42 L374.20,280.45 L374.30,280.47 L374.40,280.48 L374.50,280.49 L374.60,280.50 L374.70,280.50 L374.80,280.50 L374.90,280.50 L375.00,280.50 L375.10,280.50 L375.20,280.50 L375.30,280.50 L375.40,280.50 L375.50,280.50 L375.60,280.50 L375.70,280.50 L375.80,280.50 L375.90,280.50 L376.00,280.50 L376.10,280.50 L376.20,280.50 L376.30,280.50 L376.40,280.50 L376.50,280.50 L376.60,280.50 L376.70,280.50 L376.80,280.50 L376.90,280.50 L377.00,280.50 L377.10,280.50 L377.20,280.50 L377.30,280.50 L377.40,280.50 L377.50,280.50 L377.60,280.50 L377.70,280.50 L377.80,280.50 L377.90,280.50 L378.00,280.50 L378.10,280.50 L378.20,280.50 L378.30,280.50 L378.40,280.50 L378.50,280.50 L378.60,280.50 L378.70,280.50 L378.80,280.50 L378.90,280.50 L379.00,280.50 L379.10,280.50 L379.20,280.50 L379.30,280.50 L379.40,280.50 L379.50,280.50 L379.60,280.50 L379.70,280.50 L379.80,280.50 L379.90,280.50 L380.00,280.50 L380.10,280.50 L380.20,280.50 L380.30,280.50 L380.40,280.50 L380.50,280.50 L380.60,280.50 L380.70,280.50 L380.80,280.50 L380.90,280.50 L381.00,280.50 L381.10,280.50 L381.20,280.50 L381.30,280.50 L381.40,280.50 L381.50,280.50 L381.60,280.50 L381.70,280.50 L381.80,280.50 L381.90,280.50 L382.00,280.50 L382.10,280.50 L382.20,280.50 L382.30,280.50 L382.40,280.50 L382.50,280.50 L382.60,280.50 L382.70,280.50 L382.80,280.50 L382.90,280.50 L383.00,280.50 L383.10,280.50 L383.20,280.50 L383.30,280.50 L383.40,280.50 L383.50,280.50 L383.60,280.50 L383.70,280.50 L383.80,280.50 L383.90,280.50 L384.00,280.50 L384.10,280.50 L384.20,280.50 L384.30,280.50 L384.40,280.50 L384.50,280.50 L384.60,280.50 L384.70,280.50 L384.80,280.50 L384.90,280.50 L385.00,280.50 L385.10,280.50 L385.20,280.50 L385.30,280.50 L385.40,280.50 L385.50,280.50 L385.60,280.50 L385.70,280.50 L385.80,280.50 L385.90,280.50 L386.00,280.50 L386.10,280.50 L386.20,280.50 L386.30,280.50 L386.40,280.50 L386.50,280.50 L386.60,280.50 L386.70,280.50 L386.80,280.50 L386.90,280.50 L387.00,280.50 L387.10,280.50 L387.20,280.49 L387.30,280.49 L387.40,280.48 L387.50,280.46 L387.60,280.43 L387.70,280.39 L387.80,280.32 L387.90,280.22 L388.00,280.07 L388.10,279.87 L388.20,279.61 L388.30,279.28 L388.40,278.89 L388.50,278.44 L388.60,277.94 L388.70,277.43 L388.80,276.94 L388.90,276.51 L389.00,276.16 L389.10,275.94 L389.20,275.87 L389.30,275.94 L389.40,276.16 L389.50,276.51 L389.60,276.94 L389.70,277.43 L389.80,277.94 L389.90,278.44 L390.00,278.89 L390.10,279.28 L390.20,279.61 L390.30,279.87 L390.40,280.07 L390.50,280.22 L390.60,280.32 L390.70,280.39 L390.80,280.43 L390.90,280.46 L391.00,280.48 L391.10,280.49 L391.20,280.49 L391.30,280.50 L391.40,280.50 L391.50,280.50 L391.60,280.50 L391.70,280.50 L391.80,280.50 L391.90,280.50 L392.00,280.50 L392.10,280.50 L392.20,280.50 L392.30,280.50 L392.40,280.50 L392.50,280.50 L392.60,280.50 L392.70,280.50 L392.80,280.50 L392.90,280.50 L393.00,280.50 L393.10,280.50 L393.20,280.50 L393.30,280.50 L393.30,280.50 L203.20,280.50 Z" fill="#acd0ee" stroke="#acd0ee" stroke-width="0.9" stroke-linejoin="round"/>
<path d="M203.20,280.50 L203.30,280.50 L203.40,280.50 L203.50,280.50 L203.60,280.50 L203.70,280.50 L203.80,280.50 L203.90,280.50 L204.00,280.50 L204.10,280.50 L204.20,280.50 L204.30,280.50 L204.40,280.50 L204.50,280.50 L204.60,280.50 L204.70,280.50 L204.80,280.50 L204.90,280.50 L205.00,280.50 L205.10,280.50 L205.20,280.50 L205.30,280.50 L205.40,280.50 L205.50,280.50 L205.60,280.50 L205.70,280.50 L205.80,280.50 L205.90,280.50 L206.00,280.50 L206.10,280.50 L206.20,280.50 L206.30,280.49 L206.40,280.48 L206.50,280.46 L206.60,280.43 L206.70,280.36 L206.80,280.25 L206.90,280.05 L207.00,279.73 L207.10,279.21 L207.20,278.42 L207.30,277.26 L207.40,275.60 L207.50,273.33 L207.60,270.35 L207.70,266.61 L207.80,262.10 L207.90,256.92 L208.00,251.27 L208.10,245.44 L208.20,239.82 L208.30,234.83 L208.40,230.90 L208.50,228.38 L208.60,227.51 L208.70,228.38 L208.80,230.90 L208.90,234.83 L209.00,239.82 L209.10,245.44 L209.20,251.27 L209.30,256.92 L209.40,262.10 L209.50,266.61 L209.60,270.35 L209.70,273.33 L209.80,275.60 L209.90,277.26 L210.00,278.42 L210.10,279.21 L210.20,279.73 L210.30,280.05 L210.40,280.25 L210.50,280.36 L210.60,280.43 L210.70,280.46 L210.80,280.48 L210.90,280.49 L211.00,280.50 L211.10,280.50 L211.20,280.50 L211.30,280.50 L211.40,280.50 L211.50,280.50 L211.60,280.50 L211.70,280.50 L211.80,280.50 L211.90,280.50 L212.00,280.50 L212.10,280.50 L212.20,280.50 L212.30,280.50 L212.40,280.50 L212.50,280.50 L212.60,280.50 L212.70,280.50 L212.80,280.50 L212.90,280.50 L213.00,280.50 L213.10,280.50 L213.20,280.50 L213.30,280.50 L213.40,280.50 L213.50,280.50 L213.60,280.50 L213.70,280.50 L213.80,280.50 L213.90,280.50 L214.00,280.50 L214.10,280.50 L214.20,280.50 L214.30,280.50 L214.40,280.50 L214.50,280.50 L214.60,280.50 L214.70,280.50 L214.80,280.50 L214.90,280.50 L215.00,280.50 L215.10,280.50 L215.20,280.50 L215.30,280.50 L215.40,280.50 L215.50,280.50 L215.60,280.50 L215.70,280.50 L215.80,280.50 L215.90,280.50 L216.00,280.50 L216.10,280.50 L216.20,280.50 L216.30,280.50 L216.40,280.50 L216.50,280.50 L216.60,280.50 L216.70,280.50 L216.80,280.50 L216.90,280.50 L217.00,280.50 L217.10,280.50 L217.20,280.50 L217.30,280.50 L217.40,280.50 L217.50,280.50 L217.60,280.50 L217.70,280.50 L217.80,280.50 L217.90,280.50 L218.00,280.50 L218.10,280.50 L218.20,280.50 L218.30,280.50 L218.40,280.50 L218.50,280.50 L218.60,280.50 L218.70,280.50 L218.80,280.50 L218.90,280.50 L219.00,280.50 L219.10,280.50 L219.20,280.50 L219.30,280.50 L219.40,280.50 L219.50,280.50 L219.60,280.50 L219.70,280.50 L219.80,280.50 L219.90,280.50 L220.00,280.50 L220.10,280.50 L220.20,280.50 L220.30,280.50 L220.40,280.50 L220.50,280.50 L220.60,280.50 L220.70,280.50 L220.80,280.50 L220.90,280.50 L221.00,280.50 L221.10,280.50 L221.20,280.50 L221.30,280.50 L221.40,280.50 L221.50,280.50 L221.60,280.50 L221.70,280.50 L221.80,280.50 L221.90,280.50 L222.00,280.50 L222.10,280.50 L222.20,280.50 L222.30,280.50 L222.40,280.50 L222.50,280.50 L222.60,280.50 L222.70,280.50 L222.80,280.50 L222.90,280.50 L223.00,280.50 L223.10,280.50 L223.20,280.50 L223.30,280.50 L223.40,280.50 L223.50,280.50 L223.60,280.50 L223.70,280.49 L223.80,280.49 L223.90,280.48 L224.00,280.46 L224.10,280.44 L224.20,280.41 L224.30,280.36 L224.40,280.29 L224.50,280.20 L224.60,280.09 L224.70,279.96 L224.80,279.81 L224.90,279.65 L225.00,279.48 L225.10,279.31 L225.20,279.17 L225.30,279.05 L225.40,278.98 L225.50,278.95 L225.60,278.98 L225.70,279.05 L225.80,279.17 L225.90,279.31 L226.00,279.48 L226.10,279.65 L226.20,279.81 L226.30,279.96 L226.40,280.09 L226.50,280.20 L226.60,280.29 L226.70,280.36 L226.80,280.41 L226.90,280.43 L227.00,280.39 L227.10,280.33 L227.20,280.25 L227.30,280.14 L227.40,280.01 L227.50,279.86 L227.60,279.68 L227.70,279.48 L227.80,279.27 L227.90,279.08 L228.00,278.90 L228.10,278.76 L228.20,278.68 L228.30,278.65 L228.40,278.68 L228.50,278.76 L228.60,278.90 L228.70,279.08 L228.80,279.27 L228.90,279.48 L229.00,279.68 L229.10,279.86 L229.20,280.01 L229.30,280.14 L229.40,280.25 L229.50,280.33 L229.60,280.39 L229.70,280.43 L229.80,280.42 L229.90,280.36 L230.00,280.27 L230.10,280.13 L230.20,279.92 L230.30,279.63 L230.40,279.22 L230.50,278.70 L230.60,278.03 L230.70,277.23 L230.80,276.31 L230.90,275.30 L231.00,274.27 L231.10,273.27 L231.20,272.38 L231.30,271.68 L231.40,271.23 L231.50,271.08 L231.60,271.23 L231.70,271.68 L231.80,272.38 L231.90,273.27 L232.00,274.27 L232.10,275.30 L232.20,276.31 L232.30,277.23 L232.40,278.03 L232.50,278.70 L232.60,279.22 L232.70,279.63 L232.80,279.92 L232.90,280.13 L233.00,280.27 L233.10,280.17 L233.20,280.02 L233.30,279.82 L233.40,279.57 L233.50,279.27 L233.60,278.92 L233.70,278.54 L233.80,278.15 L233.90,277.77 L234.00,277.44 L234.10,277.17 L234.20,277.00 L234.30,276.95 L234.40,277.00 L234.50,277.17 L234.60,277.44 L234.70,277.77 L234.80,278.15 L234.90,278.54 L235.00,278.92 L235.10,279.27 L235.20,279.57 L235.30,279.82 L235.40,280.02 L235.50,280.17 L235.60,280.28 L235.70,280.36 L235.80,280.41 L235.90,280.45 L236.00,280.47 L236.10,280.48 L236.20,280.49 L236.30,280.50 L236.40,280.50 L236.50,280.50 L236.60,280.50 L236.70,280.50 L236.80,280.50 L236.90,280.50 L237.00,280.50 L237.10,280.50 L237.20,280.50 L237.30,280.49 L237.40,280.49 L237.50,280.48 L237.60,280.46 L237.70,280.42 L237.80,280.35 L237.90,280.23 L238.00,280.03 L238.10,279.71 L238.20,279.23 L238.30,278.51 L238.40,277.50 L238.50,276.11 L238.60,274.29 L238.70,271.99 L238.80,269.24 L238.90,266.07 L239.00,262.61 L239.10,259.04 L239.20,255.59 L239.30,252.54 L239.40,250.13 L239.50,248.59 L239.60,248.06 L239.70,248.59 L239.80,250.13 L239.90,252.54 L240.00,255.59 L240.10,259.04 L240.20,262.61 L240.30,266.07 L240.40,269.24 L240.50,271.99 L240.60,274.29 L240.70,276.11 L240.80,277.50 L240.90,278.51 L241.00,279.23 L241.10,279.71 L241.20,280.03 L241.30,280.23 L241.40,280.35 L241.50,280.42 L241.60,280.46 L241.70,280.48 L241.80,280.49 L241.90,280.49 L242.00,280.50 L242.10,280.50 L242.20,280.50 L242.30,280.50 L242.40,280.50 L242.50,280.50 L242.60,280.50 L242.70,280.50 L242.80,280.50 L242.90,280.50 L243.00,280.50 L243.10,280.50 L243.20,280.50 L243.30,280.50 L243.40,280.50 L243.50,280.50 L243.60,280.50 L243.70,280.50 L243.80,280.50 L243.90,280.50 L244.00,280.50 L244.10,280.50 L244.20,280.50 L244.30,280.50 L244.40,280.50 L244.50,280.50 L244.60,280.50 L244.70,280.50 L244.80,280.50 L244.90,280.50 L245.00,280.50 L245.10,280.50 L245.20,280.50 L245.30,280.50 L245.40,280.50 L245.50,280.50 L245.60,280.50 L245.70,280.50 L245.80,280.50 L245.90,280.50 L246.00,280.50 L246.10,280.50 L246.20,280.50 L246.30,280.50 L246.40,280.50 L246.50,280.50 L246.60,280.50 L246.70,280.50 L246.80,280.50 L246.90,280.50 L247.00,280.50 L247.10,280.50 L247.20,280.50 L247.30,280.50 L247.40,280.50 L247.50,280.50 L247.60,280.50 L247.70,280.50 L247.80,280.50 L247.90,280.50 L248.00,280.50 L248.10,280.50 L248.20,280.50 L248.30,280.50 L248.40,280.50 L248.50,280.50 L248.60,280.50 L248.70,280.50 L248.80,280.50 L248.90,280.50 L249.00,280.50 L249.10,280.50 L249.20,280.50 L249.30,280.50 L249.40,280.50 L249.50,280.50 L249.60,280.50 L249.70,280.50 L249.80,280.50 L249.90,280.50 L250.00,280.50 L250.10,280.50 L250.20,280.50 L250.30,280.50 L250.40,280.50 L250.50,280.50 L250.60,280.50 L250.70,280.50 L250.80,280.50 L250.90,280.50 L251.00,280.50 L251.10,280.50 L251.20,280.50 L251.30,280.50 L251.40,280.50 L251.50,280.50 L251.60,280.50 L251.70,280.50 L251.80,280.50 L251.90,280.50 L252.00,280.50 L252.10,280.50 L252.20,280.50 L252.30,280.50 L252.40,280.50 L252.50,280.50 L252.60,280.50 L252.70,280.50 L252.80,280.50 L252.90,280.50 L253.00,280.50 L253.10,280.50 L253.20,280.50 L253.30,280.50 L253.40,280.50 L253.50,280.50 L253.60,280.50 L253.70,280.50 L253.80,280.50 L253.90,280.50 L254.00,280.50 L254.10,280.50 L254.20,280.50 L254.30,280.50 L254.40,280.50 L254.50,280.50 L254.60,280.50 L254.70,280.50 L254.80,280.50 L254.90,280.50 L255.00,280.50 L255.10,280.50 L255.20,280.50 L255.30,280.50 L255.40,280.50 L255.50,280.50 L255.60,280.50 L255.70,280.50 L255.80,280.50 L255.90,280.50 L256.00,280.50 L256.10,280.50 L256.20,280.50 L256.30,280.50 L256.40,280.50 L256.50,280.50 L256.60,280.50 L256.70,280.50 L256.80,280.50 L256.90,280.50 L257.00,280.50 L257.10,280.50 L257.20,280.50 L257.30,280.50 L257.40,280.50 L257.50,280.50 L257.60,280.50 L257.70,280.50 L257.80,280.50 L257.90,280.50 L258.00,280.50 L258.10,280.50 L258.20,280.50 L258.30,280.50 L258.40,280.50 L258.50,280.50 L258.60,280.50 L258.70,280.50 L258.80,280.50 L258.90,280.50 L259.00,280.50 L259.10,280.49 L259.20,280.49 L259.30,280.47 L259.40,280.45 L259.50,280.40 L259.60,280.33 L259.70,280.20 L259.80,280.00 L259.90,279.69 L260.00,279.24 L260.10,278.60 L260.20,277.72 L260.30,276.57 L260.40,275.11 L260.50,273.37 L260.60,271.36 L260.70,269.17 L260.80,266.91 L260.90,264.73 L261.00,262.79 L261.10,261.27 L261.20,260.29 L261.30,259.95 L261.40,260.29 L261.50,261.27 L261.60,262.79 L261.70,264.73 L261.80,266.91 L261.90,269.17 L262.00,271.36 L262.10,273.37 L262.20,275.11 L262.30,276.57 L262.40,277.72 L262.50,278.60 L262.60,279.24 L262.70,279.69 L262.80,280.00 L262.90,280.20 L263.00,280.33 L263.10,280.40 L263.20,280.45 L263.30,280.47 L263.40,280.49 L263.50,280.49 L263.60,280.50 L263.70,280.50 L263.80,280.50 L263.90,280.50 L264.00,280.50 L264.10,280.50 L264.20,280.50 L264.30,280.50 L264.40,280.50 L264.50,280.50 L264.60,280.50 L264.70,280.50 L264.80,280.50 L264.90,280.50 L265.00,280.50 L265.10,280.50 L265.20,280.50 L265.30,280.50 L265.40,280.50 L265.50,280.50 L265.60,280.50 L265.70,280.50 L265.80,280.50 L265.90,280.50 L266.00,280.50 L266.10,280.50 L266.20,280.50 L266.30,280.50 L266.40,280.50 L266.50,280.50 L266.60,280.50 L266.70,280.50 L266.80,280.50 L266.90,280.50 L267.00,280.50 L267.10,280.50 L267.20,280.50 L267.30,280.50 L267.40,280.50 L267.50,280.50 L267.60,280.50 L267.70,280.50 L267.80,280.50 L267.90,280.50 L268.00,280.50 L268.10,280.50 L268.20,280.50 L268.30,280.50 L268.40,280.50 L268.50,280.50 L268.60,280.50 L268.70,280.50 L268.80,280.50 L268.90,280.50 L269.00,280.50 L269.10,280.50 L269.20,280.50 L269.30,280.50 L269.40,280.50 L269.50,280.50 L269.60,280.50 L269.70,280.50 L269.80,280.50 L269.90,280.50 L270.00,280.50 L270.10,280.50 L270.20,280.50 L270.30,280.50 L270.40,280.50 L270.50,280.50 L270.60,280.50 L270.70,280.50 L270.80,280.50 L270.90,280.50 L271.00,280.50 L271.10,280.50 L271.20,280.50 L271.30,280.50 L271.40,280.50 L271.50,280.50 L271.60,280.50 L271.70,280.50 L271.80,280.50 L271.90,280.50 L272.00,280.50 L272.10,280.50 L272.20,280.50 L272.30,280.50 L272.40,280.50 L272.50,280.50 L272.60,280.50 L272.70,280.50 L272.80,280.50 L272.90,280.50 L273.00,280.50 L273.10,280.50 L273.20,280.50 L273.30,280.50 L273.40,280.50 L273.50,280.50 L273.60,280.50 L273.70,280.50 L273.80,280.50 L273.90,280.50 L274.00,280.50 L274.10,280.50 L274.20,280.50 L274.30,280.50 L274.40,280.50 L274.50,280.50 L274.60,280.50 L274.70,280.50 L274.80,280.50 L274.90,280.50 L275.00,280.50 L275.10,280.50 L275.20,280.50 L275.30,280.50 L275.40,280.50 L275.50,280.50 L275.60,280.50 L275.70,280.50 L275.80,280.50 L275.90,280.50 L276.00,280.50 L276.10,280.50 L276.20,280.50 L276.30,280.50 L276.40,280.50 L276.50,280.50 L276.60,280.50 L276.70,280.50 L276.80,280.50 L276.90,280.50 L277.00,280.50 L277.10,280.50 L277.20,280.50 L277.30,280.50 L277.40,280.50 L277.50,280.50 L277.60,280.50 L277.70,280.50 L277.80,280.50 L277.90,280.50 L278.00,280.50 L278.10,280.50 L278.20,280.50 L278.30,280.50 L278.40,280.50 L278.50,280.50 L278.60,280.50 L278.70,280.50 L278.80,280.50 L278.90,280.50 L279.00,280.50 L279.10,280.50 L279.20,280.50 L279.30,280.50 L279.40,280.50 L279.50,280.50 L279.60,280.50 L279.70,280.50 L279.80,280.50 L279.90,280.50 L280.00,280.50 L280.10,280.50 L280.20,280.50 L280.30,280.50 L280.40,280.50 L280.50,280.50 L280.60,280.50 L280.70,280.50 L280.80,280.50 L280.90,280.50 L281.00,280.50 L281.10,280.50 L281.20,280.50 L281.30,280.50 L281.40,280.50 L281.50,280.50 L281.60,280.50 L281.70,280.50 L281.80,280.50 L281.90,280.50 L282.00,280.50 L282.10,280.50 L282.20,280.50 L282.30,280.50 L282.40,280.50 L282.50,280.50 L282.60,280.50 L282.70,280.50 L282.80,280.50 L282.90,280.50 L283.00,280.50 L283.10,280.50 L283.20,280.50 L283.30,280.50 L283.40,280.50 L283.50,280.50 L283.60,280.50 L283.70,280.50 L283.80,280.50 L283.90,280.50 L284.00,280.50 L284.10,280.50 L284.20,280.50 L284.30,280.50 L284.40,280.50 L284.50,280.50 L284.60,280.50 L284.70,280.50 L284.80,280.50 L284.90,280.50 L285.00,280.50 L285.10,280.50 L285.20,280.50 L285.30,280.50 L285.40,280.50 L285.50,280.50 L285.60,280.50 L285.70,280.50 L285.80,280.50 L285.90,280.50 L286.00,280.50 L286.10,280.50 L286.20,280.50 L286.30,280.50 L286.40,280.50 L286.50,280.50 L286.60,280.50 L286.70,280.50 L286.80,280.50 L286.90,280.50 L287.00,280.50 L287.10,280.50 L287.20,280.50 L287.30,280.50 L287.40,280.50 L287.50,280.50 L287.60,280.50 L287.70,280.50 L287.80,280.50 L287.90,280.50 L288.00,280.50 L288.10,280.50 L288.20,280.50 L288.30,280.50 L288.40,280.50 L288.50,280.50 L288.60,280.50 L288.70,280.50 L288.80,280.50 L288.90,280.50 L289.00,280.50 L289.10,280.50 L289.20,280.50 L289.30,280.50 L289.40,280.50 L289.50,280.50 L289.60,280.50 L289.70,280.50 L289.80,280.50 L289.90,280.50 L290.00,280.50 L290.10,280.50 L290.20,280.50 L290.30,280.50 L290.40,280.50 L290.50,280.50 L290.60,280.50 L290.70,280.50 L290.80,280.50 L290.90,280.50 L291.00,280.50 L291.10,280.50 L291.20,280.50 L291.30,280.50 L291.40,280.50 L291.50,280.50 L291.60,280.50 L291.70,280.50 L291.80,280.50 L291.90,280.50 L292.00,280.50 L292.10,280.50 L292.20,280.50 L292.30,280.50 L292.40,280.50 L292.50,280.50 L292.60,280.50 L292.70,280.50 L292.80,280.50 L292.90,280.50 L293.00,280.50 L293.10,280.50 L293.20,280.50 L293.30,280.50 L293.40,280.50 L293.50,280.50 L293.60,280.50 L293.70,280.50 L293.80,280.50 L293.90,280.50 L294.00,280.50 L294.10,280.50 L294.20,280.50 L294.30,280.50 L294.40,280.50 L294.50,280.50 L294.60,280.50 L294.70,280.50 L294.80,280.50 L294.90,280.50 L295.00,280.50 L295.10,280.50 L295.20,280.50 L295.30,280.50 L295.40,280.50 L295.50,280.50 L295.60,280.50 L295.70,280.50 L295.80,280.50 L295.90,280.50 L296.00,280.50 L296.10,280.50 L296.20,280.50 L296.30,280.50 L296.40,280.50 L296.50,280.50 L296.60,280.50 L296.70,280.50 L296.80,280.50 L296.90,280.50 L297.00,280.50 L297.10,280.50 L297.20,280.50 L297.30,280.50 L297.40,280.50 L297.50,280.50 L297.60,280.50 L297.70,280.50 L297.80,280.50 L297.90,280.50 L298.00,280.50 L298.10,280.50 L298.20,280.50 L298.30,280.50 L298.40,280.50 L298.50,280.50 L298.60,280.50 L298.70,280.50 L298.80,280.50 L298.90,280.50 L299.00,280.50 L299.10,280.50 L299.20,280.50 L299.30,280.50 L299.40,280.50 L299.50,280.50 L299.60,280.50 L299.70,280.50 L299.80,280.50 L299.90,280.50 L300.00,280.50 L300.10,280.50 L300.20,280.50 L300.30,280.50 L300.40,280.50 L300.50,280.50 L300.60,280.50 L300.70,280.50 L300.80,280.50 L300.90,280.50 L301.00,280.50 L301.10,280.50 L301.20,280.50 L301.30,280.50 L301.40,280.50 L301.50,280.50 L301.60,280.50 L301.70,280.50 L301.80,280.50 L301.90,280.50 L302.00,280.50 L302.10,280.50 L302.20,280.50 L302.30,280.50 L302.40,280.50 L302.50,280.50 L302.60,280.50 L302.70,280.50 L302.80,280.50 L302.90,280.50 L303.00,280.50 L303.10,280.50 L303.20,280.50 L303.30,280.50 L303.40,280.50 L303.50,280.50 L303.60,280.50 L303.70,280.50 L303.80,280.50 L303.90,280.50 L304.00,280.50 L304.10,280.50 L304.20,280.50 L304.30,280.50 L304.40,280.50 L304.50,280.50 L304.60,280.50 L304.70,280.50 L304.80,280.50 L304.90,280.50 L305.00,280.50 L305.10,280.50 L305.20,280.50 L305.30,280.50 L305.40,280.50 L305.50,280.50 L305.60,280.50 L305.70,280.50 L305.80,280.50 L305.90,280.50 L306.00,280.50 L306.10,280.50 L306.20,280.50 L306.30,280.50 L306.40,280.50 L306.50,280.50 L306.60,280.50 L306.70,280.50 L306.80,280.50 L306.90,280.50 L307.00,280.50 L307.10,280.50 L307.20,280.50 L307.30,280.50 L307.40,280.50 L307.50,280.50 L307.60,280.50 L307.70,280.50 L307.80,280.50 L307.90,280.50 L308.00,280.50 L308.10,280.50 L308.20,280.50 L308.30,280.50 L308.40,280.50 L308.50,280.50 L308.60,280.50 L308.70,280.50 L308.80,280.50 L308.90,280.50 L309.00,280.50 L309.10,280.50 L309.20,280.50 L309.30,280.50 L309.40,280.50 L309.50,280.50 L309.60,280.50 L309.70,280.50 L309.80,280.50 L309.90,280.50 L310.00,280.50 L310.10,280.50 L310.20,280.50 L310.30,280.50 L310.40,280.50 L310.50,280.50 L310.60,280.50 L310.70,280.50 L310.80,280.50 L310.90,280.50 L311.00,280.50 L311.10,280.50 L311.20,280.50 L311.30,280.50 L311.40,280.50 L311.50,280.50 L311.60,280.50 L311.70,280.50 L311.80,280.50 L311.90,280.50 L312.00,280.50 L312.10,280.50 L312.20,280.50 L312.30,280.50 L312.40,280.50 L312.50,280.50 L312.60,280.50 L312.70,280.50 L312.80,280.50 L312.90,280.50 L313.00,280.50 L313.10,280.50 L313.20,280.50 L313.30,280.50 L313.40,280.50 L313.50,280.50 L313.60,280.50 L313.70,280.50 L313.80,280.50 L313.90,280.50 L314.00,280.50 L314.10,280.50 L314.20,280.50 L314.30,280.50 L314.40,280.50 L314.50,280.50 L314.60,280.50 L314.70,280.50 L314.80,280.50 L314.90,280.50 L315.00,280.50 L315.10,280.50 L315.20,280.50 L315.30,280.50 L315.40,280.50 L315.50,280.50 L315.60,280.50 L315.70,280.50 L315.80,280.50 L315.90,280.50 L316.00,280.50 L316.10,280.50 L316.20,280.50 L316.30,280.50 L316.40,280.50 L316.50,280.50 L316.60,280.50 L316.70,280.50 L316.80,280.50 L316.90,280.50 L317.00,280.50 L317.10,280.50 L317.20,280.50 L317.30,280.50 L317.40,280.50 L317.50,280.50 L317.60,280.50 L317.70,280.50 L317.80,280.50 L317.90,280.50 L318.00,280.50 L318.10,280.50 L318.20,280.50 L318.30,280.50 L318.40,280.50 L318.50,280.50 L318.60,280.50 L318.70,280.50 L318.80,280.50 L318.90,280.50 L319.00,280.50 L319.10,280.50 L319.20,280.50 L319.30,280.50 L319.40,280.50 L319.50,280.50 L319.60,280.50 L319.70,280.50 L319.80,280.50 L319.90,280.50 L320.00,280.50 L320.10,280.50 L320.20,280.50 L320.30,280.50 L320.40,280.50 L320.50,280.50 L320.60,280.50 L320.70,280.50 L320.80,280.50 L320.90,280.50 L321.00,280.50 L321.10,280.50 L321.20,280.50 L321.30,280.50 L321.40,280.50 L321.50,280.50 L321.60,280.50 L321.70,280.50 L321.80,280.50 L321.90,280.50 L322.00,280.50 L322.10,280.50 L322.20,280.50 L322.30,280.50 L322.40,280.50 L322.50,280.50 L322.60,280.50 L322.70,280.50 L322.80,280.50 L322.90,280.50 L323.00,280.50 L323.10,280.50 L323.20,280.50 L323.30,280.50 L323.40,280.50 L323.50,280.50 L323.60,280.50 L323.70,280.50 L323.80,280.50 L323.90,280.50 L324.00,280.50 L324.10,280.50 L324.20,280.50 L324.30,280.50 L324.40,280.50 L324.50,280.50 L324.60,280.50 L324.70,280.50 L324.80,280.50 L324.90,280.50 L325.00,280.50 L325.10,280.50 L325.20,280.50 L325.30,280.50 L325.40,280.50 L325.50,280.50 L325.60,280.50 L325.70,280.50 L325.80,280.50 L325.90,280.50 L326.00,280.50 L326.10,280.50 L326.20,280.50 L326.30,280.50 L326.40,280.50 L326.50,280.50 L326.60,280.50 L326.70,280.50 L326.80,280.50 L326.90,280.50 L327.00,280.50 L327.10,280.50 L327.20,280.50 L327.30,280.50 L327.40,280.50 L327.50,280.50 L327.60,280.50 L327.70,280.50 L327.80,280.50 L327.90,280.50 L328.00,280.50 L328.10,280.50 L328.20,280.50 L328.30,280.50 L328.40,280.50 L328.50,280.50 L328.60,280.50 L328.70,280.50 L328.80,280.50 L328.90,280.50 L329.00,280.50 L329.10,280.50 L329.20,280.50 L329.30,280.50 L329.40,280.50 L329.50,280.50 L329.60,280.50 L329.70,280.50 L329.80,280.50 L329.90,280.50 L330.00,280.50 L330.10,280.50 L330.20,280.50 L330.30,280.50 L330.40,280.50 L330.50,280.50 L330.60,280.50 L330.70,280.50 L330.80,280.50 L330.90,280.50 L331.00,280.50 L331.10,280.50 L331.20,280.50 L331.30,280.50 L331.40,280.50 L331.50,280.50 L331.60,280.50 L331.70,280.50 L331.80,280.50 L331.90,280.50 L332.00,280.50 L332.10,280.50 L332.20,280.50 L332.30,280.50 L332.40,280.50 L332.50,280.50 L332.60,280.50 L332.70,280.50 L332.80,280.50 L332.90,280.50 L333.00,280.50 L333.10,280.50 L333.20,280.50 L333.30,280.50 L333.40,280.50 L333.50,280.50 L333.60,280.50 L333.70,280.50 L333.80,280.50 L333.90,280.50 L334.00,280.50 L334.10,280.50 L334.20,280.50 L334.30,280.50 L334.40,280.50 L334.50,280.50 L334.60,280.50 L334.70,280.50 L334.80,280.50 L334.90,280.50 L335.00,280.50 L335.10,280.50 L335.20,280.50 L335.30,280.50 L335.40,280.50 L335.50,280.50 L335.60,280.50 L335.70,280.50 L335.80,280.50 L335.90,280.50 L336.00,280.50 L336.10,280.50 L336.20,280.50 L336.30,280.50 L336.40,280.50 L336.50,280.50 L336.60,280.50 L336.70,280.50 L336.80,280.50 L336.90,280.50 L337.00,280.50 L337.10,280.50 L337.20,280.50 L337.30,280.50 L337.40,280.50 L337.50,280.50 L337.60,280.50 L337.70,280.50 L337.80,280.50 L337.90,280.50 L338.00,280.50 L338.10,280.50 L338.20,280.50 L338.30,280.50 L338.40,280.50 L338.50,280.50 L338.60,280.50 L338.70,280.50 L338.80,280.50 L338.90,280.50 L339.00,280.50 L339.10,280.50 L339.20,280.50 L339.30,280.50 L339.40,280.50 L339.50,280.50 L339.60,280.50 L339.70,280.50 L339.80,280.50 L339.90,280.50 L340.00,280.50 L340.10,280.50 L340.20,280.50 L340.30,280.50 L340.40,280.50 L340.50,280.50 L340.60,280.50 L340.70,280.50 L340.80,280.50 L340.90,280.50 L341.00,280.50 L341.10,280.50 L341.20,280.50 L341.30,280.50 L341.40,280.50 L341.50,280.50 L341.60,280.50 L341.70,280.50 L341.80,280.50 L341.90,280.50 L342.00,280.50 L342.10,280.50 L342.20,280.50 L342.30,280.50 L342.40,280.50 L342.50,280.50 L342.60,280.50 L342.70,280.50 L342.80,280.50 L342.90,280.50 L343.00,280.50 L343.10,280.50 L343.20,280.50 L343.30,280.50 L343.40,280.50 L343.50,280.50 L343.60,280.50 L343.70,280.50 L343.80,280.50 L343.90,280.50 L344.00,280.50 L344.10,280.50 L344.20,280.50 L344.30,280.50 L344.40,280.50 L344.50,280.50 L344.60,280.50 L344.70,280.50 L344.80,280.50 L344.90,280.49 L345.00,280.49 L345.10,280.47 L345.20,280.45 L345.30,280.40 L345.40,280.32 L345.50,280.19 L345.60,279.96 L345.70,279.60 L345.80,279.05 L345.90,278.23 L346.00,277.07 L346.10,275.48 L346.20,273.40 L346.30,270.78 L346.40,267.63 L346.50,264.00 L346.60,260.05 L346.70,255.97 L346.80,252.04 L346.90,248.55 L347.00,245.79 L347.10,244.03 L347.20,243.42 L347.30,244.03 L347.40,245.79 L347.50,248.55 L347.60,252.04 L347.70,255.97 L347.80,260.05 L347.90,264.00 L348.00,267.63 L348.10,270.78 L348.20,273.40 L348.30,275.48 L348.40,277.07 L348.50,278.23 L348.60,279.05 L348.70,279.60 L348.80,279.96 L348.90,280.19 L349.00,280.32 L349.10,280.40 L349.20,280.45 L349.30,280.47 L349.40,280.49 L349.50,280.49 L349.60,280.50 L349.70,280.50 L349.80,280.50 L349.90,280.50 L350.00,280.50 L350.10,280.50 L350.20,280.50 L350.30,280.50 L350.40,280.50 L350.50,280.50 L350.60,280.50 L350.70,280.50 L350.80,280.50 L350.90,280.50 L351.00,280.50 L351.10,280.50 L351.20,280.50 L351.30,280.50 L351.40,280.50 L351.50,280.50 L351.60,280.50 L351.70,280.50 L351.80,280.50 L351.90,280.50 L352.00,280.50 L352.10,280.50 L352.20,280.50 L352.30,280.50 L352.40,280.50 L352.50,280.50 L352.60,280.50 L352.70,280.50 L352.80,280.50 L352.90,280.50 L353.00,280.50 L353.10,280.50 L353.20,280.50 L353.30,280.50 L353.40,280.50 L353.50,280.50 L353.60,280.50 L353.70,280.50 L353.80,280.50 L353.90,280.50 L354.00,280.50 L354.10,280.50 L354.20,280.50 L354.30,280.50 L354.40,280.50 L354.50,280.50 L354.60,280.50 L354.70,280.50 L354.80,280.50 L354.90,280.50 L355.00,280.50 L355.10,280.50 L355.20,280.50 L355.30,280.50 L355.40,280.50 L355.50,280.50 L355.60,280.50 L355.70,280.50 L355.80,280.50 L355.90,280.50 L356.00,280.50 L356.10,280.50 L356.20,280.50 L356.30,280.50 L356.40,280.50 L356.50,280.50 L356.60,280.50 L356.70,280.50 L356.80,280.50 L356.90,280.50 L357.00,280.50 L357.10,280.50 L357.20,280.50 L357.30,280.50 L357.40,280.50 L357.50,280.50 L357.60,280.50 L357.70,280.50 L357.80,280.50 L357.90,280.50 L358.00,280.50 L358.10,280.50 L358.20,280.50 L358.30,280.50 L358.40,280.50 L358.50,280.50 L358.60,280.50 L358.70,280.50 L358.80,280.50 L358.90,280.50 L359.00,280.50 L359.10,280.50 L359.20,280.50 L359.30,280.50 L359.40,280.50 L359.50,280.50 L359.60,280.50 L359.70,280.50 L359.80,280.50 L359.90,280.50 L360.00,280.50 L360.10,280.50 L360.20,280.50 L360.30,280.50 L360.40,280.50 L360.50,280.50 L360.60,280.50 L360.70,280.50 L360.80,280.50 L360.90,280.50 L361.00,280.50 L361.10,280.50 L361.20,280.50 L361.30,280.50 L361.40,280.50 L361.50,280.50 L361.60,280.50 L361.70,280.50 L361.80,280.50 L361.90,280.50 L362.00,280.50 L362.10,280.50 L362.20,280.50 L362.30,280.50 L362.40,280.50 L362.50,280.50 L362.60,280.50 L362.70,280.50 L362.80,280.50 L362.90,280.50 L363.00,280.50 L363.10,280.50 L363.20,280.50 L363.30,280.50 L363.40,280.50 L363.50,280.50 L363.60,280.50 L363.70,280.50 L363.80,280.50 L363.90,280.50 L364.00,280.50 L364.10,280.50 L364.20,280.50 L364.30,280.50 L364.40,280.50 L364.50,280.50 L364.60,280.50 L364.70,280.50 L364.80,280.50 L364.90,280.50 L365.00,280.50 L365.10,280.50 L365.20,280.50 L365.30,280.50 L365.40,280.50 L365.50,280.50 L365.60,280.50 L365.70,280.50 L365.80,280.50 L365.90,280.50 L366.00,280.50 L366.10,280.50 L366.20,280.50 L366.30,280.50 L366.40,280.50 L366.50,280.50 L366.60,280.50 L366.70,280.50 L366.80,280.50 L366.90,280.50 L367.00,280.50 L367.10,280.50 L367.20,280.50 L367.30,280.50 L367.40,280.50 L367.50,280.50 L367.60,280.50 L367.70,280.50 L367.80,280.50 L367.90,280.50 L368.00,280.50 L368.10,280.50 L368.20,280.50 L368.30,280.50 L368.40,280.50 L368.50,280.50 L368.60,280.50 L368.70,280.50 L368.80,280.50 L368.90,280.50 L369.00,280.50 L369.10,280.50 L369.20,280.50 L369.30,280.50 L369.40,280.50 L369.50,280.50 L369.60,280.50 L369.70,280.50 L369.80,280.50 L369.90,280.50 L370.00,280.50 L370.10,280.50 L370.20,280.50 L370.30,280.50 L370.40,280.50 L370.50,280.50 L370.60,280.50 L370.70,280.50 L370.80,280.50 L370.90,280.50 L371.00,280.50 L371.10,280.50 L371.20,280.50 L371.30,280.50 L371.40,280.50 L371.50,280.50 L371.60,280.50 L371.70,280.50 L371.80,280.50 L371.90,280.50 L372.00,280.50 L372.10,280.50 L372.20,280.50 L372.30,280.50 L372.40,280.50 L372.50,280.50 L372.60,280.50 L372.70,280.50 L372.80,280.50 L372.90,280.50 L373.00,280.50 L373.10,280.50 L373.20,280.50 L373.30,280.50 L373.40,280.50 L373.50,280.50 L373.60,280.50 L373.70,280.50 L373.80,280.50 L373.90,280.50 L374.00,280.50 L374.10,280.50 L374.20,280.50 L374.30,280.50 L374.40,280.50 L374.50,280.50 L374.60,280.50 L374.70,280.50 L374.80,280.50 L374.90,280.50 L375.00,280.50 L375.10,280.50 L375.20,280.50 L375.30,280.50 L375.40,280.50 L375.50,280.50 L375.60,280.50 L375.70,280.50 L375.80,280.50 L375.90,280.50 L376.00,280.50 L376.10,280.50 L376.20,280.50 L376.30,280.50 L376.40,280.50 L376.50,280.50 L376.60,280.50 L376.70,280.50 L376.80,280.50 L376.90,280.50 L377.00,280.50 L377.10,280.50 L377.20,280.50 L377.30,280.50 L377.40,280.50 L377.50,280.50 L377.60,280.50 L377.70,280.50 L377.80,280.50 L377.90,280.50 L378.00,280.50 L378.10,280.50 L378.20,280.50 L378.30,280.50 L378.40,280.50 L378.50,280.50 L378.60,280.50 L378.70,280.50 L378.80,280.50 L378.90,280.50 L379.00,280.50 L379.10,280.50 L379.20,280.50 L379.30,280.50 L379.40,280.50 L379.50,280.50 L379.60,280.50 L379.70,280.50 L379.80,280.50 L379.90,280.50 L380.00,280.50 L380.10,280.50 L380.20,280.50 L380.30,280.50 L380.40,280.50 L380.50,280.50 L380.60,280.50 L380.70,280.50 L380.80,280.50 L380.90,280.50 L381.00,280.50 L381.10,280.50 L381.20,280.50 L381.30,280.50 L381.40,280.50 L381.50,280.50 L381.60,280.50 L381.70,280.50 L381.80,280.50 L381.90,280.50 L382.00,280.50 L382.10,280.50 L382.20,280.50 L382.30,280.50 L382.40,280.50 L382.50,280.50 L382.60,280.50 L382.70,280.50 L382.80,280.50 L382.90,280.50 L383.00,280.50 L383.10,280.50 L383.20,280.50 L383.30,280.50 L383.40,280.50 L383.50,280.50 L383.60,280.50 L383.70,280.50 L383.80,280.50 L383.90,280.50 L384.00,280.50 L384.10,280.50 L384.20,280.50 L384.30,280.50 L384.40,280.50 L384.50,280.50 L384.60,280.50 L384.70,280.50 L384.80,280.49 L384.90,280.49 L385.00,280.48 L385.10,280.46 L385.20,280.43 L385.30,280.39 L385.40,280.31 L385.50,280.20 L385.60,280.03 L385.70,279.79 L385.80,279.45 L385.90,279.02 L386.00,278.47 L386.10,277.82 L386.20,277.06 L386.30,276.24 L386.40,275.39 L386.50,274.57 L386.60,273.84 L386.70,273.27 L386.80,272.90 L386.90,272.77 L387.00,272.90 L387.10,273.27 L387.20,273.84 L387.30,274.57 L387.40,275.39 L387.50,276.24 L387.60,277.06 L387.70,277.82 L387.80,278.47 L387.90,279.02 L388.00,279.45 L388.10,279.79 L388.20,280.03 L388.30,280.20 L388.40,280.12 L388.50,279.91 L388.60,279.61 L388.70,279.20 L388.80,278.67 L388.90,277.99 L389.00,277.17 L389.10,276.24 L389.20,275.22 L389.30,274.16 L389.40,273.15 L389.50,272.25 L389.60,271.53 L389.70,271.08 L389.80,270.92 L389.90,271.08 L390.00,271.53 L390.10,272.25 L390.20,273.15 L390.30,274.16 L390.40,275.22 L390.50,276.24 L390.60,277.17 L390.70,277.99 L390.80,278.67 L390.90,279.20 L391.00,279.61 L391.10,279.91 L391.20,280.12 L391.30,280.27 L391.40,280.36 L391.50,280.42 L391.60,280.45 L391.70,280.48 L391.80,280.49 L391.90,280.49 L392.00,280.50 L392.10,280.50 L392.20,280.50 L392.30,280.50 L392.40,280.50 L392.50,280.50 L392.60,280.50 L392.70,280.50 L392.80,280.50 L392.90,280.50 L393.00,280.50 L393.10,280.50 L393.20,280.50 L393.30,280.50 L393.30,280.50 L203.20,280.50 Z" fill="#e2b0c6" fill-opacity="0.55" stroke="#e2b0c6" stroke-opacity="0.75" stroke-width="0.8" stroke-linejoin="round"/>
<text x="299.90" y="185.40" font-size="5.5" fill="#222" text-anchor="start" textLength="72.8" lengthAdjust="spacingAndGlyphs" >Peptides found in PD-FVIII+VWF</text>
<rect x="308.5" y="191.35000000000002" width="14.0" height="0.9" fill="#acd0ee"/>
<rect x="308.5" y="199.85000000000002" width="14.0" height="0.9" fill="#e2b0c6"/>
<text x="326.90" y="193.50" font-size="5.7" fill="#222" text-anchor="start" textLength="35.8" lengthAdjust="spacingAndGlyphs" >Non-HA Donors</text>
<text x="326.90" y="202.40" font-size="5.7" fill="#222" text-anchor="start" textLength="26.6" lengthAdjust="spacingAndGlyphs" >HA Patients</text>
<rect x="201.80" y="290.00" width="27.70" height="5.00" fill="#c9573a" stroke="#2a1e1a" stroke-width="0.65"/>
<rect x="202.80" y="292.20" width="25.70" height="0.6" fill="#000" opacity="0.22"/>
<text x="215.65" y="294.10" font-size="4.6" fill="#2a1a18" text-anchor="middle" >A1</text>
<rect x="229.50" y="290.00" width="3.20" height="5.00" fill="#a8d4ea" stroke="#2a1e1a" stroke-width="0.65"/>
<rect x="232.70" y="290.00" width="27.30" height="5.00" fill="#c9573a" stroke="#2a1e1a" stroke-width="0.65"/>
<rect x="233.70" y="292.20" width="25.30" height="0.6" fill="#000" opacity="0.22"/>
<text x="246.35" y="294.10" font-size="4.6" fill="#2a1a18" text-anchor="middle" >A2</text>
<rect x="260.00" y="290.00" width="3.00" height="5.00" fill="#a8d4ea" stroke="#2a1e1a" stroke-width="0.65"/>
<rect x="263.00" y="290.00" width="73.40" height="5.00" fill="#f5dc3c" stroke="#2a1e1a" stroke-width="0.65"/>
<rect x="264.00" y="292.20" width="71.40" height="0.6" fill="#000" opacity="0.22"/>
<text x="299.70" y="294.10" font-size="4.6" fill="#2a1a18" text-anchor="middle" >B</text>
<rect x="336.40" y="290.00" width="3.60" height="5.00" fill="#a8d4ea" stroke="#2a1e1a" stroke-width="0.65"/>
<rect x="340.00" y="290.00" width="26.80" height="5.00" fill="#f2c4c8" stroke="#2a1e1a" stroke-width="0.65"/>
<rect x="341.00" y="292.20" width="24.80" height="0.6" fill="#000" opacity="0.22"/>
<text x="353.40" y="294.10" font-size="4.6" fill="#2a1a18" text-anchor="middle" >A3</text>
<rect x="366.80" y="290.00" width="14.20" height="5.00" fill="#f2c4c8" stroke="#2a1e1a" stroke-width="0.65"/>
<rect x="367.80" y="292.20" width="12.20" height="0.6" fill="#000" opacity="0.22"/>
<text x="373.90" y="294.10" font-size="4.6" fill="#2a1a18" text-anchor="middle" >C1</text>
<rect x="381.00" y="290.00" width="12.60" height="5.00" fill="#f2c4c8" stroke="#2a1e1a" stroke-width="0.65"/>
<rect x="382.00" y="292.20" width="10.60" height="0.6" fill="#000" opacity="0.22"/>
<text x="387.30" y="294.10" font-size="4.6" fill="#2a1a18" text-anchor="middle" >C2</text>
<text x="298.00" y="305.70" font-size="8.0" fill="#222" text-anchor="middle" textLength="58.2" lengthAdjust="spacingAndGlyphs" >Position on FVIII</text>
<rect x="436.8" y="7" width="1.3" height="245.3" fill="#1a1a1a"/>
<rect x="436.8" y="251.1" width="76.2" height="1.3" fill="#1a1a1a"/>
<rect x="433.6" y="240.55" width="3.4" height="0.9" fill="#222"/>
<text x="431.00" y="243.10" font-size="6.2" fill="#222" text-anchor="end" >0</text>
<rect x="433.6" y="181.85" width="3.4" height="0.9" fill="#222"/>
<text x="431.00" y="184.40" font-size="6.2" fill="#222" text-anchor="end" >500</text>
<rect x="433.6" y="123.15" width="3.4" height="0.9" fill="#222"/>
<text x="431.00" y="125.70" font-size="6.2" fill="#222" text-anchor="end" >1000</text>
<rect x="433.6" y="64.45" width="3.4" height="0.9" fill="#222"/>
<text x="431.00" y="67.00" font-size="6.2" fill="#222" text-anchor="end" >1500</text>
<rect x="441.5" y="226.44" width="20.70" height="14.56" fill="#735a8e"/>
<text x="451.85" y="221.94" font-size="5.6" fill="#222" text-anchor="middle" >124</text>
<rect x="451.25" y="252" width="0.9" height="2.6" fill="#222"/>
<text x="451.70" y="264.30" font-size="6.2" fill="#222" text-anchor="middle" >DQ</text>
<rect x="464.9" y="196.86" width="20.90" height="44.14" fill="#735a8e"/>
<text x="475.35" y="192.36" font-size="5.6" fill="#222" text-anchor="middle" >376</text>
<rect x="474.85" y="252" width="0.9" height="2.6" fill="#222"/>
<text x="475.30" y="264.30" font-size="6.2" fill="#222" text-anchor="middle" >DP</text>
<rect x="488.2" y="30.15" width="20.90" height="210.85" fill="#735a8e"/>
<text x="498.65" y="25.65" font-size="5.6" fill="#222" text-anchor="middle" >1796</text>
<rect x="498.15" y="252" width="0.9" height="2.6" fill="#222"/>
<text x="498.60" y="264.30" font-size="6.2" fill="#222" text-anchor="middle" >DR</text>
<text x="475.30" y="276.50" font-size="8.6" fill="#222" text-anchor="middle" >Allele</text>
<text transform="translate(411.3,128.8) rotate(-90)" font-size="8.4" fill="#222" text-anchor="middle" textLength="160.4" lengthAdjust="spacingAndGlyphs">Number of peptides found in MAPPS assay</text>
</svg>
</body></html>
